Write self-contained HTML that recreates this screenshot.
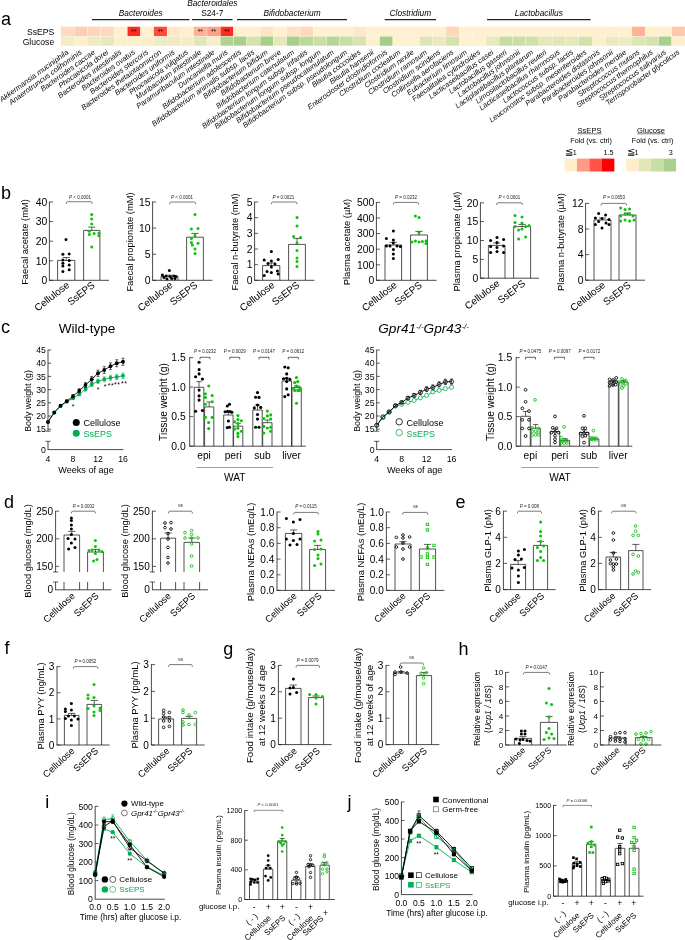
<!DOCTYPE html>
<html lang="en"><head><meta charset="utf-8"><title>Figure</title>
<style>
html,body{margin:0;padding:0;background:#fff;}
body{width:685px;height:940px;overflow:hidden;}
svg{display:block;font-family:'Liberation Sans', Arial, sans-serif;}
text{font-family:'Liberation Sans', Arial, sans-serif;}
</style></head>
<body>
<svg width="685" height="940" viewBox="0 0 685 940">
<rect x="0" y="0" width="685" height="940" fill="#ffffff"/>
<rect x="60.90" y="26.60" width="13.33" height="9.70" fill="#ffd9c0" stroke="#fff6e4" stroke-width="0.35"/>
<rect x="60.90" y="36.30" width="13.33" height="9.60" fill="#f3ecc6" stroke="#fff6e4" stroke-width="0.35"/>
<rect x="74.18" y="26.60" width="13.33" height="9.70" fill="#ffcdb4" stroke="#fff6e4" stroke-width="0.35"/>
<rect x="74.18" y="36.30" width="13.33" height="9.60" fill="#fbefcc" stroke="#fff6e4" stroke-width="0.35"/>
<rect x="87.46" y="26.60" width="13.33" height="9.70" fill="#ffd5bc" stroke="#fff6e4" stroke-width="0.35"/>
<rect x="87.46" y="36.30" width="13.33" height="9.60" fill="#eeeac2" stroke="#fff6e4" stroke-width="0.35"/>
<rect x="100.74" y="26.60" width="13.33" height="9.70" fill="#ffd8c0" stroke="#fff6e4" stroke-width="0.35"/>
<rect x="100.74" y="36.30" width="13.33" height="9.60" fill="#e9e8bd" stroke="#fff6e4" stroke-width="0.35"/>
<rect x="114.02" y="26.60" width="13.33" height="9.70" fill="#fff0d0" stroke="#fff6e4" stroke-width="0.35"/>
<rect x="114.02" y="36.30" width="13.33" height="9.60" fill="#fbefcc" stroke="#fff6e4" stroke-width="0.35"/>
<rect x="127.30" y="26.60" width="13.33" height="9.70" fill="#ff2a20" stroke="#fff6e4" stroke-width="0.35"/>
<rect x="127.30" y="36.30" width="13.33" height="9.60" fill="#fdf0cf" stroke="#fff6e4" stroke-width="0.35"/>
<rect x="140.58" y="26.60" width="13.33" height="9.70" fill="#fff0d0" stroke="#fff6e4" stroke-width="0.35"/>
<rect x="140.58" y="36.30" width="13.33" height="9.60" fill="#f8eeca" stroke="#fff6e4" stroke-width="0.35"/>
<rect x="153.86" y="26.60" width="13.33" height="9.70" fill="#ff4a3c" stroke="#fff6e4" stroke-width="0.35"/>
<rect x="153.86" y="36.30" width="13.33" height="9.60" fill="#efebc4" stroke="#fff6e4" stroke-width="0.35"/>
<rect x="167.14" y="26.60" width="13.33" height="9.70" fill="#ffe6cc" stroke="#fff6e4" stroke-width="0.35"/>
<rect x="167.14" y="36.30" width="13.33" height="9.60" fill="#eeeac2" stroke="#fff6e4" stroke-width="0.35"/>
<rect x="180.42" y="26.60" width="13.33" height="9.70" fill="#fff0d0" stroke="#fff6e4" stroke-width="0.35"/>
<rect x="180.42" y="36.30" width="13.33" height="9.60" fill="#f5edc8" stroke="#fff6e4" stroke-width="0.35"/>
<rect x="193.70" y="26.60" width="13.33" height="9.70" fill="#ffb09a" stroke="#fff6e4" stroke-width="0.35"/>
<rect x="193.70" y="36.30" width="13.33" height="9.60" fill="#e0e6b6" stroke="#fff6e4" stroke-width="0.35"/>
<rect x="206.98" y="26.60" width="13.33" height="9.70" fill="#ffa08c" stroke="#fff6e4" stroke-width="0.35"/>
<rect x="206.98" y="36.30" width="13.33" height="9.60" fill="#f5eec8" stroke="#fff6e4" stroke-width="0.35"/>
<rect x="220.26" y="26.60" width="13.33" height="9.70" fill="#ff2a20" stroke="#fff6e4" stroke-width="0.35"/>
<rect x="220.26" y="36.30" width="13.33" height="9.60" fill="#b0d392" stroke="#fff6e4" stroke-width="0.35"/>
<rect x="233.54" y="26.60" width="13.33" height="9.70" fill="#fff0d0" stroke="#fff6e4" stroke-width="0.35"/>
<rect x="233.54" y="36.30" width="13.33" height="9.60" fill="#a8d08c" stroke="#fff6e4" stroke-width="0.35"/>
<rect x="246.82" y="26.60" width="13.33" height="9.70" fill="#fff0d0" stroke="#fff6e4" stroke-width="0.35"/>
<rect x="246.82" y="36.30" width="13.33" height="9.60" fill="#d6e2ae" stroke="#fff6e4" stroke-width="0.35"/>
<rect x="260.10" y="26.60" width="13.33" height="9.70" fill="#ffe4c8" stroke="#fff6e4" stroke-width="0.35"/>
<rect x="260.10" y="36.30" width="13.33" height="9.60" fill="#a6cf8a" stroke="#fff6e4" stroke-width="0.35"/>
<rect x="273.38" y="26.60" width="13.33" height="9.70" fill="#fff0d0" stroke="#fff6e4" stroke-width="0.35"/>
<rect x="273.38" y="36.30" width="13.33" height="9.60" fill="#e6e8ba" stroke="#fff6e4" stroke-width="0.35"/>
<rect x="286.66" y="26.60" width="13.33" height="9.70" fill="#ffe2c6" stroke="#fff6e4" stroke-width="0.35"/>
<rect x="286.66" y="36.30" width="13.33" height="9.60" fill="#a6cf8a" stroke="#fff6e4" stroke-width="0.35"/>
<rect x="299.94" y="26.60" width="13.33" height="9.70" fill="#ffd9be" stroke="#fff6e4" stroke-width="0.35"/>
<rect x="299.94" y="36.30" width="13.33" height="9.60" fill="#bcd99c" stroke="#fff6e4" stroke-width="0.35"/>
<rect x="313.22" y="26.60" width="13.33" height="9.70" fill="#fff0d0" stroke="#fff6e4" stroke-width="0.35"/>
<rect x="313.22" y="36.30" width="13.33" height="9.60" fill="#cbdea6" stroke="#fff6e4" stroke-width="0.35"/>
<rect x="326.50" y="26.60" width="13.33" height="9.70" fill="#fff0d0" stroke="#fff6e4" stroke-width="0.35"/>
<rect x="326.50" y="36.30" width="13.33" height="9.60" fill="#b4d596" stroke="#fff6e4" stroke-width="0.35"/>
<rect x="339.78" y="26.60" width="13.33" height="9.70" fill="#fff0d0" stroke="#fff6e4" stroke-width="0.35"/>
<rect x="339.78" y="36.30" width="13.33" height="9.60" fill="#c8dda4" stroke="#fff6e4" stroke-width="0.35"/>
<rect x="353.06" y="26.60" width="13.33" height="9.70" fill="#ffe6cc" stroke="#fff6e4" stroke-width="0.35"/>
<rect x="353.06" y="36.30" width="13.33" height="9.60" fill="#d8e3b0" stroke="#fff6e4" stroke-width="0.35"/>
<rect x="366.34" y="26.60" width="13.33" height="9.70" fill="#fff0d0" stroke="#fff6e4" stroke-width="0.35"/>
<rect x="366.34" y="36.30" width="13.33" height="9.60" fill="#fdf0ce" stroke="#fff6e4" stroke-width="0.35"/>
<rect x="379.62" y="26.60" width="13.33" height="9.70" fill="#fff0d0" stroke="#fff6e4" stroke-width="0.35"/>
<rect x="379.62" y="36.30" width="13.33" height="9.60" fill="#a4ce88" stroke="#fff6e4" stroke-width="0.35"/>
<rect x="392.90" y="26.60" width="13.33" height="9.70" fill="#fff0d0" stroke="#fff6e4" stroke-width="0.35"/>
<rect x="392.90" y="36.30" width="13.33" height="9.60" fill="#fff0d0" stroke="#fff6e4" stroke-width="0.35"/>
<rect x="406.18" y="26.60" width="13.33" height="9.70" fill="#fff0d0" stroke="#fff6e4" stroke-width="0.35"/>
<rect x="406.18" y="36.30" width="13.33" height="9.60" fill="#fff0d0" stroke="#fff6e4" stroke-width="0.35"/>
<rect x="419.46" y="26.60" width="13.33" height="9.70" fill="#fff0d0" stroke="#fff6e4" stroke-width="0.35"/>
<rect x="419.46" y="36.30" width="13.33" height="9.60" fill="#dde5b4" stroke="#fff6e4" stroke-width="0.35"/>
<rect x="432.74" y="26.60" width="13.33" height="9.70" fill="#fff0d0" stroke="#fff6e4" stroke-width="0.35"/>
<rect x="432.74" y="36.30" width="13.33" height="9.60" fill="#ece9c0" stroke="#fff6e4" stroke-width="0.35"/>
<rect x="446.02" y="26.60" width="13.33" height="9.70" fill="#ffd6ba" stroke="#fff6e4" stroke-width="0.35"/>
<rect x="446.02" y="36.30" width="13.33" height="9.60" fill="#d6e2ae" stroke="#fff6e4" stroke-width="0.35"/>
<rect x="459.30" y="26.60" width="13.33" height="9.70" fill="#fff0d0" stroke="#fff6e4" stroke-width="0.35"/>
<rect x="459.30" y="36.30" width="13.33" height="9.60" fill="#fff0d0" stroke="#fff6e4" stroke-width="0.35"/>
<rect x="472.58" y="26.60" width="13.33" height="9.70" fill="#fff0d0" stroke="#fff6e4" stroke-width="0.35"/>
<rect x="472.58" y="36.30" width="13.33" height="9.60" fill="#fff0d0" stroke="#fff6e4" stroke-width="0.35"/>
<rect x="485.86" y="26.60" width="13.33" height="9.70" fill="#fff0d0" stroke="#fff6e4" stroke-width="0.35"/>
<rect x="485.86" y="36.30" width="13.33" height="9.60" fill="#e8e9bc" stroke="#fff6e4" stroke-width="0.35"/>
<rect x="499.14" y="26.60" width="13.33" height="9.70" fill="#fff0d0" stroke="#fff6e4" stroke-width="0.35"/>
<rect x="499.14" y="36.30" width="13.33" height="9.60" fill="#c6dca2" stroke="#fff6e4" stroke-width="0.35"/>
<rect x="512.42" y="26.60" width="13.33" height="9.70" fill="#fff0d0" stroke="#fff6e4" stroke-width="0.35"/>
<rect x="512.42" y="36.30" width="13.33" height="9.60" fill="#cbdea6" stroke="#fff6e4" stroke-width="0.35"/>
<rect x="525.70" y="26.60" width="13.33" height="9.70" fill="#fff0d0" stroke="#fff6e4" stroke-width="0.35"/>
<rect x="525.70" y="36.30" width="13.33" height="9.60" fill="#d0e0aa" stroke="#fff6e4" stroke-width="0.35"/>
<rect x="538.98" y="26.60" width="13.33" height="9.70" fill="#fff0d0" stroke="#fff6e4" stroke-width="0.35"/>
<rect x="538.98" y="36.30" width="13.33" height="9.60" fill="#e6e8ba" stroke="#fff6e4" stroke-width="0.35"/>
<rect x="552.26" y="26.60" width="13.33" height="9.70" fill="#fff0d0" stroke="#fff6e4" stroke-width="0.35"/>
<rect x="552.26" y="36.30" width="13.33" height="9.60" fill="#e0e6b6" stroke="#fff6e4" stroke-width="0.35"/>
<rect x="565.54" y="26.60" width="13.33" height="9.70" fill="#fff0d0" stroke="#fff6e4" stroke-width="0.35"/>
<rect x="565.54" y="36.30" width="13.33" height="9.60" fill="#e6e7ba" stroke="#fff6e4" stroke-width="0.35"/>
<rect x="578.82" y="26.60" width="13.33" height="9.70" fill="#fff0d0" stroke="#fff6e4" stroke-width="0.35"/>
<rect x="578.82" y="36.30" width="13.33" height="9.60" fill="#d4e1ac" stroke="#fff6e4" stroke-width="0.35"/>
<rect x="592.10" y="26.60" width="13.33" height="9.70" fill="#ffeed0" stroke="#fff6e4" stroke-width="0.35"/>
<rect x="592.10" y="36.30" width="13.33" height="9.60" fill="#fbefcc" stroke="#fff6e4" stroke-width="0.35"/>
<rect x="605.38" y="26.60" width="13.33" height="9.70" fill="#ffeed0" stroke="#fff6e4" stroke-width="0.35"/>
<rect x="605.38" y="36.30" width="13.33" height="9.60" fill="#ece9c0" stroke="#fff6e4" stroke-width="0.35"/>
<rect x="618.66" y="26.60" width="13.33" height="9.70" fill="#fff0d0" stroke="#fff6e4" stroke-width="0.35"/>
<rect x="618.66" y="36.30" width="13.33" height="9.60" fill="#f0ebc4" stroke="#fff6e4" stroke-width="0.35"/>
<rect x="631.94" y="26.60" width="13.33" height="9.70" fill="#ffb296" stroke="#fff6e4" stroke-width="0.35"/>
<rect x="631.94" y="36.30" width="13.33" height="9.60" fill="#dde5b4" stroke="#fff6e4" stroke-width="0.35"/>
<rect x="645.22" y="26.60" width="13.33" height="9.70" fill="#fff0d0" stroke="#fff6e4" stroke-width="0.35"/>
<rect x="645.22" y="36.30" width="13.33" height="9.60" fill="#d6e2ae" stroke="#fff6e4" stroke-width="0.35"/>
<rect x="658.50" y="26.60" width="13.33" height="9.70" fill="#fff0d0" stroke="#fff6e4" stroke-width="0.35"/>
<rect x="658.50" y="36.30" width="13.33" height="9.60" fill="#a8d08c" stroke="#fff6e4" stroke-width="0.35"/>
<rect x="671.78" y="26.60" width="13.33" height="9.70" fill="#ffc8ae" stroke="#fff6e4" stroke-width="0.35"/>
<rect x="671.78" y="36.30" width="13.33" height="9.60" fill="#fbefcc" stroke="#fff6e4" stroke-width="0.35"/>
<text x="133.94" y="34.00" font-size="6.6" text-anchor="middle" fill="#1a0000">**</text>
<text x="160.50" y="34.00" font-size="6.6" text-anchor="middle" fill="#1a0000">**</text>
<text x="200.34" y="34.00" font-size="6.6" text-anchor="middle" fill="#1a0000">**</text>
<text x="213.62" y="34.00" font-size="6.6" text-anchor="middle" fill="#1a0000">**</text>
<text x="226.90" y="34.00" font-size="6.6" text-anchor="middle" fill="#1a0000">**</text>
<text font-size="7.5" text-anchor="end" font-style="italic" transform="translate(69.04 53.40) rotate(-36)">Akkermansia muciniphila</text>
<text font-size="7.5" text-anchor="end" font-style="italic" transform="translate(82.32 53.40) rotate(-36)">Anaerotruncus colihominis</text>
<text font-size="7.5" text-anchor="end" font-style="italic" transform="translate(95.60 53.40) rotate(-36)">Bacteroides caccae</text>
<text font-size="7.5" text-anchor="end" font-style="italic" transform="translate(108.88 53.40) rotate(-36)">Phocaeicola dorei</text>
<text font-size="7.5" text-anchor="end" font-style="italic" transform="translate(122.16 53.40) rotate(-36)">Bacteroides intestinalis</text>
<text font-size="7.5" text-anchor="end" font-style="italic" transform="translate(135.44 53.40) rotate(-36)">Bacteroides ovatus</text>
<text font-size="7.5" text-anchor="end" font-style="italic" transform="translate(148.72 53.40) rotate(-36)">Bacteroides stercoris</text>
<text font-size="7.5" text-anchor="end" font-style="italic" transform="translate(162.00 53.40) rotate(-36)">Bacteroides thetaiotaomicron</text>
<text font-size="7.5" text-anchor="end" font-style="italic" transform="translate(175.28 53.40) rotate(-36)">Bacteroides uniformis</text>
<text font-size="7.5" text-anchor="end" font-style="italic" transform="translate(188.56 53.40) rotate(-36)">Phocaeicola vulgatus</text>
<text font-size="7.5" text-anchor="end" font-style="italic" transform="translate(201.84 53.40) rotate(-36)">Muribaculum intestinale</text>
<text font-size="7.5" text-anchor="end" font-style="italic" transform="translate(215.12 53.40) rotate(-36)">Paramuribaculum intestinale</text>
<text font-size="7.5" text-anchor="end" font-style="italic" transform="translate(228.40 53.40) rotate(-36)">Duncaniella muris</text>
<text font-size="7.5" text-anchor="end" font-style="italic" transform="translate(241.68 53.40) rotate(-36)">Bifidobacterium adolescentis</text>
<text font-size="7.5" text-anchor="end" font-style="italic" transform="translate(254.96 53.40) rotate(-36)">Bifidobacterium animalis subsp. lactis</text>
<text font-size="7.5" text-anchor="end" font-style="italic" transform="translate(268.24 53.40) rotate(-36)">Bifidobacterium bifidum</text>
<text font-size="7.5" text-anchor="end" font-style="italic" transform="translate(281.52 53.40) rotate(-36)">Bifidobacterium breve</text>
<text font-size="7.5" text-anchor="end" font-style="italic" transform="translate(294.80 53.40) rotate(-36)">Bifidobacterium catenulatum</text>
<text font-size="7.5" text-anchor="end" font-style="italic" transform="translate(308.08 53.40) rotate(-36)">Bifidobacterium longum subsp. infantis</text>
<text font-size="7.5" text-anchor="end" font-style="italic" transform="translate(321.36 53.40) rotate(-36)">Bifidobacterium longum subsp. longum</text>
<text font-size="7.5" text-anchor="end" font-style="italic" transform="translate(334.64 53.40) rotate(-36)">Bifidobacterium pseudocatenulatum</text>
<text font-size="7.5" text-anchor="end" font-style="italic" transform="translate(347.92 53.40) rotate(-36)">Bifidobacterium subsp. pseudolongum</text>
<text font-size="7.5" text-anchor="end" font-style="italic" transform="translate(361.20 53.40) rotate(-36)">Blautia coccoides</text>
<text font-size="7.5" text-anchor="end" font-style="italic" transform="translate(374.48 53.40) rotate(-36)">Blautia hansenii</text>
<text font-size="7.5" text-anchor="end" font-style="italic" transform="translate(387.76 53.40) rotate(-36)">Enterocloster clostridioformis</text>
<text font-size="7.5" text-anchor="end" font-style="italic" transform="translate(401.04 53.40) rotate(-36)">Clostridium cocleatum</text>
<text font-size="7.5" text-anchor="end" font-style="italic" transform="translate(414.32 53.40) rotate(-36)">Clostridium nexile</text>
<text font-size="7.5" text-anchor="end" font-style="italic" transform="translate(427.60 53.40) rotate(-36)">Clostridium ramosum</text>
<text font-size="7.5" text-anchor="end" font-style="italic" transform="translate(440.88 53.40) rotate(-36)">Clostridium scindens</text>
<text font-size="7.5" text-anchor="end" font-style="italic" transform="translate(454.16 53.40) rotate(-36)">Collinsella aerofaciens</text>
<text font-size="7.5" text-anchor="end" font-style="italic" transform="translate(467.44 53.40) rotate(-36)">Eubacterium limosum</text>
<text font-size="7.5" text-anchor="end" font-style="italic" transform="translate(480.72 53.40) rotate(-36)">Faecalitalea cylindroides</text>
<text font-size="7.5" text-anchor="end" font-style="italic" transform="translate(494.00 53.40) rotate(-36)">Lacticaseibacillus casei</text>
<text font-size="7.5" text-anchor="end" font-style="italic" transform="translate(507.28 53.40) rotate(-36)">Lactobacillus gasseri</text>
<text font-size="7.5" text-anchor="end" font-style="italic" transform="translate(520.56 53.40) rotate(-36)">Lactobacillus johnsonii</text>
<text font-size="7.5" text-anchor="end" font-style="italic" transform="translate(533.84 53.40) rotate(-36)">Lactiplantibacillus plantarum</text>
<text font-size="7.5" text-anchor="end" font-style="italic" transform="translate(547.12 53.40) rotate(-36)">Limosilactobacillus reuteri</text>
<text font-size="7.5" text-anchor="end" font-style="italic" transform="translate(560.40 53.40) rotate(-36)">Lacticaseibacillus rhamnosus</text>
<text font-size="7.5" text-anchor="end" font-style="italic" transform="translate(573.68 53.40) rotate(-36)">Lactococcus subsp. lactis</text>
<text font-size="7.5" text-anchor="end" font-style="italic" transform="translate(586.96 53.40) rotate(-36)">Leuconostoc subsp. mesenteroides</text>
<text font-size="7.5" text-anchor="end" font-style="italic" transform="translate(600.24 53.40) rotate(-36)">Parabacteroides distasonis</text>
<text font-size="7.5" text-anchor="end" font-style="italic" transform="translate(613.52 53.40) rotate(-36)">Parabacteroides johnsonii</text>
<text font-size="7.5" text-anchor="end" font-style="italic" transform="translate(626.80 53.40) rotate(-36)">Parabacteroides merdae</text>
<text font-size="7.5" text-anchor="end" font-style="italic" transform="translate(640.08 53.40) rotate(-36)">Streptococcus mutans</text>
<text font-size="7.5" text-anchor="end" font-style="italic" transform="translate(653.36 53.40) rotate(-36)">Streptococcus thermophilus</text>
<text font-size="7.5" text-anchor="end" font-style="italic" transform="translate(666.64 53.40) rotate(-36)">Streptococcus salivarius</text>
<text font-size="7.5" text-anchor="end" font-style="italic" transform="translate(679.92 53.40) rotate(-36)">Terrisporobacter glycolicus</text>
<text x="1.00" y="24.50" font-size="18" >a</text>
<text x="54.20" y="34.90" font-size="8.6" text-anchor="end">SsEPS</text>
<text x="54.20" y="44.90" font-size="8.6" text-anchor="end">Glucose</text>
<line x1="92.00" y1="19.60" x2="189.50" y2="19.60" stroke="#222" stroke-width="1.1" />
<text x="140.75" y="15.90" font-size="8.3" text-anchor="middle" font-style="italic">Bacteroides</text>
<line x1="237.00" y1="19.60" x2="347.00" y2="19.60" stroke="#222" stroke-width="1.1" />
<text x="292.00" y="15.90" font-size="8.3" text-anchor="middle" font-style="italic">Bifidobacterium</text>
<line x1="384.70" y1="19.60" x2="436.00" y2="19.60" stroke="#222" stroke-width="1.1" />
<text x="410.35" y="15.90" font-size="8.3" text-anchor="middle" font-style="italic">Clostridium</text>
<line x1="487.00" y1="19.60" x2="590.60" y2="19.60" stroke="#222" stroke-width="1.1" />
<text x="538.80" y="15.90" font-size="8.3" text-anchor="middle" font-style="italic">Lactobacillus</text>
<line x1="192.00" y1="19.60" x2="232.50" y2="19.60" stroke="#222" stroke-width="1.1" />
<text x="212.30" y="6.40" font-size="8.3" text-anchor="middle" font-style="italic">Bacteroidales</text>
<text x="212.30" y="15.90" font-size="8.3" text-anchor="middle">S24-7</text>
<text x="589.50" y="132.60" font-size="7.6" text-anchor="middle">SsEPS</text>
<line x1="577.40" y1="133.80" x2="601.60" y2="133.80" stroke="#222" stroke-width="0.6" />
<text x="591.10" y="143.20" font-size="7.2" text-anchor="middle">Fold (vs. ctrl)</text>
<text x="565.10" y="155.40" font-size="9.5" >≦</text>
<text x="572.80" y="155.00" font-size="7.2" >1</text>
<text x="613.60" y="155.00" font-size="7.2" text-anchor="end">1.5</text>
<rect x="564.50" y="158.60" width="12.50" height="12.90" fill="#ffeecb"/>
<rect x="576.95" y="158.60" width="12.50" height="12.90" fill="#ff9a84"/>
<rect x="589.40" y="158.60" width="12.50" height="12.90" fill="#ff5548"/>
<rect x="601.85" y="158.60" width="12.50" height="12.90" fill="#ff0000"/>
<text x="651.00" y="132.60" font-size="7.6" text-anchor="middle">Glucose</text>
<line x1="637.20" y1="133.80" x2="664.80" y2="133.80" stroke="#222" stroke-width="0.6" />
<text x="652.60" y="143.20" font-size="7.2" text-anchor="middle">Fold (vs. ctrl)</text>
<text x="626.80" y="155.40" font-size="9.5" >≦</text>
<text x="634.50" y="155.00" font-size="7.2" >1</text>
<text x="672.80" y="155.00" font-size="7.2" text-anchor="end">3</text>
<rect x="626.20" y="158.60" width="12.50" height="12.90" fill="#ffeecb"/>
<rect x="638.65" y="158.60" width="12.50" height="12.90" fill="#e3e7b8"/>
<rect x="651.10" y="158.60" width="12.50" height="12.90" fill="#c8dda4"/>
<rect x="663.55" y="158.60" width="12.50" height="12.90" fill="#a9d08e"/>
<text x="1.00" y="198.50" font-size="18" >b</text>
<path d="M57.60 280.30 L57.60 260.40 L74.80 260.40 L74.80 280.30" stroke="#1a1a1a" stroke-width="0.75" fill="#fff" />
<path d="M83.60 280.30 L83.60 230.40 L99.90 230.40 L99.90 280.30" stroke="#1a1a1a" stroke-width="0.75" fill="#fff" />
<line x1="66.20" y1="257.50" x2="66.20" y2="260.40" stroke="#1a1a1a" stroke-width="0.7" />
<line x1="62.60" y1="257.50" x2="69.80" y2="257.50" stroke="#1a1a1a" stroke-width="0.7" />
<line x1="91.75" y1="227.10" x2="91.75" y2="230.40" stroke="#1a1a1a" stroke-width="0.7" />
<line x1="88.15" y1="227.10" x2="95.35" y2="227.10" stroke="#1a1a1a" stroke-width="0.7" />
<circle cx="66.00" cy="239.50" r="1.5" fill="#000"/>
<circle cx="62.90" cy="254.20" r="1.5" fill="#000"/>
<circle cx="69.20" cy="253.90" r="1.5" fill="#000"/>
<circle cx="62.90" cy="260.10" r="1.5" fill="#000"/>
<circle cx="69.20" cy="260.60" r="1.5" fill="#000"/>
<circle cx="62.90" cy="263.20" r="1.5" fill="#000"/>
<circle cx="62.90" cy="265.90" r="1.5" fill="#000"/>
<circle cx="69.20" cy="265.10" r="1.5" fill="#000"/>
<circle cx="69.20" cy="269.70" r="1.5" fill="#000"/>
<circle cx="62.90" cy="271.60" r="1.5" fill="#000"/>
<circle cx="91.70" cy="214.40" r="1.5" fill="#0dc10d"/>
<circle cx="91.70" cy="218.90" r="1.5" fill="#0dc10d"/>
<circle cx="91.70" cy="224.00" r="1.5" fill="#0dc10d"/>
<circle cx="89.30" cy="231.20" r="1.5" fill="#0dc10d"/>
<circle cx="89.30" cy="234.50" r="1.5" fill="#0dc10d"/>
<circle cx="94.10" cy="233.60" r="1.5" fill="#0dc10d"/>
<circle cx="98.90" cy="233.30" r="1.5" fill="#0dc10d"/>
<circle cx="98.90" cy="235.70" r="1.5" fill="#0dc10d"/>
<circle cx="91.70" cy="247.00" r="1.5" fill="#0dc10d"/>
<line x1="49.40" y1="201.60" x2="49.40" y2="280.30" stroke="#1a1a1a" stroke-width="0.8" />
<line x1="49.40" y1="202.00" x2="53.00" y2="202.00" stroke="#1a1a1a" stroke-width="0.7" />
<text x="47.40" y="205.74" font-size="10.4" text-anchor="end">40</text>
<line x1="49.40" y1="221.50" x2="53.00" y2="221.50" stroke="#1a1a1a" stroke-width="0.7" />
<text x="47.40" y="225.24" font-size="10.4" text-anchor="end">30</text>
<line x1="49.40" y1="241.20" x2="53.00" y2="241.20" stroke="#1a1a1a" stroke-width="0.7" />
<text x="47.40" y="244.94" font-size="10.4" text-anchor="end">20</text>
<line x1="49.40" y1="260.80" x2="53.00" y2="260.80" stroke="#1a1a1a" stroke-width="0.7" />
<text x="47.40" y="264.54" font-size="10.4" text-anchor="end">10</text>
<line x1="49.40" y1="280.30" x2="53.00" y2="280.30" stroke="#1a1a1a" stroke-width="0.7" />
<text x="47.40" y="284.04" font-size="10.4" text-anchor="end">0</text>
<line x1="49.00" y1="280.30" x2="109.00" y2="280.30" stroke="#1a1a1a" stroke-width="0.8" />
<path d="M66.30 203.90 Q66.30 201.70 67.50 201.70 L91.00 201.70 Q92.20 201.70 92.20 203.90" stroke="#333" stroke-width="0.65" fill="none" />
<text x="80.00" y="198.50" font-size="4.5" text-anchor="middle" fill="#222"><tspan font-style="italic">P</tspan> &lt; 0.0001</text>
<text font-size="9.35" text-anchor="middle" transform="translate(27.57 242.00) rotate(-90)">Faecal acetate (mM)</text>
<text font-size="10.0" text-anchor="end" transform="translate(70.20 286.30) rotate(-38)">Cellulose</text>
<text font-size="10.0" text-anchor="end" transform="translate(95.60 286.30) rotate(-38)">SsEPS</text>
<path d="M161.00 280.30 L161.00 276.40 L178.00 276.40 L178.00 280.30" stroke="#1a1a1a" stroke-width="0.75" fill="#fff" />
<path d="M186.60 280.30 L186.60 237.20 L203.40 237.20 L203.40 280.30" stroke="#1a1a1a" stroke-width="0.75" fill="#fff" />
<line x1="169.50" y1="275.20" x2="169.50" y2="276.40" stroke="#1a1a1a" stroke-width="0.7" />
<line x1="165.90" y1="275.20" x2="173.10" y2="275.20" stroke="#1a1a1a" stroke-width="0.7" />
<line x1="195.00" y1="233.40" x2="195.00" y2="237.20" stroke="#1a1a1a" stroke-width="0.7" />
<line x1="191.40" y1="233.40" x2="198.60" y2="233.40" stroke="#1a1a1a" stroke-width="0.7" />
<circle cx="169.40" cy="270.40" r="1.5" fill="#000"/>
<circle cx="162.40" cy="275.00" r="1.5" fill="#000"/>
<circle cx="166.00" cy="276.00" r="1.5" fill="#000"/>
<circle cx="170.00" cy="276.40" r="1.5" fill="#000"/>
<circle cx="174.00" cy="276.00" r="1.5" fill="#000"/>
<circle cx="176.00" cy="276.40" r="1.5" fill="#000"/>
<circle cx="167.00" cy="279.00" r="1.5" fill="#000"/>
<circle cx="171.60" cy="278.40" r="1.5" fill="#000"/>
<circle cx="164.00" cy="277.60" r="1.5" fill="#000"/>
<circle cx="175.00" cy="278.60" r="1.5" fill="#000"/>
<circle cx="195.00" cy="214.60" r="1.5" fill="#0dc10d"/>
<circle cx="191.40" cy="229.00" r="1.5" fill="#0dc10d"/>
<circle cx="198.00" cy="228.40" r="1.5" fill="#0dc10d"/>
<circle cx="195.00" cy="235.60" r="1.5" fill="#0dc10d"/>
<circle cx="191.40" cy="242.40" r="1.5" fill="#0dc10d"/>
<circle cx="198.00" cy="243.20" r="1.5" fill="#0dc10d"/>
<circle cx="192.40" cy="245.00" r="1.5" fill="#0dc10d"/>
<circle cx="195.00" cy="249.00" r="1.5" fill="#0dc10d"/>
<circle cx="195.00" cy="253.40" r="1.5" fill="#0dc10d"/>
<circle cx="191.40" cy="238.50" r="1.5" fill="#0dc10d"/>
<line x1="152.60" y1="201.60" x2="152.60" y2="280.30" stroke="#1a1a1a" stroke-width="0.8" />
<line x1="152.60" y1="202.00" x2="156.20" y2="202.00" stroke="#1a1a1a" stroke-width="0.7" />
<text x="150.60" y="205.74" font-size="10.4" text-anchor="end">15</text>
<line x1="152.60" y1="228.10" x2="156.20" y2="228.10" stroke="#1a1a1a" stroke-width="0.7" />
<text x="150.60" y="231.84" font-size="10.4" text-anchor="end">10</text>
<line x1="152.60" y1="254.30" x2="156.20" y2="254.30" stroke="#1a1a1a" stroke-width="0.7" />
<text x="150.60" y="258.04" font-size="10.4" text-anchor="end">5</text>
<line x1="152.60" y1="280.30" x2="156.20" y2="280.30" stroke="#1a1a1a" stroke-width="0.7" />
<text x="150.60" y="284.04" font-size="10.4" text-anchor="end">0</text>
<line x1="152.20" y1="280.30" x2="212.40" y2="280.30" stroke="#1a1a1a" stroke-width="0.8" />
<path d="M169.60 204.20 Q169.60 202.00 170.80 202.00 L194.40 202.00 Q195.60 202.00 195.60 204.20" stroke="#333" stroke-width="0.65" fill="none" />
<text x="182.00" y="198.50" font-size="4.5" text-anchor="middle" fill="#222"><tspan font-style="italic">P</tspan> &lt; 0.0001</text>
<text font-size="9.35" text-anchor="middle" transform="translate(133.37 242.00) rotate(-90)">Faecal propionate (mM)</text>
<text font-size="10.0" text-anchor="end" transform="translate(173.50 286.30) rotate(-38)">Cellulose</text>
<text font-size="10.0" text-anchor="end" transform="translate(198.20 286.30) rotate(-38)">SsEPS</text>
<path d="M262.60 280.30 L262.60 265.60 L279.80 265.60 L279.80 280.30" stroke="#1a1a1a" stroke-width="0.75" fill="#fff" />
<path d="M288.60 280.30 L288.60 244.40 L305.40 244.40 L305.40 280.30" stroke="#1a1a1a" stroke-width="0.75" fill="#fff" />
<line x1="271.20" y1="263.00" x2="271.20" y2="265.60" stroke="#1a1a1a" stroke-width="0.7" />
<line x1="267.60" y1="263.00" x2="274.80" y2="263.00" stroke="#1a1a1a" stroke-width="0.7" />
<line x1="297.00" y1="238.40" x2="297.00" y2="244.40" stroke="#1a1a1a" stroke-width="0.7" />
<line x1="293.40" y1="238.40" x2="300.60" y2="238.40" stroke="#1a1a1a" stroke-width="0.7" />
<circle cx="271.40" cy="251.40" r="1.5" fill="#000"/>
<circle cx="264.20" cy="260.00" r="1.5" fill="#000"/>
<circle cx="271.40" cy="261.00" r="1.5" fill="#000"/>
<circle cx="278.20" cy="259.60" r="1.5" fill="#000"/>
<circle cx="268.00" cy="263.60" r="1.5" fill="#000"/>
<circle cx="275.00" cy="264.00" r="1.5" fill="#000"/>
<circle cx="271.40" cy="267.00" r="1.5" fill="#000"/>
<circle cx="267.00" cy="271.60" r="1.5" fill="#000"/>
<circle cx="271.40" cy="272.40" r="1.5" fill="#000"/>
<circle cx="277.40" cy="271.00" r="1.5" fill="#000"/>
<circle cx="264.20" cy="275.60" r="1.5" fill="#000"/>
<circle cx="278.20" cy="274.00" r="1.5" fill="#000"/>
<circle cx="297.00" cy="217.60" r="1.5" fill="#0dc10d"/>
<circle cx="297.00" cy="226.00" r="1.5" fill="#0dc10d"/>
<circle cx="293.60" cy="236.40" r="1.5" fill="#0dc10d"/>
<circle cx="300.60" cy="237.60" r="1.5" fill="#0dc10d"/>
<circle cx="297.00" cy="243.00" r="1.5" fill="#0dc10d"/>
<circle cx="297.00" cy="250.40" r="1.5" fill="#0dc10d"/>
<circle cx="297.00" cy="258.00" r="1.5" fill="#0dc10d"/>
<circle cx="297.00" cy="261.60" r="1.5" fill="#0dc10d"/>
<circle cx="297.00" cy="266.60" r="1.5" fill="#0dc10d"/>
<line x1="254.60" y1="201.60" x2="254.60" y2="280.30" stroke="#1a1a1a" stroke-width="0.8" />
<line x1="254.60" y1="202.00" x2="258.20" y2="202.00" stroke="#1a1a1a" stroke-width="0.7" />
<text x="252.60" y="205.74" font-size="10.4" text-anchor="end">5</text>
<line x1="254.60" y1="217.70" x2="258.20" y2="217.70" stroke="#1a1a1a" stroke-width="0.7" />
<text x="252.60" y="221.44" font-size="10.4" text-anchor="end">4</text>
<line x1="254.60" y1="233.30" x2="258.20" y2="233.30" stroke="#1a1a1a" stroke-width="0.7" />
<text x="252.60" y="237.04" font-size="10.4" text-anchor="end">3</text>
<line x1="254.60" y1="249.00" x2="258.20" y2="249.00" stroke="#1a1a1a" stroke-width="0.7" />
<text x="252.60" y="252.74" font-size="10.4" text-anchor="end">2</text>
<line x1="254.60" y1="264.70" x2="258.20" y2="264.70" stroke="#1a1a1a" stroke-width="0.7" />
<text x="252.60" y="268.44" font-size="10.4" text-anchor="end">1</text>
<line x1="254.60" y1="280.30" x2="258.20" y2="280.30" stroke="#1a1a1a" stroke-width="0.7" />
<text x="252.60" y="284.04" font-size="10.4" text-anchor="end">0</text>
<line x1="254.20" y1="280.30" x2="314.40" y2="280.30" stroke="#1a1a1a" stroke-width="0.8" />
<path d="M271.40 204.20 Q271.40 202.00 272.60 202.00 L295.80 202.00 Q297.00 202.00 297.00 204.20" stroke="#333" stroke-width="0.65" fill="none" />
<text x="283.40" y="198.50" font-size="4.5" text-anchor="middle" fill="#222"><tspan font-style="italic">P</tspan> = 0.0021</text>
<text font-size="9.35" text-anchor="middle" transform="translate(238.37 242.00) rotate(-90)">Faecal n-butyrate (mM)</text>
<text font-size="10.0" text-anchor="end" transform="translate(275.40 286.30) rotate(-38)">Cellulose</text>
<text font-size="10.0" text-anchor="end" transform="translate(300.20 286.30) rotate(-38)">SsEPS</text>
<path d="M385.00 280.30 L385.00 245.00 L401.60 245.00 L401.60 280.30" stroke="#1a1a1a" stroke-width="0.75" fill="#fff" />
<path d="M410.60 280.30 L410.60 235.00 L427.40 235.00 L427.40 280.30" stroke="#1a1a1a" stroke-width="0.75" fill="#fff" />
<line x1="393.30" y1="242.40" x2="393.30" y2="245.00" stroke="#1a1a1a" stroke-width="0.7" />
<line x1="389.70" y1="242.40" x2="396.90" y2="242.40" stroke="#1a1a1a" stroke-width="0.7" />
<line x1="419.00" y1="231.40" x2="419.00" y2="235.00" stroke="#1a1a1a" stroke-width="0.7" />
<line x1="415.40" y1="231.40" x2="422.60" y2="231.40" stroke="#1a1a1a" stroke-width="0.7" />
<circle cx="393.40" cy="231.00" r="1.5" fill="#000"/>
<circle cx="386.40" cy="238.60" r="1.5" fill="#000"/>
<circle cx="393.40" cy="240.00" r="1.5" fill="#000"/>
<circle cx="393.40" cy="243.00" r="1.5" fill="#000"/>
<circle cx="386.40" cy="246.00" r="1.5" fill="#000"/>
<circle cx="390.00" cy="246.00" r="1.5" fill="#000"/>
<circle cx="397.00" cy="246.00" r="1.5" fill="#000"/>
<circle cx="400.40" cy="246.60" r="1.5" fill="#000"/>
<circle cx="393.40" cy="249.60" r="1.5" fill="#000"/>
<circle cx="393.40" cy="254.00" r="1.5" fill="#000"/>
<circle cx="393.40" cy="258.40" r="1.5" fill="#000"/>
<circle cx="415.40" cy="216.00" r="1.5" fill="#0dc10d"/>
<circle cx="419.00" cy="217.60" r="1.5" fill="#0dc10d"/>
<circle cx="419.00" cy="233.00" r="1.5" fill="#0dc10d"/>
<circle cx="412.00" cy="242.00" r="1.5" fill="#0dc10d"/>
<circle cx="415.40" cy="241.00" r="1.5" fill="#0dc10d"/>
<circle cx="419.00" cy="242.00" r="1.5" fill="#0dc10d"/>
<circle cx="422.40" cy="241.60" r="1.5" fill="#0dc10d"/>
<circle cx="426.00" cy="241.00" r="1.5" fill="#0dc10d"/>
<circle cx="426.00" cy="243.40" r="1.5" fill="#0dc10d"/>
<line x1="376.40" y1="202.00" x2="376.40" y2="280.30" stroke="#1a1a1a" stroke-width="0.8" />
<line x1="376.40" y1="202.40" x2="380.00" y2="202.40" stroke="#1a1a1a" stroke-width="0.7" />
<text x="374.40" y="206.14" font-size="10.4" text-anchor="end">500</text>
<line x1="376.40" y1="218.00" x2="380.00" y2="218.00" stroke="#1a1a1a" stroke-width="0.7" />
<text x="374.40" y="221.74" font-size="10.4" text-anchor="end">400</text>
<line x1="376.40" y1="233.60" x2="380.00" y2="233.60" stroke="#1a1a1a" stroke-width="0.7" />
<text x="374.40" y="237.34" font-size="10.4" text-anchor="end">300</text>
<line x1="376.40" y1="249.20" x2="380.00" y2="249.20" stroke="#1a1a1a" stroke-width="0.7" />
<text x="374.40" y="252.94" font-size="10.4" text-anchor="end">200</text>
<line x1="376.40" y1="264.80" x2="380.00" y2="264.80" stroke="#1a1a1a" stroke-width="0.7" />
<text x="374.40" y="268.54" font-size="10.4" text-anchor="end">100</text>
<line x1="376.40" y1="280.30" x2="380.00" y2="280.30" stroke="#1a1a1a" stroke-width="0.7" />
<text x="374.40" y="284.04" font-size="10.4" text-anchor="end">0</text>
<line x1="376.00" y1="280.30" x2="436.60" y2="280.30" stroke="#1a1a1a" stroke-width="0.8" />
<path d="M393.40 204.60 Q393.40 202.40 394.60 202.40 L417.40 202.40 Q418.60 202.40 418.60 204.60" stroke="#333" stroke-width="0.65" fill="none" />
<text x="406.00" y="198.50" font-size="4.5" text-anchor="middle" fill="#222"><tspan font-style="italic">P</tspan> = 0.0232</text>
<text font-size="9.35" text-anchor="middle" transform="translate(350.37 242.00) rotate(-90)">Plasma acetate (µM)</text>
<text font-size="10.0" text-anchor="end" transform="translate(397.60 286.30) rotate(-38)">Cellulose</text>
<text font-size="10.0" text-anchor="end" transform="translate(422.80 286.30) rotate(-38)">SsEPS</text>
<path d="M488.40 278.20 L488.40 245.40 L505.00 245.40 L505.00 278.20" stroke="#1a1a1a" stroke-width="0.75" fill="#fff" />
<path d="M513.60 278.20 L513.60 226.60 L530.60 226.60 L530.60 278.20" stroke="#1a1a1a" stroke-width="0.75" fill="#fff" />
<line x1="496.70" y1="243.00" x2="496.70" y2="245.40" stroke="#1a1a1a" stroke-width="0.7" />
<line x1="493.10" y1="243.00" x2="500.30" y2="243.00" stroke="#1a1a1a" stroke-width="0.7" />
<line x1="522.10" y1="224.40" x2="522.10" y2="226.60" stroke="#1a1a1a" stroke-width="0.7" />
<line x1="518.50" y1="224.40" x2="525.70" y2="224.40" stroke="#1a1a1a" stroke-width="0.7" />
<circle cx="497.00" cy="237.40" r="1.5" fill="#000"/>
<circle cx="490.60" cy="240.60" r="1.5" fill="#000"/>
<circle cx="503.60" cy="239.40" r="1.5" fill="#000"/>
<circle cx="497.00" cy="242.40" r="1.5" fill="#000"/>
<circle cx="490.60" cy="246.60" r="1.5" fill="#000"/>
<circle cx="497.00" cy="247.60" r="1.5" fill="#000"/>
<circle cx="503.60" cy="246.00" r="1.5" fill="#000"/>
<circle cx="497.00" cy="251.40" r="1.5" fill="#000"/>
<circle cx="503.60" cy="252.40" r="1.5" fill="#000"/>
<circle cx="490.60" cy="252.60" r="1.5" fill="#000"/>
<circle cx="515.00" cy="215.40" r="1.5" fill="#0dc10d"/>
<circle cx="522.00" cy="217.00" r="1.5" fill="#0dc10d"/>
<circle cx="515.00" cy="222.40" r="1.5" fill="#0dc10d"/>
<circle cx="522.00" cy="223.00" r="1.5" fill="#0dc10d"/>
<circle cx="515.00" cy="226.60" r="1.5" fill="#0dc10d"/>
<circle cx="525.60" cy="226.60" r="1.5" fill="#0dc10d"/>
<circle cx="529.00" cy="225.60" r="1.5" fill="#0dc10d"/>
<circle cx="518.60" cy="230.00" r="1.5" fill="#0dc10d"/>
<circle cx="522.00" cy="229.00" r="1.5" fill="#0dc10d"/>
<circle cx="525.60" cy="237.00" r="1.5" fill="#0dc10d"/>
<circle cx="518.60" cy="239.00" r="1.5" fill="#0dc10d"/>
<line x1="480.40" y1="202.40" x2="480.40" y2="278.20" stroke="#1a1a1a" stroke-width="0.8" />
<line x1="480.40" y1="202.80" x2="484.00" y2="202.80" stroke="#1a1a1a" stroke-width="0.7" />
<text x="478.40" y="206.54" font-size="10.4" text-anchor="end">20</text>
<line x1="480.40" y1="221.60" x2="484.00" y2="221.60" stroke="#1a1a1a" stroke-width="0.7" />
<text x="478.40" y="225.34" font-size="10.4" text-anchor="end">15</text>
<line x1="480.40" y1="240.50" x2="484.00" y2="240.50" stroke="#1a1a1a" stroke-width="0.7" />
<text x="478.40" y="244.24" font-size="10.4" text-anchor="end">10</text>
<line x1="480.40" y1="259.40" x2="484.00" y2="259.40" stroke="#1a1a1a" stroke-width="0.7" />
<text x="478.40" y="263.14" font-size="10.4" text-anchor="end">5</text>
<line x1="480.40" y1="278.20" x2="484.00" y2="278.20" stroke="#1a1a1a" stroke-width="0.7" />
<text x="478.40" y="281.94" font-size="10.4" text-anchor="end">0</text>
<line x1="480.00" y1="278.20" x2="539.00" y2="278.20" stroke="#1a1a1a" stroke-width="0.8" />
<path d="M496.60 205.00 Q496.60 202.80 497.80 202.80 L521.20 202.80 Q522.40 202.80 522.40 205.00" stroke="#333" stroke-width="0.65" fill="none" />
<text x="509.40" y="199.10" font-size="4.5" text-anchor="middle" fill="#222"><tspan font-style="italic">P</tspan> &lt; 0.0001</text>
<text font-size="9.35" text-anchor="middle" transform="translate(459.97 241.50) rotate(-90)">Plasma propionate (µM)</text>
<text font-size="10.0" text-anchor="end" transform="translate(500.50 284.60) rotate(-38)">Cellulose</text>
<text font-size="10.0" text-anchor="end" transform="translate(526.00 284.60) rotate(-38)">SsEPS</text>
<path d="M594.00 280.20 L594.00 220.00 L611.00 220.00 L611.00 280.20" stroke="#1a1a1a" stroke-width="0.75" fill="#fff" />
<path d="M619.00 280.20 L619.00 215.00 L636.00 215.00 L636.00 280.20" stroke="#1a1a1a" stroke-width="0.75" fill="#fff" />
<line x1="602.50" y1="218.00" x2="602.50" y2="220.00" stroke="#1a1a1a" stroke-width="0.7" />
<line x1="598.90" y1="218.00" x2="606.10" y2="218.00" stroke="#1a1a1a" stroke-width="0.7" />
<line x1="627.50" y1="213.00" x2="627.50" y2="215.00" stroke="#1a1a1a" stroke-width="0.7" />
<line x1="623.90" y1="213.00" x2="631.10" y2="213.00" stroke="#1a1a1a" stroke-width="0.7" />
<circle cx="598.60" cy="213.60" r="1.5" fill="#000"/>
<circle cx="605.60" cy="215.00" r="1.5" fill="#000"/>
<circle cx="595.40" cy="218.00" r="1.5" fill="#000"/>
<circle cx="602.00" cy="218.60" r="1.5" fill="#000"/>
<circle cx="609.00" cy="219.60" r="1.5" fill="#000"/>
<circle cx="598.60" cy="221.60" r="1.5" fill="#000"/>
<circle cx="606.00" cy="223.00" r="1.5" fill="#000"/>
<circle cx="595.40" cy="224.40" r="1.5" fill="#000"/>
<circle cx="609.00" cy="224.40" r="1.5" fill="#000"/>
<circle cx="602.00" cy="228.00" r="1.5" fill="#000"/>
<circle cx="620.60" cy="208.00" r="1.5" fill="#0dc10d"/>
<circle cx="625.00" cy="209.60" r="1.5" fill="#0dc10d"/>
<circle cx="629.60" cy="209.00" r="1.5" fill="#0dc10d"/>
<circle cx="625.00" cy="214.00" r="1.5" fill="#0dc10d"/>
<circle cx="629.60" cy="214.00" r="1.5" fill="#0dc10d"/>
<circle cx="620.60" cy="216.00" r="1.5" fill="#0dc10d"/>
<circle cx="633.00" cy="216.00" r="1.5" fill="#0dc10d"/>
<circle cx="620.60" cy="221.00" r="1.5" fill="#0dc10d"/>
<circle cx="625.00" cy="220.00" r="1.5" fill="#0dc10d"/>
<circle cx="629.60" cy="221.00" r="1.5" fill="#0dc10d"/>
<circle cx="634.00" cy="220.00" r="1.5" fill="#0dc10d"/>
<line x1="585.60" y1="203.00" x2="585.60" y2="280.20" stroke="#1a1a1a" stroke-width="0.8" />
<line x1="585.60" y1="203.40" x2="589.20" y2="203.40" stroke="#1a1a1a" stroke-width="0.7" />
<text x="583.60" y="207.14" font-size="10.4" text-anchor="end">12</text>
<line x1="585.60" y1="229.00" x2="589.20" y2="229.00" stroke="#1a1a1a" stroke-width="0.7" />
<text x="583.60" y="232.74" font-size="10.4" text-anchor="end">8</text>
<line x1="585.60" y1="254.60" x2="589.20" y2="254.60" stroke="#1a1a1a" stroke-width="0.7" />
<text x="583.60" y="258.34" font-size="10.4" text-anchor="end">4</text>
<line x1="585.60" y1="280.20" x2="589.20" y2="280.20" stroke="#1a1a1a" stroke-width="0.7" />
<text x="583.60" y="283.94" font-size="10.4" text-anchor="end">0</text>
<line x1="585.20" y1="280.20" x2="645.00" y2="280.20" stroke="#1a1a1a" stroke-width="0.8" />
<path d="M601.00 205.60 Q601.00 203.40 602.20 203.40 L625.40 203.40 Q626.60 203.40 626.60 205.60" stroke="#333" stroke-width="0.65" fill="none" />
<text x="614.00" y="198.90" font-size="4.5" text-anchor="middle" fill="#222"><tspan font-style="italic">P</tspan> = 0.0653</text>
<text font-size="9.35" text-anchor="middle" transform="translate(564.37 242.00) rotate(-90)">Plasma n-butyrate (µM)</text>
<text font-size="10.0" text-anchor="end" transform="translate(606.00 286.30) rotate(-38)">Cellulose</text>
<text font-size="10.0" text-anchor="end" transform="translate(631.40 286.30) rotate(-38)">SsEPS</text>
<text x="1.00" y="332.50" font-size="18" >c</text>
<text x="87.00" y="333.00" font-size="13.6" text-anchor="middle">Wild-type</text>
<text x="423.60" y="333.00" font-size="13.6" text-anchor="middle"><tspan font-style="italic">Gpr41<tspan dy="-4.5" font-size="8">-/-</tspan><tspan dy="4.5">Gpr43</tspan><tspan dy="-4.5" font-size="8">-/-</tspan></tspan></text>
<line x1="60.50" y1="405.60" x2="60.50" y2="406.80" stroke="#00b050" stroke-width="0.6" />
<line x1="59.00" y1="405.60" x2="62.00" y2="405.60" stroke="#00b050" stroke-width="0.6" />
<line x1="59.00" y1="406.80" x2="62.00" y2="406.80" stroke="#00b050" stroke-width="0.6" />
<line x1="66.75" y1="400.80" x2="66.75" y2="402.60" stroke="#00b050" stroke-width="0.6" />
<line x1="65.25" y1="400.80" x2="68.25" y2="400.80" stroke="#00b050" stroke-width="0.6" />
<line x1="65.25" y1="402.60" x2="68.25" y2="402.60" stroke="#00b050" stroke-width="0.6" />
<line x1="73.00" y1="397.05" x2="73.00" y2="399.45" stroke="#00b050" stroke-width="0.6" />
<line x1="71.50" y1="397.05" x2="74.50" y2="397.05" stroke="#00b050" stroke-width="0.6" />
<line x1="71.50" y1="399.45" x2="74.50" y2="399.45" stroke="#00b050" stroke-width="0.6" />
<line x1="79.25" y1="392.75" x2="79.25" y2="395.75" stroke="#00b050" stroke-width="0.6" />
<line x1="77.75" y1="392.75" x2="80.75" y2="392.75" stroke="#00b050" stroke-width="0.6" />
<line x1="77.75" y1="395.75" x2="80.75" y2="395.75" stroke="#00b050" stroke-width="0.6" />
<line x1="85.50" y1="387.45" x2="85.50" y2="391.05" stroke="#00b050" stroke-width="0.6" />
<line x1="84.00" y1="387.45" x2="87.00" y2="387.45" stroke="#00b050" stroke-width="0.6" />
<line x1="84.00" y1="391.05" x2="87.00" y2="391.05" stroke="#00b050" stroke-width="0.6" />
<line x1="91.75" y1="382.50" x2="91.75" y2="386.50" stroke="#00b050" stroke-width="0.6" />
<line x1="90.25" y1="382.50" x2="93.25" y2="382.50" stroke="#00b050" stroke-width="0.6" />
<line x1="90.25" y1="386.50" x2="93.25" y2="386.50" stroke="#00b050" stroke-width="0.6" />
<line x1="98.00" y1="379.05" x2="98.00" y2="383.45" stroke="#00b050" stroke-width="0.6" />
<line x1="96.50" y1="379.05" x2="99.50" y2="379.05" stroke="#00b050" stroke-width="0.6" />
<line x1="96.50" y1="383.45" x2="99.50" y2="383.45" stroke="#00b050" stroke-width="0.6" />
<line x1="104.25" y1="376.85" x2="104.25" y2="381.65" stroke="#00b050" stroke-width="0.6" />
<line x1="102.75" y1="376.85" x2="105.75" y2="376.85" stroke="#00b050" stroke-width="0.6" />
<line x1="102.75" y1="381.65" x2="105.75" y2="381.65" stroke="#00b050" stroke-width="0.6" />
<line x1="110.50" y1="375.25" x2="110.50" y2="380.25" stroke="#00b050" stroke-width="0.6" />
<line x1="109.00" y1="375.25" x2="112.00" y2="375.25" stroke="#00b050" stroke-width="0.6" />
<line x1="109.00" y1="380.25" x2="112.00" y2="380.25" stroke="#00b050" stroke-width="0.6" />
<line x1="116.75" y1="374.40" x2="116.75" y2="379.60" stroke="#00b050" stroke-width="0.6" />
<line x1="115.25" y1="374.40" x2="118.25" y2="374.40" stroke="#00b050" stroke-width="0.6" />
<line x1="115.25" y1="379.60" x2="118.25" y2="379.60" stroke="#00b050" stroke-width="0.6" />
<line x1="123.00" y1="373.05" x2="123.00" y2="378.45" stroke="#00b050" stroke-width="0.6" />
<line x1="121.50" y1="373.05" x2="124.50" y2="373.05" stroke="#00b050" stroke-width="0.6" />
<line x1="121.50" y1="378.45" x2="124.50" y2="378.45" stroke="#00b050" stroke-width="0.6" />
<path d="M48.00 422.00 L54.25 412.60 L60.50 406.20 L66.75 401.70 L73.00 398.25 L79.25 394.25 L85.50 389.25 L91.75 384.50 L98.00 381.25 L104.25 379.25 L110.50 377.75 L116.75 377.00 L123.00 375.75" stroke="#00b050" stroke-width="0.9" fill="none" />
<circle cx="48.00" cy="422.00" r="1.9" fill="#00b050"/>
<circle cx="54.25" cy="412.60" r="1.9" fill="#00b050"/>
<circle cx="60.50" cy="406.20" r="1.9" fill="#00b050"/>
<circle cx="66.75" cy="401.70" r="1.9" fill="#00b050"/>
<circle cx="73.00" cy="398.25" r="1.9" fill="#00b050"/>
<circle cx="79.25" cy="394.25" r="1.9" fill="#00b050"/>
<circle cx="85.50" cy="389.25" r="1.9" fill="#00b050"/>
<circle cx="91.75" cy="384.50" r="1.9" fill="#00b050"/>
<circle cx="98.00" cy="381.25" r="1.9" fill="#00b050"/>
<circle cx="104.25" cy="379.25" r="1.9" fill="#00b050"/>
<circle cx="110.50" cy="377.75" r="1.9" fill="#00b050"/>
<circle cx="116.75" cy="377.00" r="1.9" fill="#00b050"/>
<circle cx="123.00" cy="375.75" r="1.9" fill="#00b050"/>
<line x1="60.50" y1="404.95" x2="60.50" y2="406.55" stroke="#000" stroke-width="0.6" />
<line x1="59.00" y1="404.95" x2="62.00" y2="404.95" stroke="#000" stroke-width="0.6" />
<line x1="59.00" y1="406.55" x2="62.00" y2="406.55" stroke="#000" stroke-width="0.6" />
<line x1="66.75" y1="400.05" x2="66.75" y2="402.45" stroke="#000" stroke-width="0.6" />
<line x1="65.25" y1="400.05" x2="68.25" y2="400.05" stroke="#000" stroke-width="0.6" />
<line x1="65.25" y1="402.45" x2="68.25" y2="402.45" stroke="#000" stroke-width="0.6" />
<line x1="73.00" y1="394.65" x2="73.00" y2="397.85" stroke="#000" stroke-width="0.6" />
<line x1="71.50" y1="394.65" x2="74.50" y2="394.65" stroke="#000" stroke-width="0.6" />
<line x1="71.50" y1="397.85" x2="74.50" y2="397.85" stroke="#000" stroke-width="0.6" />
<line x1="79.25" y1="388.75" x2="79.25" y2="392.75" stroke="#000" stroke-width="0.6" />
<line x1="77.75" y1="388.75" x2="80.75" y2="388.75" stroke="#000" stroke-width="0.6" />
<line x1="77.75" y1="392.75" x2="80.75" y2="392.75" stroke="#000" stroke-width="0.6" />
<line x1="85.50" y1="382.60" x2="85.50" y2="387.40" stroke="#000" stroke-width="0.6" />
<line x1="84.00" y1="382.60" x2="87.00" y2="382.60" stroke="#000" stroke-width="0.6" />
<line x1="84.00" y1="387.40" x2="87.00" y2="387.40" stroke="#000" stroke-width="0.6" />
<line x1="91.75" y1="376.45" x2="91.75" y2="382.05" stroke="#000" stroke-width="0.6" />
<line x1="90.25" y1="376.45" x2="93.25" y2="376.45" stroke="#000" stroke-width="0.6" />
<line x1="90.25" y1="382.05" x2="93.25" y2="382.05" stroke="#000" stroke-width="0.6" />
<line x1="98.00" y1="370.15" x2="98.00" y2="376.35" stroke="#000" stroke-width="0.6" />
<line x1="96.50" y1="370.15" x2="99.50" y2="370.15" stroke="#000" stroke-width="0.6" />
<line x1="96.50" y1="376.35" x2="99.50" y2="376.35" stroke="#000" stroke-width="0.6" />
<line x1="104.25" y1="366.70" x2="104.25" y2="373.30" stroke="#000" stroke-width="0.6" />
<line x1="102.75" y1="366.70" x2="105.75" y2="366.70" stroke="#000" stroke-width="0.6" />
<line x1="102.75" y1="373.30" x2="105.75" y2="373.30" stroke="#000" stroke-width="0.6" />
<line x1="110.50" y1="362.85" x2="110.50" y2="369.65" stroke="#000" stroke-width="0.6" />
<line x1="109.00" y1="362.85" x2="112.00" y2="362.85" stroke="#000" stroke-width="0.6" />
<line x1="109.00" y1="369.65" x2="112.00" y2="369.65" stroke="#000" stroke-width="0.6" />
<line x1="116.75" y1="359.75" x2="116.75" y2="366.75" stroke="#000" stroke-width="0.6" />
<line x1="115.25" y1="359.75" x2="118.25" y2="359.75" stroke="#000" stroke-width="0.6" />
<line x1="115.25" y1="366.75" x2="118.25" y2="366.75" stroke="#000" stroke-width="0.6" />
<line x1="123.00" y1="358.25" x2="123.00" y2="365.25" stroke="#000" stroke-width="0.6" />
<line x1="121.50" y1="358.25" x2="124.50" y2="358.25" stroke="#000" stroke-width="0.6" />
<line x1="121.50" y1="365.25" x2="124.50" y2="365.25" stroke="#000" stroke-width="0.6" />
<path d="M48.00 422.00 L54.25 412.50 L60.50 405.75 L66.75 401.25 L73.00 396.25 L79.25 390.75 L85.50 385.00 L91.75 379.25 L98.00 373.25 L104.25 370.00 L110.50 366.25 L116.75 363.25 L123.00 361.75" stroke="#000" stroke-width="0.9" fill="none" />
<circle cx="48.00" cy="422.00" r="1.9" fill="#000"/>
<circle cx="54.25" cy="412.50" r="1.9" fill="#000"/>
<circle cx="60.50" cy="405.75" r="1.9" fill="#000"/>
<circle cx="66.75" cy="401.25" r="1.9" fill="#000"/>
<circle cx="73.00" cy="396.25" r="1.9" fill="#000"/>
<circle cx="79.25" cy="390.75" r="1.9" fill="#000"/>
<circle cx="85.50" cy="385.00" r="1.9" fill="#000"/>
<circle cx="91.75" cy="379.25" r="1.9" fill="#000"/>
<circle cx="98.00" cy="373.25" r="1.9" fill="#000"/>
<circle cx="104.25" cy="370.00" r="1.9" fill="#000"/>
<circle cx="110.50" cy="366.25" r="1.9" fill="#000"/>
<circle cx="116.75" cy="363.25" r="1.9" fill="#000"/>
<circle cx="123.00" cy="361.75" r="1.9" fill="#000"/>
<line x1="48.00" y1="349.60" x2="48.00" y2="431.20" stroke="#1a1a1a" stroke-width="0.8" />
<line x1="45.40" y1="431.20" x2="50.60" y2="431.20" stroke="#1a1a1a" stroke-width="0.7" />
<line x1="45.40" y1="441.30" x2="50.60" y2="441.30" stroke="#1a1a1a" stroke-width="0.7" />
<line x1="48.00" y1="441.30" x2="48.00" y2="449.60" stroke="#1a1a1a" stroke-width="0.8" />
<line x1="47.60" y1="449.60" x2="123.40" y2="449.60" stroke="#1a1a1a" stroke-width="0.8" />
<line x1="48.00" y1="350.00" x2="51.20" y2="350.00" stroke="#1a1a1a" stroke-width="0.7" />
<text x="45.80" y="353.10" font-size="8.7" text-anchor="end">45</text>
<line x1="48.00" y1="363.20" x2="51.20" y2="363.20" stroke="#1a1a1a" stroke-width="0.7" />
<text x="45.80" y="366.30" font-size="8.7" text-anchor="end">40</text>
<line x1="48.00" y1="376.40" x2="51.20" y2="376.40" stroke="#1a1a1a" stroke-width="0.7" />
<text x="45.80" y="379.50" font-size="8.7" text-anchor="end">35</text>
<line x1="48.00" y1="389.60" x2="51.20" y2="389.60" stroke="#1a1a1a" stroke-width="0.7" />
<text x="45.80" y="392.70" font-size="8.7" text-anchor="end">30</text>
<line x1="48.00" y1="402.80" x2="51.20" y2="402.80" stroke="#1a1a1a" stroke-width="0.7" />
<text x="45.80" y="405.90" font-size="8.7" text-anchor="end">25</text>
<line x1="48.00" y1="416.00" x2="51.20" y2="416.00" stroke="#1a1a1a" stroke-width="0.7" />
<text x="45.80" y="419.10" font-size="8.7" text-anchor="end">20</text>
<line x1="48.00" y1="429.20" x2="51.20" y2="429.20" stroke="#1a1a1a" stroke-width="0.7" />
<text x="45.80" y="432.30" font-size="8.7" text-anchor="end">15</text>
<text x="45.80" y="452.70" font-size="8.7" text-anchor="end">0</text>
<text x="48.00" y="462.00" font-size="8.7" text-anchor="middle">4</text>
<text x="73.00" y="462.00" font-size="8.7" text-anchor="middle">8</text>
<text x="98.00" y="462.00" font-size="8.7" text-anchor="middle">12</text>
<text x="123.00" y="462.00" font-size="8.7" text-anchor="middle">16</text>
<text x="86.00" y="473.00" font-size="9.1" text-anchor="middle">Weeks of age</text>
<text font-size="8.9" text-anchor="middle" transform="translate(30.90 401.00) rotate(-90)">Body weight (g)</text>
<circle cx="76.25" cy="422.50" r="3.5" fill="#000"/>
<circle cx="76.25" cy="433.30" r="3.5" fill="#00b050"/>
<text x="83.45" y="425.70" font-size="9.0" >Cellulose</text>
<text x="83.45" y="436.50" font-size="9.0" fill="#00b050">SsEPS</text>
<text x="73.00" y="409.20" font-size="7" text-anchor="middle">*</text>
<text x="98.20" y="391.80" font-size="7" text-anchor="middle">*</text>
<text x="105.00" y="389.20" font-size="7" text-anchor="middle">*</text>
<text x="109.20" y="388.00" font-size="7" text-anchor="middle">*</text>
<text x="112.40" y="387.70" font-size="7" text-anchor="middle">*</text>
<text x="115.40" y="387.20" font-size="7" text-anchor="middle">*</text>
<text x="118.60" y="386.70" font-size="7" text-anchor="middle">*</text>
<text x="122.30" y="386.20" font-size="7" text-anchor="middle">*</text>
<text x="125.60" y="386.00" font-size="7" text-anchor="middle">*</text>
<line x1="395.42" y1="405.70" x2="395.42" y2="406.50" stroke="#00b050" stroke-width="0.6" />
<line x1="393.92" y1="405.70" x2="396.92" y2="405.70" stroke="#00b050" stroke-width="0.6" />
<line x1="393.92" y1="406.50" x2="396.92" y2="406.50" stroke="#00b050" stroke-width="0.6" />
<line x1="401.66" y1="403.86" x2="401.66" y2="404.94" stroke="#00b050" stroke-width="0.6" />
<line x1="400.16" y1="403.86" x2="403.16" y2="403.86" stroke="#00b050" stroke-width="0.6" />
<line x1="400.16" y1="404.94" x2="403.16" y2="404.94" stroke="#00b050" stroke-width="0.6" />
<line x1="407.90" y1="401.72" x2="407.90" y2="403.07" stroke="#00b050" stroke-width="0.6" />
<line x1="406.40" y1="401.72" x2="409.40" y2="401.72" stroke="#00b050" stroke-width="0.6" />
<line x1="406.40" y1="403.07" x2="409.40" y2="403.07" stroke="#00b050" stroke-width="0.6" />
<line x1="414.14" y1="399.59" x2="414.14" y2="401.21" stroke="#00b050" stroke-width="0.6" />
<line x1="412.64" y1="399.59" x2="415.64" y2="399.59" stroke="#00b050" stroke-width="0.6" />
<line x1="412.64" y1="401.21" x2="415.64" y2="401.21" stroke="#00b050" stroke-width="0.6" />
<line x1="420.38" y1="397.00" x2="420.38" y2="398.80" stroke="#00b050" stroke-width="0.6" />
<line x1="418.88" y1="397.00" x2="421.88" y2="397.00" stroke="#00b050" stroke-width="0.6" />
<line x1="418.88" y1="398.80" x2="421.88" y2="398.80" stroke="#00b050" stroke-width="0.6" />
<line x1="426.62" y1="394.41" x2="426.62" y2="396.39" stroke="#00b050" stroke-width="0.6" />
<line x1="425.12" y1="394.41" x2="428.12" y2="394.41" stroke="#00b050" stroke-width="0.6" />
<line x1="425.12" y1="396.39" x2="428.12" y2="396.39" stroke="#00b050" stroke-width="0.6" />
<line x1="432.86" y1="390.82" x2="432.86" y2="392.98" stroke="#00b050" stroke-width="0.6" />
<line x1="431.36" y1="390.82" x2="434.36" y2="390.82" stroke="#00b050" stroke-width="0.6" />
<line x1="431.36" y1="392.98" x2="434.36" y2="392.98" stroke="#00b050" stroke-width="0.6" />
<line x1="439.10" y1="389.27" x2="439.10" y2="391.52" stroke="#00b050" stroke-width="0.6" />
<line x1="437.60" y1="389.27" x2="440.60" y2="389.27" stroke="#00b050" stroke-width="0.6" />
<line x1="437.60" y1="391.52" x2="440.60" y2="391.52" stroke="#00b050" stroke-width="0.6" />
<line x1="445.34" y1="387.43" x2="445.34" y2="389.77" stroke="#00b050" stroke-width="0.6" />
<line x1="443.84" y1="387.43" x2="446.84" y2="387.43" stroke="#00b050" stroke-width="0.6" />
<line x1="443.84" y1="389.77" x2="446.84" y2="389.77" stroke="#00b050" stroke-width="0.6" />
<line x1="451.58" y1="386.19" x2="451.58" y2="388.61" stroke="#00b050" stroke-width="0.6" />
<line x1="450.08" y1="386.19" x2="453.08" y2="386.19" stroke="#00b050" stroke-width="0.6" />
<line x1="450.08" y1="388.61" x2="453.08" y2="388.61" stroke="#00b050" stroke-width="0.6" />
<path d="M376.70 425.30 L382.94 417.80 L389.18 412.30 L395.42 406.10 L401.66 404.40 L407.90 402.40 L414.14 400.40 L420.38 397.90 L426.62 395.40 L432.86 391.90 L439.10 390.40 L445.34 388.60 L451.58 387.40" stroke="#00b050" stroke-width="0.9" fill="none" />
<circle cx="376.70" cy="425.30" r="2.0" fill="#fff" stroke="#00b050" stroke-width="0.8"/>
<circle cx="382.94" cy="417.80" r="2.0" fill="#fff" stroke="#00b050" stroke-width="0.8"/>
<circle cx="389.18" cy="412.30" r="2.0" fill="#fff" stroke="#00b050" stroke-width="0.8"/>
<circle cx="395.42" cy="406.10" r="2.0" fill="#fff" stroke="#00b050" stroke-width="0.8"/>
<circle cx="401.66" cy="404.40" r="2.0" fill="#fff" stroke="#00b050" stroke-width="0.8"/>
<circle cx="407.90" cy="402.40" r="2.0" fill="#fff" stroke="#00b050" stroke-width="0.8"/>
<circle cx="414.14" cy="400.40" r="2.0" fill="#fff" stroke="#00b050" stroke-width="0.8"/>
<circle cx="420.38" cy="397.90" r="2.0" fill="#fff" stroke="#00b050" stroke-width="0.8"/>
<circle cx="426.62" cy="395.40" r="2.0" fill="#fff" stroke="#00b050" stroke-width="0.8"/>
<circle cx="432.86" cy="391.90" r="2.0" fill="#fff" stroke="#00b050" stroke-width="0.8"/>
<circle cx="439.10" cy="390.40" r="2.0" fill="#fff" stroke="#00b050" stroke-width="0.8"/>
<circle cx="445.34" cy="388.60" r="2.0" fill="#fff" stroke="#00b050" stroke-width="0.8"/>
<circle cx="451.58" cy="387.40" r="2.0" fill="#fff" stroke="#00b050" stroke-width="0.8"/>
<line x1="389.18" y1="411.20" x2="389.18" y2="412.40" stroke="#000" stroke-width="0.6" />
<line x1="387.68" y1="411.20" x2="390.68" y2="411.20" stroke="#000" stroke-width="0.6" />
<line x1="387.68" y1="412.40" x2="390.68" y2="412.40" stroke="#000" stroke-width="0.6" />
<line x1="395.42" y1="404.70" x2="395.42" y2="406.50" stroke="#000" stroke-width="0.6" />
<line x1="393.92" y1="404.70" x2="396.92" y2="404.70" stroke="#000" stroke-width="0.6" />
<line x1="393.92" y1="406.50" x2="396.92" y2="406.50" stroke="#000" stroke-width="0.6" />
<line x1="401.66" y1="401.20" x2="401.66" y2="403.60" stroke="#000" stroke-width="0.6" />
<line x1="400.16" y1="401.20" x2="403.16" y2="401.20" stroke="#000" stroke-width="0.6" />
<line x1="400.16" y1="403.60" x2="403.16" y2="403.60" stroke="#000" stroke-width="0.6" />
<line x1="407.90" y1="396.60" x2="407.90" y2="399.60" stroke="#000" stroke-width="0.6" />
<line x1="406.40" y1="396.60" x2="409.40" y2="396.60" stroke="#000" stroke-width="0.6" />
<line x1="406.40" y1="399.60" x2="409.40" y2="399.60" stroke="#000" stroke-width="0.6" />
<line x1="414.14" y1="393.60" x2="414.14" y2="397.20" stroke="#000" stroke-width="0.6" />
<line x1="412.64" y1="393.60" x2="415.64" y2="393.60" stroke="#000" stroke-width="0.6" />
<line x1="412.64" y1="397.20" x2="415.64" y2="397.20" stroke="#000" stroke-width="0.6" />
<line x1="420.38" y1="390.30" x2="420.38" y2="394.50" stroke="#000" stroke-width="0.6" />
<line x1="418.88" y1="390.30" x2="421.88" y2="390.30" stroke="#000" stroke-width="0.6" />
<line x1="418.88" y1="394.50" x2="421.88" y2="394.50" stroke="#000" stroke-width="0.6" />
<line x1="426.62" y1="386.78" x2="426.62" y2="391.43" stroke="#000" stroke-width="0.6" />
<line x1="425.12" y1="386.78" x2="428.12" y2="386.78" stroke="#000" stroke-width="0.6" />
<line x1="425.12" y1="391.43" x2="428.12" y2="391.43" stroke="#000" stroke-width="0.6" />
<line x1="432.86" y1="384.92" x2="432.86" y2="389.88" stroke="#000" stroke-width="0.6" />
<line x1="431.36" y1="384.92" x2="434.36" y2="384.92" stroke="#000" stroke-width="0.6" />
<line x1="431.36" y1="389.88" x2="434.36" y2="389.88" stroke="#000" stroke-width="0.6" />
<line x1="439.10" y1="381.85" x2="439.10" y2="386.95" stroke="#000" stroke-width="0.6" />
<line x1="437.60" y1="381.85" x2="440.60" y2="381.85" stroke="#000" stroke-width="0.6" />
<line x1="437.60" y1="386.95" x2="440.60" y2="386.95" stroke="#000" stroke-width="0.6" />
<line x1="445.34" y1="379.27" x2="445.34" y2="384.52" stroke="#000" stroke-width="0.6" />
<line x1="443.84" y1="379.27" x2="446.84" y2="379.27" stroke="#000" stroke-width="0.6" />
<line x1="443.84" y1="384.52" x2="446.84" y2="384.52" stroke="#000" stroke-width="0.6" />
<line x1="451.58" y1="378.98" x2="451.58" y2="384.23" stroke="#000" stroke-width="0.6" />
<line x1="450.08" y1="378.98" x2="453.08" y2="378.98" stroke="#000" stroke-width="0.6" />
<line x1="450.08" y1="384.23" x2="453.08" y2="384.23" stroke="#000" stroke-width="0.6" />
<path d="M376.70 425.30 L382.94 416.80 L389.18 411.80 L395.42 405.60 L401.66 402.40 L407.90 398.10 L414.14 395.40 L420.38 392.40 L426.62 389.10 L432.86 387.40 L439.10 384.40 L445.34 381.90 L451.58 381.60" stroke="#000" stroke-width="0.9" fill="none" />
<circle cx="376.70" cy="425.30" r="2.0" fill="none" stroke="#000" stroke-width="0.8"/>
<circle cx="382.94" cy="416.80" r="2.0" fill="none" stroke="#000" stroke-width="0.8"/>
<circle cx="389.18" cy="411.80" r="2.0" fill="none" stroke="#000" stroke-width="0.8"/>
<circle cx="395.42" cy="405.60" r="2.0" fill="none" stroke="#000" stroke-width="0.8"/>
<circle cx="401.66" cy="402.40" r="2.0" fill="none" stroke="#000" stroke-width="0.8"/>
<circle cx="407.90" cy="398.10" r="2.0" fill="none" stroke="#000" stroke-width="0.8"/>
<circle cx="414.14" cy="395.40" r="2.0" fill="none" stroke="#000" stroke-width="0.8"/>
<circle cx="420.38" cy="392.40" r="2.0" fill="none" stroke="#000" stroke-width="0.8"/>
<circle cx="426.62" cy="389.10" r="2.0" fill="none" stroke="#000" stroke-width="0.8"/>
<circle cx="432.86" cy="387.40" r="2.0" fill="none" stroke="#000" stroke-width="0.8"/>
<circle cx="439.10" cy="384.40" r="2.0" fill="none" stroke="#000" stroke-width="0.8"/>
<circle cx="445.34" cy="381.90" r="2.0" fill="none" stroke="#000" stroke-width="0.8"/>
<circle cx="451.58" cy="381.60" r="2.0" fill="none" stroke="#000" stroke-width="0.8"/>
<line x1="376.70" y1="349.60" x2="376.70" y2="431.20" stroke="#1a1a1a" stroke-width="0.8" />
<line x1="374.10" y1="431.20" x2="379.30" y2="431.20" stroke="#1a1a1a" stroke-width="0.7" />
<line x1="374.10" y1="441.30" x2="379.30" y2="441.30" stroke="#1a1a1a" stroke-width="0.7" />
<line x1="376.70" y1="441.30" x2="376.70" y2="449.60" stroke="#1a1a1a" stroke-width="0.8" />
<line x1="376.30" y1="449.60" x2="451.98" y2="449.60" stroke="#1a1a1a" stroke-width="0.8" />
<line x1="376.70" y1="350.00" x2="379.90" y2="350.00" stroke="#1a1a1a" stroke-width="0.7" />
<text x="374.50" y="353.10" font-size="8.7" text-anchor="end">45</text>
<line x1="376.70" y1="363.20" x2="379.90" y2="363.20" stroke="#1a1a1a" stroke-width="0.7" />
<text x="374.50" y="366.30" font-size="8.7" text-anchor="end">40</text>
<line x1="376.70" y1="376.40" x2="379.90" y2="376.40" stroke="#1a1a1a" stroke-width="0.7" />
<text x="374.50" y="379.50" font-size="8.7" text-anchor="end">35</text>
<line x1="376.70" y1="389.60" x2="379.90" y2="389.60" stroke="#1a1a1a" stroke-width="0.7" />
<text x="374.50" y="392.70" font-size="8.7" text-anchor="end">30</text>
<line x1="376.70" y1="402.80" x2="379.90" y2="402.80" stroke="#1a1a1a" stroke-width="0.7" />
<text x="374.50" y="405.90" font-size="8.7" text-anchor="end">25</text>
<line x1="376.70" y1="416.00" x2="379.90" y2="416.00" stroke="#1a1a1a" stroke-width="0.7" />
<text x="374.50" y="419.10" font-size="8.7" text-anchor="end">20</text>
<line x1="376.70" y1="429.20" x2="379.90" y2="429.20" stroke="#1a1a1a" stroke-width="0.7" />
<text x="374.50" y="432.30" font-size="8.7" text-anchor="end">15</text>
<text x="374.50" y="452.70" font-size="8.7" text-anchor="end">0</text>
<text x="376.70" y="462.00" font-size="8.7" text-anchor="middle">4</text>
<text x="401.66" y="462.00" font-size="8.7" text-anchor="middle">8</text>
<text x="426.62" y="462.00" font-size="8.7" text-anchor="middle">12</text>
<text x="451.58" y="462.00" font-size="8.7" text-anchor="middle">16</text>
<text x="414.64" y="473.00" font-size="9.1" text-anchor="middle">Weeks of age</text>
<text font-size="8.9" text-anchor="middle" transform="translate(359.60 401.00) rotate(-90)">Body weight (g)</text>
<circle cx="399.20" cy="421.80" r="3.2" fill="none" stroke="#000" stroke-width="0.8"/>
<circle cx="399.20" cy="432.60" r="3.2" fill="none" stroke="#00b050" stroke-width="0.8"/>
<text x="406.40" y="425.70" font-size="9.0" >Cellulose</text>
<text x="406.40" y="436.50" font-size="9.0" fill="#00b050">SsEPS</text>
<path d="M194.20 446.20 L194.20 387.30 L203.80 387.30 L203.80 446.20" stroke="#1a1a1a" stroke-width="0.75" fill="#fff" />
<path d="M204.60 446.20 L204.60 406.90 L213.80 406.90 L213.80 446.20" stroke="#1a1a1a" stroke-width="0.75" fill="#fff" />
<path d="M223.70 446.20 L223.70 415.00 L233.10 415.00 L233.10 446.20" stroke="#1a1a1a" stroke-width="0.75" fill="#fff" />
<path d="M233.60 446.20 L233.60 426.20 L242.80 426.20 L242.80 446.20" stroke="#1a1a1a" stroke-width="0.75" fill="#fff" />
<path d="M252.80 446.20 L252.80 410.00 L262.20 410.00 L262.20 446.20" stroke="#1a1a1a" stroke-width="0.75" fill="#fff" />
<path d="M262.70 446.20 L262.70 422.70 L272.00 422.70 L272.00 446.20" stroke="#1a1a1a" stroke-width="0.75" fill="#fff" />
<path d="M282.10 446.20 L282.10 381.00 L291.50 381.00 L291.50 446.20" stroke="#1a1a1a" stroke-width="0.75" fill="#fff" />
<path d="M292.00 446.20 L292.00 387.60 L301.30 387.60 L301.30 446.20" stroke="#1a1a1a" stroke-width="0.75" fill="#fff" />
<line x1="199.00" y1="381.60" x2="199.00" y2="387.30" stroke="#1a1a1a" stroke-width="0.7" />
<line x1="196.40" y1="381.60" x2="201.60" y2="381.60" stroke="#1a1a1a" stroke-width="0.7" />
<line x1="209.20" y1="402.00" x2="209.20" y2="406.90" stroke="#1a1a1a" stroke-width="0.7" />
<line x1="206.60" y1="402.00" x2="211.80" y2="402.00" stroke="#1a1a1a" stroke-width="0.7" />
<line x1="228.40" y1="412.60" x2="228.40" y2="415.00" stroke="#1a1a1a" stroke-width="0.7" />
<line x1="225.80" y1="412.60" x2="231.00" y2="412.60" stroke="#1a1a1a" stroke-width="0.7" />
<line x1="238.20" y1="423.40" x2="238.20" y2="426.20" stroke="#1a1a1a" stroke-width="0.7" />
<line x1="235.60" y1="423.40" x2="240.80" y2="423.40" stroke="#1a1a1a" stroke-width="0.7" />
<line x1="257.50" y1="405.00" x2="257.50" y2="410.00" stroke="#1a1a1a" stroke-width="0.7" />
<line x1="254.90" y1="405.00" x2="260.10" y2="405.00" stroke="#1a1a1a" stroke-width="0.7" />
<line x1="267.35" y1="420.00" x2="267.35" y2="422.70" stroke="#1a1a1a" stroke-width="0.7" />
<line x1="264.75" y1="420.00" x2="269.95" y2="420.00" stroke="#1a1a1a" stroke-width="0.7" />
<line x1="286.80" y1="378.20" x2="286.80" y2="381.00" stroke="#1a1a1a" stroke-width="0.7" />
<line x1="284.20" y1="378.20" x2="289.40" y2="378.20" stroke="#1a1a1a" stroke-width="0.7" />
<line x1="296.65" y1="386.00" x2="296.65" y2="387.60" stroke="#1a1a1a" stroke-width="0.7" />
<line x1="294.05" y1="386.00" x2="299.25" y2="386.00" stroke="#1a1a1a" stroke-width="0.7" />
<circle cx="199.10" cy="362.20" r="1.55" fill="#000"/>
<circle cx="199.10" cy="369.60" r="1.55" fill="#000"/>
<circle cx="195.60" cy="376.80" r="1.55" fill="#000"/>
<circle cx="199.10" cy="373.90" r="1.55" fill="#000"/>
<circle cx="202.40" cy="379.10" r="1.55" fill="#000"/>
<circle cx="199.10" cy="390.10" r="1.55" fill="#000"/>
<circle cx="199.10" cy="395.90" r="1.55" fill="#000"/>
<circle cx="199.10" cy="400.10" r="1.55" fill="#000"/>
<circle cx="195.60" cy="411.20" r="1.55" fill="#000"/>
<circle cx="202.40" cy="410.50" r="1.55" fill="#000"/>
<circle cx="208.70" cy="386.00" r="1.55" fill="#0dc10d"/>
<circle cx="205.40" cy="393.70" r="1.55" fill="#0dc10d"/>
<circle cx="212.20" cy="395.50" r="1.55" fill="#0dc10d"/>
<circle cx="205.40" cy="397.40" r="1.55" fill="#0dc10d"/>
<circle cx="212.20" cy="401.80" r="1.55" fill="#0dc10d"/>
<circle cx="205.40" cy="404.20" r="1.55" fill="#0dc10d"/>
<circle cx="205.40" cy="417.40" r="1.55" fill="#0dc10d"/>
<circle cx="212.20" cy="417.40" r="1.55" fill="#0dc10d"/>
<circle cx="208.70" cy="422.50" r="1.55" fill="#0dc10d"/>
<circle cx="208.70" cy="428.60" r="1.55" fill="#0dc10d"/>
<circle cx="229.50" cy="404.20" r="1.55" fill="#000"/>
<circle cx="227.30" cy="406.00" r="1.55" fill="#000"/>
<circle cx="225.10" cy="411.80" r="1.55" fill="#000"/>
<circle cx="227.70" cy="411.20" r="1.55" fill="#000"/>
<circle cx="230.20" cy="411.50" r="1.55" fill="#000"/>
<circle cx="231.90" cy="412.30" r="1.55" fill="#000"/>
<circle cx="228.40" cy="421.00" r="1.55" fill="#000"/>
<circle cx="227.30" cy="427.60" r="1.55" fill="#000"/>
<circle cx="229.50" cy="427.20" r="1.55" fill="#000"/>
<circle cx="237.90" cy="415.50" r="1.55" fill="#0dc10d"/>
<circle cx="234.60" cy="421.80" r="1.55" fill="#0dc10d"/>
<circle cx="237.90" cy="419.60" r="1.55" fill="#0dc10d"/>
<circle cx="241.40" cy="420.70" r="1.55" fill="#0dc10d"/>
<circle cx="237.90" cy="423.60" r="1.55" fill="#0dc10d"/>
<circle cx="234.60" cy="429.10" r="1.55" fill="#0dc10d"/>
<circle cx="237.90" cy="428.30" r="1.55" fill="#0dc10d"/>
<circle cx="241.40" cy="431.20" r="1.55" fill="#0dc10d"/>
<circle cx="237.90" cy="433.40" r="1.55" fill="#0dc10d"/>
<circle cx="237.90" cy="436.60" r="1.55" fill="#0dc10d"/>
<circle cx="257.50" cy="392.60" r="1.55" fill="#000"/>
<circle cx="255.60" cy="397.20" r="1.55" fill="#000"/>
<circle cx="259.00" cy="397.40" r="1.55" fill="#000"/>
<circle cx="257.50" cy="405.00" r="1.55" fill="#000"/>
<circle cx="254.30" cy="407.90" r="1.55" fill="#000"/>
<circle cx="260.70" cy="407.40" r="1.55" fill="#000"/>
<circle cx="257.50" cy="414.50" r="1.55" fill="#000"/>
<circle cx="257.50" cy="419.10" r="1.55" fill="#000"/>
<circle cx="255.60" cy="427.30" r="1.55" fill="#000"/>
<circle cx="259.00" cy="427.20" r="1.55" fill="#000"/>
<circle cx="267.30" cy="411.10" r="1.55" fill="#0dc10d"/>
<circle cx="267.30" cy="415.90" r="1.55" fill="#0dc10d"/>
<circle cx="270.70" cy="414.90" r="1.55" fill="#0dc10d"/>
<circle cx="263.80" cy="418.50" r="1.55" fill="#0dc10d"/>
<circle cx="270.70" cy="419.10" r="1.55" fill="#0dc10d"/>
<circle cx="263.80" cy="426.40" r="1.55" fill="#0dc10d"/>
<circle cx="267.30" cy="428.00" r="1.55" fill="#0dc10d"/>
<circle cx="270.70" cy="427.30" r="1.55" fill="#0dc10d"/>
<circle cx="270.70" cy="431.20" r="1.55" fill="#0dc10d"/>
<circle cx="263.80" cy="433.00" r="1.55" fill="#0dc10d"/>
<circle cx="284.80" cy="367.00" r="1.55" fill="#000"/>
<circle cx="288.20" cy="367.70" r="1.55" fill="#000"/>
<circle cx="286.70" cy="373.90" r="1.55" fill="#000"/>
<circle cx="283.50" cy="378.70" r="1.55" fill="#000"/>
<circle cx="286.70" cy="378.20" r="1.55" fill="#000"/>
<circle cx="289.90" cy="379.40" r="1.55" fill="#000"/>
<circle cx="286.70" cy="381.60" r="1.55" fill="#000"/>
<circle cx="286.70" cy="388.90" r="1.55" fill="#000"/>
<circle cx="288.20" cy="394.70" r="1.55" fill="#000"/>
<circle cx="284.80" cy="396.60" r="1.55" fill="#000"/>
<circle cx="296.50" cy="377.50" r="1.55" fill="#0dc10d"/>
<circle cx="294.70" cy="382.60" r="1.55" fill="#0dc10d"/>
<circle cx="297.70" cy="381.60" r="1.55" fill="#0dc10d"/>
<circle cx="296.50" cy="386.00" r="1.55" fill="#0dc10d"/>
<circle cx="293.30" cy="388.20" r="1.55" fill="#0dc10d"/>
<circle cx="299.60" cy="387.40" r="1.55" fill="#0dc10d"/>
<circle cx="294.70" cy="390.40" r="1.55" fill="#0dc10d"/>
<circle cx="297.70" cy="390.40" r="1.55" fill="#0dc10d"/>
<circle cx="299.60" cy="390.40" r="1.55" fill="#0dc10d"/>
<circle cx="296.50" cy="403.20" r="1.55" fill="#0dc10d"/>
<line x1="189.70" y1="357.20" x2="189.70" y2="446.20" stroke="#1a1a1a" stroke-width="0.8" />
<line x1="189.70" y1="357.60" x2="193.30" y2="357.60" stroke="#1a1a1a" stroke-width="0.7" />
<text x="185.80" y="361.34" font-size="10.4" text-anchor="end">1.5</text>
<line x1="189.70" y1="387.10" x2="193.30" y2="387.10" stroke="#1a1a1a" stroke-width="0.7" />
<text x="185.80" y="390.84" font-size="10.4" text-anchor="end">1.0</text>
<line x1="189.70" y1="416.60" x2="193.30" y2="416.60" stroke="#1a1a1a" stroke-width="0.7" />
<text x="185.80" y="420.34" font-size="10.4" text-anchor="end">0.5</text>
<line x1="189.70" y1="446.20" x2="193.30" y2="446.20" stroke="#1a1a1a" stroke-width="0.7" />
<text x="185.80" y="449.94" font-size="10.4" text-anchor="end">0.0</text>
<line x1="189.30" y1="446.20" x2="305.80" y2="446.20" stroke="#1a1a1a" stroke-width="0.8" />
<path d="M200.00 359.40 L200.00 357.30 L210.00 357.30 L210.00 359.40" stroke="#222" stroke-width="0.7" fill="none" />
<path d="M229.70 359.40 L229.70 357.30 L239.70 357.30 L239.70 359.40" stroke="#222" stroke-width="0.7" fill="none" />
<path d="M259.00 359.40 L259.00 357.30 L269.00 357.30 L269.00 359.40" stroke="#222" stroke-width="0.7" fill="none" />
<path d="M288.30 359.40 L288.30 357.30 L298.30 357.30 L298.30 359.40" stroke="#222" stroke-width="0.7" fill="none" />
<text x="205.00" y="352.90" font-size="4.5" text-anchor="middle" fill="#222"><tspan font-style="italic">P</tspan> = 0.0232</text>
<text x="234.70" y="352.90" font-size="4.5" text-anchor="middle" fill="#222"><tspan font-style="italic">P</tspan> = 0.0029</text>
<text x="264.00" y="352.90" font-size="4.5" text-anchor="middle" fill="#222"><tspan font-style="italic">P</tspan> = 0.0147</text>
<text x="293.30" y="352.90" font-size="4.5" text-anchor="middle" fill="#222"><tspan font-style="italic">P</tspan> = 0.0612</text>
<text x="204.10" y="459.30" font-size="10.2" text-anchor="middle">epi</text>
<text x="233.20" y="459.30" font-size="10.2" text-anchor="middle">peri</text>
<text x="262.40" y="459.30" font-size="10.2" text-anchor="middle">sub</text>
<text x="291.60" y="459.30" font-size="10.2" text-anchor="middle">liver</text>
<line x1="196.40" y1="467.50" x2="273.00" y2="467.50" stroke="#888" stroke-width="0.8" />
<text x="234.70" y="481.40" font-size="10.2" text-anchor="middle">WAT</text>
<text font-size="10.3" text-anchor="middle" transform="translate(167.40 402.00) rotate(-90)">Tissue weight (g)</text>
<path d="M520.70 446.20 L520.70 416.30 L530.30 416.30 L530.30 446.20" stroke="#1a1a1a" stroke-width="0.75" fill="#fff" />
<path d="M531.00 446.20 L531.00 428.20 L540.30 428.20 L540.30 446.20" stroke="#1a1a1a" stroke-width="0.75" fill="#fff" />
<path d="M550.30 446.20 L550.30 431.60 L559.70 431.60 L559.70 446.20" stroke="#1a1a1a" stroke-width="0.75" fill="#fff" />
<path d="M560.30 446.20 L560.30 440.40 L569.60 440.40 L569.60 446.20" stroke="#1a1a1a" stroke-width="0.75" fill="#fff" />
<path d="M579.60 446.20 L579.60 432.50 L589.00 432.50 L589.00 446.20" stroke="#1a1a1a" stroke-width="0.75" fill="#fff" />
<path d="M589.60 446.20 L589.60 439.00 L598.90 439.00 L598.90 446.20" stroke="#1a1a1a" stroke-width="0.75" fill="#fff" />
<path d="M609.00 446.20 L609.00 381.80 L618.30 381.80 L618.30 446.20" stroke="#1a1a1a" stroke-width="0.75" fill="#fff" />
<path d="M618.90 446.20 L618.90 382.10 L628.10 382.10 L628.10 446.20" stroke="#1a1a1a" stroke-width="0.75" fill="#fff" />
<line x1="525.50" y1="411.50" x2="525.50" y2="416.30" stroke="#1a1a1a" stroke-width="0.7" />
<line x1="522.90" y1="411.50" x2="528.10" y2="411.50" stroke="#1a1a1a" stroke-width="0.7" />
<line x1="535.65" y1="424.60" x2="535.65" y2="428.20" stroke="#1a1a1a" stroke-width="0.7" />
<line x1="533.05" y1="424.60" x2="538.25" y2="424.60" stroke="#1a1a1a" stroke-width="0.7" />
<line x1="555.00" y1="429.00" x2="555.00" y2="431.60" stroke="#1a1a1a" stroke-width="0.7" />
<line x1="552.40" y1="429.00" x2="557.60" y2="429.00" stroke="#1a1a1a" stroke-width="0.7" />
<line x1="564.95" y1="438.60" x2="564.95" y2="440.40" stroke="#1a1a1a" stroke-width="0.7" />
<line x1="562.35" y1="438.60" x2="567.55" y2="438.60" stroke="#1a1a1a" stroke-width="0.7" />
<line x1="584.30" y1="430.00" x2="584.30" y2="432.50" stroke="#1a1a1a" stroke-width="0.7" />
<line x1="581.70" y1="430.00" x2="586.90" y2="430.00" stroke="#1a1a1a" stroke-width="0.7" />
<line x1="594.25" y1="438.00" x2="594.25" y2="439.00" stroke="#1a1a1a" stroke-width="0.7" />
<line x1="591.65" y1="438.00" x2="596.85" y2="438.00" stroke="#1a1a1a" stroke-width="0.7" />
<line x1="613.65" y1="380.30" x2="613.65" y2="381.80" stroke="#1a1a1a" stroke-width="0.7" />
<line x1="611.05" y1="380.30" x2="616.25" y2="380.30" stroke="#1a1a1a" stroke-width="0.7" />
<line x1="623.50" y1="380.60" x2="623.50" y2="382.10" stroke="#1a1a1a" stroke-width="0.7" />
<line x1="620.90" y1="380.60" x2="626.10" y2="380.60" stroke="#1a1a1a" stroke-width="0.7" />
<circle cx="525.60" cy="389.80" r="1.4000000000000001" fill="none" stroke="#000" stroke-width="0.85"/>
<circle cx="525.60" cy="401.80" r="1.4000000000000001" fill="none" stroke="#000" stroke-width="0.85"/>
<circle cx="522.30" cy="408.30" r="1.4000000000000001" fill="none" stroke="#000" stroke-width="0.85"/>
<circle cx="529.00" cy="411.10" r="1.4000000000000001" fill="none" stroke="#000" stroke-width="0.85"/>
<circle cx="522.30" cy="419.80" r="1.4000000000000001" fill="none" stroke="#000" stroke-width="0.85"/>
<circle cx="529.00" cy="419.80" r="1.4000000000000001" fill="none" stroke="#000" stroke-width="0.85"/>
<circle cx="522.30" cy="428.40" r="1.4000000000000001" fill="none" stroke="#000" stroke-width="0.85"/>
<circle cx="529.00" cy="428.40" r="1.4000000000000001" fill="none" stroke="#000" stroke-width="0.85"/>
<circle cx="525.60" cy="436.00" r="1.4000000000000001" fill="none" stroke="#000" stroke-width="0.85"/>
<circle cx="535.00" cy="399.90" r="1.4000000000000001" fill="none" stroke="#0dc10d" stroke-width="0.85"/>
<circle cx="532.20" cy="427.80" r="1.4000000000000001" fill="none" stroke="#0dc10d" stroke-width="0.85"/>
<circle cx="538.50" cy="428.40" r="1.4000000000000001" fill="none" stroke="#0dc10d" stroke-width="0.85"/>
<circle cx="532.20" cy="431.60" r="1.4000000000000001" fill="none" stroke="#0dc10d" stroke-width="0.85"/>
<circle cx="535.60" cy="431.20" r="1.4000000000000001" fill="none" stroke="#0dc10d" stroke-width="0.85"/>
<circle cx="538.50" cy="432.20" r="1.4000000000000001" fill="none" stroke="#0dc10d" stroke-width="0.85"/>
<circle cx="532.20" cy="435.40" r="1.4000000000000001" fill="none" stroke="#0dc10d" stroke-width="0.85"/>
<circle cx="535.60" cy="434.80" r="1.4000000000000001" fill="none" stroke="#0dc10d" stroke-width="0.85"/>
<circle cx="538.50" cy="434.80" r="1.4000000000000001" fill="none" stroke="#0dc10d" stroke-width="0.85"/>
<circle cx="555.00" cy="416.40" r="1.4000000000000001" fill="none" stroke="#000" stroke-width="0.85"/>
<circle cx="552.70" cy="427.80" r="1.4000000000000001" fill="none" stroke="#000" stroke-width="0.85"/>
<circle cx="556.50" cy="428.20" r="1.4000000000000001" fill="none" stroke="#000" stroke-width="0.85"/>
<circle cx="551.40" cy="432.50" r="1.4000000000000001" fill="none" stroke="#000" stroke-width="0.85"/>
<circle cx="555.00" cy="432.00" r="1.4000000000000001" fill="none" stroke="#000" stroke-width="0.85"/>
<circle cx="558.40" cy="432.50" r="1.4000000000000001" fill="none" stroke="#000" stroke-width="0.85"/>
<circle cx="555.00" cy="435.80" r="1.4000000000000001" fill="none" stroke="#000" stroke-width="0.85"/>
<circle cx="555.00" cy="439.20" r="1.4000000000000001" fill="none" stroke="#000" stroke-width="0.85"/>
<circle cx="555.00" cy="442.40" r="1.4000000000000001" fill="none" stroke="#000" stroke-width="0.85"/>
<circle cx="564.10" cy="426.90" r="1.4000000000000001" fill="none" stroke="#0dc10d" stroke-width="0.85"/>
<circle cx="561.20" cy="437.70" r="1.4000000000000001" fill="none" stroke="#0dc10d" stroke-width="0.85"/>
<circle cx="564.10" cy="440.10" r="1.4000000000000001" fill="none" stroke="#0dc10d" stroke-width="0.85"/>
<circle cx="566.90" cy="440.70" r="1.4000000000000001" fill="none" stroke="#0dc10d" stroke-width="0.85"/>
<circle cx="561.20" cy="441.10" r="1.4000000000000001" fill="none" stroke="#0dc10d" stroke-width="0.85"/>
<circle cx="561.20" cy="443.00" r="1.4000000000000001" fill="none" stroke="#0dc10d" stroke-width="0.85"/>
<circle cx="564.10" cy="443.00" r="1.4000000000000001" fill="none" stroke="#0dc10d" stroke-width="0.85"/>
<circle cx="566.90" cy="443.00" r="1.4000000000000001" fill="none" stroke="#0dc10d" stroke-width="0.85"/>
<circle cx="584.00" cy="415.80" r="1.4000000000000001" fill="none" stroke="#000" stroke-width="0.85"/>
<circle cx="582.50" cy="428.20" r="1.4000000000000001" fill="none" stroke="#000" stroke-width="0.85"/>
<circle cx="585.30" cy="428.20" r="1.4000000000000001" fill="none" stroke="#000" stroke-width="0.85"/>
<circle cx="580.60" cy="433.50" r="1.4000000000000001" fill="none" stroke="#000" stroke-width="0.85"/>
<circle cx="584.00" cy="432.90" r="1.4000000000000001" fill="none" stroke="#000" stroke-width="0.85"/>
<circle cx="587.20" cy="433.50" r="1.4000000000000001" fill="none" stroke="#000" stroke-width="0.85"/>
<circle cx="582.50" cy="436.30" r="1.4000000000000001" fill="none" stroke="#000" stroke-width="0.85"/>
<circle cx="585.30" cy="435.80" r="1.4000000000000001" fill="none" stroke="#000" stroke-width="0.85"/>
<circle cx="584.00" cy="442.60" r="1.4000000000000001" fill="none" stroke="#000" stroke-width="0.85"/>
<circle cx="593.50" cy="430.60" r="1.4000000000000001" fill="none" stroke="#0dc10d" stroke-width="0.85"/>
<circle cx="590.60" cy="437.90" r="1.4000000000000001" fill="none" stroke="#0dc10d" stroke-width="0.85"/>
<circle cx="593.50" cy="437.90" r="1.4000000000000001" fill="none" stroke="#0dc10d" stroke-width="0.85"/>
<circle cx="596.30" cy="438.20" r="1.4000000000000001" fill="none" stroke="#0dc10d" stroke-width="0.85"/>
<circle cx="590.60" cy="439.20" r="1.4000000000000001" fill="none" stroke="#0dc10d" stroke-width="0.85"/>
<circle cx="593.50" cy="439.80" r="1.4000000000000001" fill="none" stroke="#0dc10d" stroke-width="0.85"/>
<circle cx="596.30" cy="439.80" r="1.4000000000000001" fill="none" stroke="#0dc10d" stroke-width="0.85"/>
<circle cx="592.00" cy="439.20" r="1.4000000000000001" fill="none" stroke="#0dc10d" stroke-width="0.85"/>
<circle cx="609.60" cy="379.40" r="1.4000000000000001" fill="none" stroke="#000" stroke-width="0.85"/>
<circle cx="613.00" cy="380.00" r="1.4000000000000001" fill="none" stroke="#000" stroke-width="0.85"/>
<circle cx="616.30" cy="377.90" r="1.4000000000000001" fill="none" stroke="#000" stroke-width="0.85"/>
<circle cx="609.60" cy="382.60" r="1.4000000000000001" fill="none" stroke="#000" stroke-width="0.85"/>
<circle cx="613.00" cy="383.80" r="1.4000000000000001" fill="none" stroke="#000" stroke-width="0.85"/>
<circle cx="616.30" cy="381.90" r="1.4000000000000001" fill="none" stroke="#000" stroke-width="0.85"/>
<circle cx="609.60" cy="386.00" r="1.4000000000000001" fill="none" stroke="#000" stroke-width="0.85"/>
<circle cx="613.00" cy="385.10" r="1.4000000000000001" fill="none" stroke="#000" stroke-width="0.85"/>
<circle cx="615.70" cy="384.70" r="1.4000000000000001" fill="none" stroke="#000" stroke-width="0.85"/>
<circle cx="622.00" cy="379.00" r="1.4000000000000001" fill="none" stroke="#0dc10d" stroke-width="0.85"/>
<circle cx="625.70" cy="380.40" r="1.4000000000000001" fill="none" stroke="#0dc10d" stroke-width="0.85"/>
<circle cx="619.50" cy="381.90" r="1.4000000000000001" fill="none" stroke="#0dc10d" stroke-width="0.85"/>
<circle cx="623.30" cy="382.30" r="1.4000000000000001" fill="none" stroke="#0dc10d" stroke-width="0.85"/>
<circle cx="625.70" cy="383.80" r="1.4000000000000001" fill="none" stroke="#0dc10d" stroke-width="0.85"/>
<circle cx="620.60" cy="384.20" r="1.4000000000000001" fill="none" stroke="#0dc10d" stroke-width="0.85"/>
<circle cx="623.90" cy="385.70" r="1.4000000000000001" fill="none" stroke="#0dc10d" stroke-width="0.85"/>
<circle cx="622.00" cy="388.00" r="1.4000000000000001" fill="none" stroke="#0dc10d" stroke-width="0.85"/>
<line x1="516.20" y1="357.20" x2="516.20" y2="446.20" stroke="#1a1a1a" stroke-width="0.8" />
<line x1="516.20" y1="357.60" x2="519.80" y2="357.60" stroke="#1a1a1a" stroke-width="0.7" />
<text x="512.30" y="361.34" font-size="10.4" text-anchor="end">1.5</text>
<line x1="516.20" y1="387.10" x2="519.80" y2="387.10" stroke="#1a1a1a" stroke-width="0.7" />
<text x="512.30" y="390.84" font-size="10.4" text-anchor="end">1.0</text>
<line x1="516.20" y1="416.60" x2="519.80" y2="416.60" stroke="#1a1a1a" stroke-width="0.7" />
<text x="512.30" y="420.34" font-size="10.4" text-anchor="end">0.5</text>
<line x1="516.20" y1="446.20" x2="519.80" y2="446.20" stroke="#1a1a1a" stroke-width="0.7" />
<text x="512.30" y="449.94" font-size="10.4" text-anchor="end">0.0</text>
<line x1="515.80" y1="446.20" x2="632.30" y2="446.20" stroke="#1a1a1a" stroke-width="0.8" />
<path d="M525.50 359.40 L525.50 357.30 L535.50 357.30 L535.50 359.40" stroke="#222" stroke-width="0.7" fill="none" />
<path d="M554.60 359.40 L554.60 357.30 L564.60 357.30 L564.60 359.40" stroke="#222" stroke-width="0.7" fill="none" />
<path d="M584.00 359.40 L584.00 357.30 L594.00 357.30 L594.00 359.40" stroke="#222" stroke-width="0.7" fill="none" />
<text x="530.40" y="352.90" font-size="4.5" text-anchor="middle" fill="#222"><tspan font-style="italic">P</tspan> = 0.0475</text>
<text x="559.70" y="352.90" font-size="4.5" text-anchor="middle" fill="#222"><tspan font-style="italic">P</tspan> = 0.0097</text>
<text x="589.40" y="352.90" font-size="4.5" text-anchor="middle" fill="#222"><tspan font-style="italic">P</tspan> = 0.0172</text>
<text x="530.40" y="459.30" font-size="10.2" text-anchor="middle">epi</text>
<text x="559.70" y="459.30" font-size="10.2" text-anchor="middle">peri</text>
<text x="589.00" y="459.30" font-size="10.2" text-anchor="middle">sub</text>
<text x="618.20" y="459.30" font-size="10.2" text-anchor="middle">liver</text>
<line x1="521.30" y1="467.50" x2="598.70" y2="467.50" stroke="#888" stroke-width="0.8" />
<text x="560.00" y="481.40" font-size="10.2" text-anchor="middle">WAT</text>
<text font-size="10.3" text-anchor="middle" transform="translate(493.70 402.00) rotate(-90)">Tissue weight (g)</text>
<text x="4.00" y="507.60" font-size="18" >d</text>
<text x="455.60" y="508.00" font-size="18" >e</text>
<path d="M64.00 572.00 L64.00 535.00 L79.60 535.00 L79.60 572.00" stroke="#1a1a1a" stroke-width="0.75" fill="#fff" />
<line x1="64.00" y1="582.00" x2="64.00" y2="589.80" stroke="#1a1a1a" stroke-width="0.75" />
<line x1="79.60" y1="582.00" x2="79.60" y2="589.80" stroke="#1a1a1a" stroke-width="0.75" />
<path d="M87.60 572.00 L87.60 552.00 L103.40 552.00 L103.40 572.00" stroke="#1a1a1a" stroke-width="0.75" fill="#fff" />
<line x1="87.60" y1="582.00" x2="87.60" y2="589.80" stroke="#1a1a1a" stroke-width="0.75" />
<line x1="103.40" y1="582.00" x2="103.40" y2="589.80" stroke="#1a1a1a" stroke-width="0.75" />
<line x1="71.80" y1="531.40" x2="71.80" y2="535.00" stroke="#1a1a1a" stroke-width="0.7" />
<line x1="68.20" y1="531.40" x2="75.40" y2="531.40" stroke="#1a1a1a" stroke-width="0.7" />
<line x1="95.50" y1="549.40" x2="95.50" y2="552.00" stroke="#1a1a1a" stroke-width="0.7" />
<line x1="91.90" y1="549.40" x2="99.10" y2="549.40" stroke="#1a1a1a" stroke-width="0.7" />
<circle cx="71.40" cy="518.00" r="1.5" fill="#000"/>
<circle cx="71.40" cy="520.60" r="1.5" fill="#000"/>
<circle cx="71.40" cy="525.00" r="1.5" fill="#000"/>
<circle cx="71.40" cy="529.00" r="1.5" fill="#000"/>
<circle cx="71.40" cy="534.60" r="1.5" fill="#000"/>
<circle cx="68.00" cy="538.60" r="1.5" fill="#000"/>
<circle cx="75.00" cy="539.00" r="1.5" fill="#000"/>
<circle cx="71.40" cy="543.00" r="1.5" fill="#000"/>
<circle cx="68.60" cy="549.00" r="1.5" fill="#000"/>
<circle cx="75.00" cy="547.60" r="1.5" fill="#000"/>
<circle cx="95.40" cy="540.60" r="1.5" fill="#0dc10d"/>
<circle cx="95.40" cy="546.40" r="1.5" fill="#0dc10d"/>
<circle cx="89.00" cy="550.60" r="1.5" fill="#0dc10d"/>
<circle cx="92.00" cy="550.00" r="1.5" fill="#0dc10d"/>
<circle cx="99.00" cy="550.00" r="1.5" fill="#0dc10d"/>
<circle cx="102.00" cy="551.60" r="1.5" fill="#0dc10d"/>
<circle cx="95.40" cy="553.60" r="1.5" fill="#0dc10d"/>
<circle cx="97.00" cy="559.40" r="1.5" fill="#0dc10d"/>
<circle cx="93.60" cy="561.00" r="1.5" fill="#0dc10d"/>
<line x1="55.60" y1="510.80" x2="55.60" y2="572.00" stroke="#1a1a1a" stroke-width="0.8" />
<line x1="53.00" y1="572.00" x2="58.20" y2="572.00" stroke="#1a1a1a" stroke-width="0.7" />
<line x1="53.00" y1="582.00" x2="58.20" y2="582.00" stroke="#1a1a1a" stroke-width="0.7" />
<line x1="55.60" y1="582.00" x2="55.60" y2="589.80" stroke="#1a1a1a" stroke-width="0.8" />
<line x1="55.60" y1="511.20" x2="59.20" y2="511.20" stroke="#1a1a1a" stroke-width="0.7" />
<text x="53.00" y="514.84" font-size="10.1" text-anchor="end">250</text>
<line x1="55.60" y1="538.80" x2="59.20" y2="538.80" stroke="#1a1a1a" stroke-width="0.7" />
<text x="53.00" y="542.44" font-size="10.1" text-anchor="end">200</text>
<line x1="55.60" y1="566.40" x2="59.20" y2="566.40" stroke="#1a1a1a" stroke-width="0.7" />
<text x="53.00" y="570.04" font-size="10.1" text-anchor="end">150</text>
<text x="53.00" y="593.44" font-size="10.1" text-anchor="end">0</text>
<line x1="55.20" y1="589.80" x2="111.40" y2="589.80" stroke="#1a1a1a" stroke-width="0.8" />
<path d="M71.40 513.40 Q71.40 511.20 72.60 511.20 L94.20 511.20 Q95.40 511.20 95.40 513.40" stroke="#333" stroke-width="0.65" fill="none" />
<text x="83.60" y="507.70" font-size="4.5" text-anchor="middle" fill="#222"><tspan font-style="italic">P</tspan> = 0.0002</text>
<text font-size="9.35" text-anchor="middle" transform="translate(30.97 551.00) rotate(-90)">Blood glucose (mg/dL)</text>
<text font-size="9.5" text-anchor="end" transform="translate(75.50 596.60) rotate(-43)">Cellulose</text>
<text font-size="9.5" text-anchor="end" transform="translate(99.50 596.60) rotate(-43)">SsEPS</text>
<path d="M160.60 572.00 L160.60 538.20 L175.60 538.20 L175.60 572.00" stroke="#1a1a1a" stroke-width="0.75" fill="#fff" />
<line x1="160.60" y1="582.00" x2="160.60" y2="589.80" stroke="#1a1a1a" stroke-width="0.75" />
<line x1="175.60" y1="582.00" x2="175.60" y2="589.80" stroke="#1a1a1a" stroke-width="0.75" />
<path d="M184.00 572.00 L184.00 542.40 L199.60 542.40 L199.60 572.00" stroke="#1a1a1a" stroke-width="0.75" fill="#fff" />
<line x1="184.00" y1="582.00" x2="184.00" y2="589.80" stroke="#1a1a1a" stroke-width="0.75" />
<line x1="199.60" y1="582.00" x2="199.60" y2="589.80" stroke="#1a1a1a" stroke-width="0.75" />
<line x1="168.10" y1="533.00" x2="168.10" y2="538.20" stroke="#1a1a1a" stroke-width="0.7" />
<line x1="164.50" y1="533.00" x2="171.70" y2="533.00" stroke="#1a1a1a" stroke-width="0.7" />
<line x1="191.80" y1="538.00" x2="191.80" y2="542.40" stroke="#1a1a1a" stroke-width="0.7" />
<line x1="188.20" y1="538.00" x2="195.40" y2="538.00" stroke="#1a1a1a" stroke-width="0.7" />
<circle cx="165.00" cy="523.00" r="1.35" fill="none" stroke="#000" stroke-width="0.85"/>
<circle cx="171.00" cy="522.60" r="1.35" fill="none" stroke="#000" stroke-width="0.85"/>
<circle cx="165.00" cy="527.60" r="1.35" fill="none" stroke="#000" stroke-width="0.85"/>
<circle cx="171.00" cy="529.00" r="1.35" fill="none" stroke="#000" stroke-width="0.85"/>
<circle cx="168.00" cy="533.60" r="1.35" fill="none" stroke="#000" stroke-width="0.85"/>
<circle cx="168.00" cy="539.00" r="1.35" fill="none" stroke="#000" stroke-width="0.85"/>
<circle cx="168.00" cy="547.40" r="1.35" fill="none" stroke="#000" stroke-width="0.85"/>
<circle cx="168.00" cy="557.40" r="1.35" fill="none" stroke="#000" stroke-width="0.85"/>
<circle cx="168.00" cy="563.00" r="1.35" fill="none" stroke="#000" stroke-width="0.85"/>
<circle cx="191.60" cy="530.60" r="1.35" fill="none" stroke="#0dc10d" stroke-width="0.85"/>
<circle cx="185.00" cy="532.60" r="1.35" fill="none" stroke="#0dc10d" stroke-width="0.85"/>
<circle cx="191.60" cy="534.40" r="1.35" fill="none" stroke="#0dc10d" stroke-width="0.85"/>
<circle cx="185.00" cy="538.00" r="1.35" fill="none" stroke="#0dc10d" stroke-width="0.85"/>
<circle cx="191.60" cy="538.00" r="1.35" fill="none" stroke="#0dc10d" stroke-width="0.85"/>
<circle cx="198.00" cy="538.00" r="1.35" fill="none" stroke="#0dc10d" stroke-width="0.85"/>
<circle cx="191.60" cy="544.00" r="1.35" fill="none" stroke="#0dc10d" stroke-width="0.85"/>
<circle cx="191.60" cy="556.00" r="1.35" fill="none" stroke="#0dc10d" stroke-width="0.85"/>
<circle cx="191.60" cy="566.00" r="1.35" fill="none" stroke="#0dc10d" stroke-width="0.85"/>
<line x1="152.40" y1="510.80" x2="152.40" y2="572.00" stroke="#1a1a1a" stroke-width="0.8" />
<line x1="149.80" y1="572.00" x2="155.00" y2="572.00" stroke="#1a1a1a" stroke-width="0.7" />
<line x1="149.80" y1="582.00" x2="155.00" y2="582.00" stroke="#1a1a1a" stroke-width="0.7" />
<line x1="152.40" y1="582.00" x2="152.40" y2="589.80" stroke="#1a1a1a" stroke-width="0.8" />
<line x1="152.40" y1="511.20" x2="156.00" y2="511.20" stroke="#1a1a1a" stroke-width="0.7" />
<text x="149.80" y="514.84" font-size="10.1" text-anchor="end">250</text>
<line x1="152.40" y1="538.80" x2="156.00" y2="538.80" stroke="#1a1a1a" stroke-width="0.7" />
<text x="149.80" y="542.44" font-size="10.1" text-anchor="end">200</text>
<line x1="152.40" y1="566.40" x2="156.00" y2="566.40" stroke="#1a1a1a" stroke-width="0.7" />
<text x="149.80" y="570.04" font-size="10.1" text-anchor="end">150</text>
<text x="149.80" y="593.44" font-size="10.1" text-anchor="end">0</text>
<line x1="152.00" y1="589.80" x2="208.00" y2="589.80" stroke="#1a1a1a" stroke-width="0.8" />
<path d="M168.40 513.40 Q168.40 511.20 169.60 511.20 L191.20 511.20 Q192.40 511.20 192.40 513.40" stroke="#333" stroke-width="0.65" fill="none" />
<text x="180.40" y="507.30" font-size="3.6" text-anchor="middle" font-style="italic" fill="#222">NS</text>
<text font-size="9.35" text-anchor="middle" transform="translate(127.77 551.00) rotate(-90)">Blood glucose (mg/dL)</text>
<text font-size="9.5" text-anchor="end" transform="translate(171.60 596.60) rotate(-43)">Cellulose</text>
<text font-size="9.5" text-anchor="end" transform="translate(195.80 596.60) rotate(-43)">SsEPS</text>
<path d="M285.40 590.40 L285.40 533.40 L301.80 533.40 L301.80 590.40" stroke="#1a1a1a" stroke-width="0.75" fill="#fff" />
<path d="M309.60 590.40 L309.60 549.40 L325.60 549.40 L325.60 590.40" stroke="#1a1a1a" stroke-width="0.75" fill="#fff" />
<line x1="293.60" y1="530.00" x2="293.60" y2="533.40" stroke="#1a1a1a" stroke-width="0.7" />
<line x1="290.00" y1="530.00" x2="297.20" y2="530.00" stroke="#1a1a1a" stroke-width="0.7" />
<line x1="317.60" y1="545.40" x2="317.60" y2="549.40" stroke="#1a1a1a" stroke-width="0.7" />
<line x1="314.00" y1="545.40" x2="321.20" y2="545.40" stroke="#1a1a1a" stroke-width="0.7" />
<circle cx="286.40" cy="518.60" r="1.5" fill="#000"/>
<circle cx="300.00" cy="519.60" r="1.5" fill="#000"/>
<circle cx="293.40" cy="522.00" r="1.5" fill="#000"/>
<circle cx="293.40" cy="533.40" r="1.5" fill="#000"/>
<circle cx="286.40" cy="539.00" r="1.5" fill="#000"/>
<circle cx="293.40" cy="540.60" r="1.5" fill="#000"/>
<circle cx="300.00" cy="539.00" r="1.5" fill="#000"/>
<circle cx="290.00" cy="545.00" r="1.5" fill="#000"/>
<circle cx="297.00" cy="544.40" r="1.5" fill="#000"/>
<circle cx="318.00" cy="531.40" r="1.5" fill="#0dc10d"/>
<circle cx="318.00" cy="534.00" r="1.5" fill="#0dc10d"/>
<circle cx="314.60" cy="541.00" r="1.5" fill="#0dc10d"/>
<circle cx="321.00" cy="540.00" r="1.5" fill="#0dc10d"/>
<circle cx="314.60" cy="549.40" r="1.5" fill="#0dc10d"/>
<circle cx="321.00" cy="549.00" r="1.5" fill="#0dc10d"/>
<circle cx="318.00" cy="555.00" r="1.5" fill="#0dc10d"/>
<circle cx="318.00" cy="558.40" r="1.5" fill="#0dc10d"/>
<circle cx="314.60" cy="565.40" r="1.5" fill="#0dc10d"/>
<circle cx="321.00" cy="564.00" r="1.5" fill="#0dc10d"/>
<line x1="277.00" y1="511.60" x2="277.00" y2="590.40" stroke="#1a1a1a" stroke-width="0.8" />
<line x1="277.00" y1="512.00" x2="280.60" y2="512.00" stroke="#1a1a1a" stroke-width="0.7" />
<text x="274.40" y="515.64" font-size="10.1" text-anchor="end">1.0</text>
<line x1="277.00" y1="527.70" x2="280.60" y2="527.70" stroke="#1a1a1a" stroke-width="0.7" />
<text x="274.40" y="531.34" font-size="10.1" text-anchor="end">0.8</text>
<line x1="277.00" y1="543.40" x2="280.60" y2="543.40" stroke="#1a1a1a" stroke-width="0.7" />
<text x="274.40" y="547.04" font-size="10.1" text-anchor="end">0.6</text>
<line x1="277.00" y1="559.10" x2="280.60" y2="559.10" stroke="#1a1a1a" stroke-width="0.7" />
<text x="274.40" y="562.74" font-size="10.1" text-anchor="end">0.4</text>
<line x1="277.00" y1="574.80" x2="280.60" y2="574.80" stroke="#1a1a1a" stroke-width="0.7" />
<text x="274.40" y="578.44" font-size="10.1" text-anchor="end">0.2</text>
<line x1="277.00" y1="590.40" x2="280.60" y2="590.40" stroke="#1a1a1a" stroke-width="0.7" />
<text x="274.40" y="594.04" font-size="10.1" text-anchor="end">0.0</text>
<line x1="276.60" y1="590.40" x2="335.00" y2="590.40" stroke="#1a1a1a" stroke-width="0.8" />
<path d="M293.60 514.60 Q293.60 512.40 294.80 512.40 L317.20 512.40 Q318.40 512.40 318.40 514.60" stroke="#333" stroke-width="0.65" fill="none" />
<text x="306.00" y="508.30" font-size="4.5" text-anchor="middle" fill="#222"><tspan font-style="italic">P</tspan> = 0.0115</text>
<text font-size="9.35" text-anchor="middle" transform="translate(254.37 552.00) rotate(-90)">Plasma NEFAs (mEq/L)</text>
<text font-size="9.5" text-anchor="end" transform="translate(297.40 596.60) rotate(-43)">Cellulose</text>
<text font-size="9.5" text-anchor="end" transform="translate(322.40 596.60) rotate(-43)">SsEPS</text>
<path d="M395.00 590.40 L395.00 544.00 L411.00 544.00 L411.00 590.40" stroke="#1a1a1a" stroke-width="0.75" fill="#fff" />
<path d="M419.40 590.40 L419.40 549.00 L435.60 549.00 L435.60 590.40" stroke="#1a1a1a" stroke-width="0.75" fill="#fff" />
<line x1="403.00" y1="541.60" x2="403.00" y2="544.00" stroke="#1a1a1a" stroke-width="0.7" />
<line x1="399.40" y1="541.60" x2="406.60" y2="541.60" stroke="#1a1a1a" stroke-width="0.7" />
<line x1="427.50" y1="544.40" x2="427.50" y2="549.00" stroke="#1a1a1a" stroke-width="0.7" />
<line x1="423.90" y1="544.40" x2="431.10" y2="544.40" stroke="#1a1a1a" stroke-width="0.7" />
<circle cx="403.00" cy="535.00" r="1.35" fill="none" stroke="#000" stroke-width="0.85"/>
<circle cx="396.40" cy="537.40" r="1.35" fill="none" stroke="#000" stroke-width="0.85"/>
<circle cx="403.00" cy="538.00" r="1.35" fill="none" stroke="#000" stroke-width="0.85"/>
<circle cx="409.60" cy="537.00" r="1.35" fill="none" stroke="#000" stroke-width="0.85"/>
<circle cx="403.00" cy="543.00" r="1.35" fill="none" stroke="#000" stroke-width="0.85"/>
<circle cx="396.40" cy="547.00" r="1.35" fill="none" stroke="#000" stroke-width="0.85"/>
<circle cx="409.60" cy="547.00" r="1.35" fill="none" stroke="#000" stroke-width="0.85"/>
<circle cx="403.00" cy="549.00" r="1.35" fill="none" stroke="#000" stroke-width="0.85"/>
<circle cx="403.00" cy="559.00" r="1.35" fill="none" stroke="#000" stroke-width="0.85"/>
<rect x="426.20" y="523.20" width="2.4" height="2.4" fill="none" stroke="#0dc10d" stroke-width="0.85"/>
<rect x="426.20" y="528.80" width="2.4" height="2.4" fill="none" stroke="#0dc10d" stroke-width="0.85"/>
<rect x="432.80" y="544.20" width="2.4" height="2.4" fill="none" stroke="#0dc10d" stroke-width="0.85"/>
<rect x="426.20" y="546.80" width="2.4" height="2.4" fill="none" stroke="#0dc10d" stroke-width="0.85"/>
<rect x="426.20" y="552.80" width="2.4" height="2.4" fill="none" stroke="#0dc10d" stroke-width="0.85"/>
<rect x="419.80" y="555.80" width="2.4" height="2.4" fill="none" stroke="#0dc10d" stroke-width="0.85"/>
<rect x="426.20" y="556.20" width="2.4" height="2.4" fill="none" stroke="#0dc10d" stroke-width="0.85"/>
<rect x="432.80" y="555.80" width="2.4" height="2.4" fill="none" stroke="#0dc10d" stroke-width="0.85"/>
<rect x="426.20" y="563.20" width="2.4" height="2.4" fill="none" stroke="#0dc10d" stroke-width="0.85"/>
<line x1="386.40" y1="511.60" x2="386.40" y2="590.40" stroke="#1a1a1a" stroke-width="0.8" />
<line x1="386.40" y1="512.00" x2="390.00" y2="512.00" stroke="#1a1a1a" stroke-width="0.7" />
<text x="383.80" y="515.64" font-size="10.1" text-anchor="end">1.0</text>
<line x1="386.40" y1="527.70" x2="390.00" y2="527.70" stroke="#1a1a1a" stroke-width="0.7" />
<text x="383.80" y="531.34" font-size="10.1" text-anchor="end">0.8</text>
<line x1="386.40" y1="543.40" x2="390.00" y2="543.40" stroke="#1a1a1a" stroke-width="0.7" />
<text x="383.80" y="547.04" font-size="10.1" text-anchor="end">0.6</text>
<line x1="386.40" y1="559.10" x2="390.00" y2="559.10" stroke="#1a1a1a" stroke-width="0.7" />
<text x="383.80" y="562.74" font-size="10.1" text-anchor="end">0.4</text>
<line x1="386.40" y1="574.80" x2="390.00" y2="574.80" stroke="#1a1a1a" stroke-width="0.7" />
<text x="383.80" y="578.44" font-size="10.1" text-anchor="end">0.2</text>
<line x1="386.40" y1="590.40" x2="390.00" y2="590.40" stroke="#1a1a1a" stroke-width="0.7" />
<text x="383.80" y="594.04" font-size="10.1" text-anchor="end">0.0</text>
<line x1="386.00" y1="590.40" x2="444.40" y2="590.40" stroke="#1a1a1a" stroke-width="0.8" />
<path d="M402.60 514.60 Q402.60 512.40 403.80 512.40 L426.60 512.40 Q427.80 512.40 427.80 514.60" stroke="#333" stroke-width="0.65" fill="none" />
<text x="415.40" y="507.50" font-size="3.6" text-anchor="middle" font-style="italic" fill="#222">NS</text>
<text font-size="9.35" text-anchor="middle" transform="translate(364.37 552.00) rotate(-90)">Plasma NEFAs (mEq/L)</text>
<text font-size="9.5" text-anchor="end" transform="translate(406.40 596.60) rotate(-43)">Cellulose</text>
<text font-size="9.5" text-anchor="end" transform="translate(431.00 596.60) rotate(-43)">SsEPS</text>
<path d="M510.60 589.60 L510.60 564.40 L525.60 564.40 L525.60 589.60" stroke="#1a1a1a" stroke-width="0.75" fill="#fff" />
<path d="M533.40 589.60 L533.40 545.40 L547.60 545.40 L547.60 589.60" stroke="#1a1a1a" stroke-width="0.75" fill="#fff" />
<line x1="518.10" y1="560.60" x2="518.10" y2="564.40" stroke="#1a1a1a" stroke-width="0.7" />
<line x1="514.50" y1="560.60" x2="521.70" y2="560.60" stroke="#1a1a1a" stroke-width="0.7" />
<line x1="540.50" y1="541.40" x2="540.50" y2="545.40" stroke="#1a1a1a" stroke-width="0.7" />
<line x1="536.90" y1="541.40" x2="544.10" y2="541.40" stroke="#1a1a1a" stroke-width="0.7" />
<circle cx="524.40" cy="549.40" r="1.5" fill="#000"/>
<circle cx="518.40" cy="551.00" r="1.5" fill="#000"/>
<circle cx="518.40" cy="555.00" r="1.5" fill="#000"/>
<circle cx="515.00" cy="559.40" r="1.5" fill="#000"/>
<circle cx="521.40" cy="559.00" r="1.5" fill="#000"/>
<circle cx="512.00" cy="568.00" r="1.5" fill="#000"/>
<circle cx="518.40" cy="570.00" r="1.5" fill="#000"/>
<circle cx="524.40" cy="567.40" r="1.5" fill="#000"/>
<circle cx="518.40" cy="576.00" r="1.5" fill="#000"/>
<circle cx="518.40" cy="582.40" r="1.5" fill="#000"/>
<circle cx="540.60" cy="522.00" r="1.5" fill="#0dc10d"/>
<circle cx="540.60" cy="531.40" r="1.5" fill="#0dc10d"/>
<circle cx="540.60" cy="536.00" r="1.5" fill="#0dc10d"/>
<circle cx="540.60" cy="541.40" r="1.5" fill="#0dc10d"/>
<circle cx="537.40" cy="547.40" r="1.5" fill="#0dc10d"/>
<circle cx="543.60" cy="546.00" r="1.5" fill="#0dc10d"/>
<circle cx="540.60" cy="551.40" r="1.5" fill="#0dc10d"/>
<circle cx="540.60" cy="557.40" r="1.5" fill="#0dc10d"/>
<circle cx="537.40" cy="560.60" r="1.5" fill="#0dc10d"/>
<circle cx="543.60" cy="560.60" r="1.5" fill="#0dc10d"/>
<line x1="503.40" y1="510.80" x2="503.40" y2="589.60" stroke="#1a1a1a" stroke-width="0.8" />
<line x1="503.40" y1="511.20" x2="507.00" y2="511.20" stroke="#1a1a1a" stroke-width="0.7" />
<text x="500.80" y="514.84" font-size="10.1" text-anchor="end">6</text>
<line x1="503.40" y1="537.30" x2="507.00" y2="537.30" stroke="#1a1a1a" stroke-width="0.7" />
<text x="500.80" y="540.94" font-size="10.1" text-anchor="end">4</text>
<line x1="503.40" y1="563.40" x2="507.00" y2="563.40" stroke="#1a1a1a" stroke-width="0.7" />
<text x="500.80" y="567.04" font-size="10.1" text-anchor="end">2</text>
<line x1="503.40" y1="589.60" x2="507.00" y2="589.60" stroke="#1a1a1a" stroke-width="0.7" />
<text x="500.80" y="593.24" font-size="10.1" text-anchor="end">0</text>
<line x1="503.00" y1="589.60" x2="555.60" y2="589.60" stroke="#1a1a1a" stroke-width="0.8" />
<path d="M517.40 513.40 Q517.40 511.20 518.60 511.20 L540.40 511.20 Q541.60 511.20 541.60 513.40" stroke="#333" stroke-width="0.65" fill="none" />
<text x="529.40" y="507.70" font-size="4.5" text-anchor="middle" fill="#222"><tspan font-style="italic">P</tspan> = 0.008</text>
<text font-size="9.35" text-anchor="middle" transform="translate(490.97 550.50) rotate(-90)">Plasma GLP-1 (pM)</text>
<text font-size="9.5" text-anchor="end" transform="translate(521.40 596.60) rotate(-43)">Cellulose</text>
<text font-size="9.5" text-anchor="end" transform="translate(545.00 596.60) rotate(-43)">SsEPS</text>
<path d="M606.00 589.60 L606.00 557.00 L620.60 557.00 L620.60 589.60" stroke="#1a1a1a" stroke-width="0.75" fill="#fff" />
<path d="M628.60 589.60 L628.60 550.60 L643.00 550.60 L643.00 589.60" stroke="#1a1a1a" stroke-width="0.75" fill="#fff" />
<line x1="613.30" y1="552.40" x2="613.30" y2="557.00" stroke="#1a1a1a" stroke-width="0.7" />
<line x1="609.70" y1="552.40" x2="616.90" y2="552.40" stroke="#1a1a1a" stroke-width="0.7" />
<line x1="635.80" y1="544.40" x2="635.80" y2="550.60" stroke="#1a1a1a" stroke-width="0.7" />
<line x1="632.20" y1="544.40" x2="639.40" y2="544.40" stroke="#1a1a1a" stroke-width="0.7" />
<circle cx="613.40" cy="533.00" r="1.35" fill="none" stroke="#000" stroke-width="0.85"/>
<circle cx="613.40" cy="540.00" r="1.35" fill="none" stroke="#000" stroke-width="0.85"/>
<circle cx="613.40" cy="553.00" r="1.35" fill="none" stroke="#000" stroke-width="0.85"/>
<circle cx="610.40" cy="560.00" r="1.35" fill="none" stroke="#000" stroke-width="0.85"/>
<circle cx="616.40" cy="559.00" r="1.35" fill="none" stroke="#000" stroke-width="0.85"/>
<circle cx="610.40" cy="563.60" r="1.35" fill="none" stroke="#000" stroke-width="0.85"/>
<circle cx="613.40" cy="564.00" r="1.35" fill="none" stroke="#000" stroke-width="0.85"/>
<circle cx="616.40" cy="564.00" r="1.35" fill="none" stroke="#000" stroke-width="0.85"/>
<circle cx="613.40" cy="567.00" r="1.35" fill="none" stroke="#000" stroke-width="0.85"/>
<circle cx="613.40" cy="570.00" r="1.35" fill="none" stroke="#000" stroke-width="0.85"/>
<circle cx="635.60" cy="526.00" r="1.35" fill="none" stroke="#0dc10d" stroke-width="0.85"/>
<circle cx="635.60" cy="531.40" r="1.35" fill="none" stroke="#0dc10d" stroke-width="0.85"/>
<circle cx="633.00" cy="535.40" r="1.35" fill="none" stroke="#0dc10d" stroke-width="0.85"/>
<circle cx="638.40" cy="535.40" r="1.35" fill="none" stroke="#0dc10d" stroke-width="0.85"/>
<circle cx="633.00" cy="554.40" r="1.35" fill="none" stroke="#0dc10d" stroke-width="0.85"/>
<circle cx="638.40" cy="556.00" r="1.35" fill="none" stroke="#0dc10d" stroke-width="0.85"/>
<circle cx="635.60" cy="571.00" r="1.35" fill="none" stroke="#0dc10d" stroke-width="0.85"/>
<circle cx="638.40" cy="572.40" r="1.35" fill="none" stroke="#0dc10d" stroke-width="0.85"/>
<circle cx="633.00" cy="574.00" r="1.35" fill="none" stroke="#0dc10d" stroke-width="0.85"/>
<line x1="598.40" y1="510.80" x2="598.40" y2="589.60" stroke="#1a1a1a" stroke-width="0.8" />
<line x1="598.40" y1="511.20" x2="602.00" y2="511.20" stroke="#1a1a1a" stroke-width="0.7" />
<text x="595.80" y="514.84" font-size="10.1" text-anchor="end">6</text>
<line x1="598.40" y1="537.30" x2="602.00" y2="537.30" stroke="#1a1a1a" stroke-width="0.7" />
<text x="595.80" y="540.94" font-size="10.1" text-anchor="end">4</text>
<line x1="598.40" y1="563.40" x2="602.00" y2="563.40" stroke="#1a1a1a" stroke-width="0.7" />
<text x="595.80" y="567.04" font-size="10.1" text-anchor="end">2</text>
<line x1="598.40" y1="589.60" x2="602.00" y2="589.60" stroke="#1a1a1a" stroke-width="0.7" />
<text x="595.80" y="593.24" font-size="10.1" text-anchor="end">0</text>
<line x1="598.00" y1="589.60" x2="651.00" y2="589.60" stroke="#1a1a1a" stroke-width="0.8" />
<path d="M611.60 513.40 Q611.60 511.20 612.80 511.20 L634.80 511.20 Q636.00 511.20 636.00 513.40" stroke="#333" stroke-width="0.65" fill="none" />
<text x="623.60" y="506.90" font-size="3.6" text-anchor="middle" font-style="italic" fill="#222">NS</text>
<text font-size="9.35" text-anchor="middle" transform="translate(585.77 550.50) rotate(-90)">Plasma GLP-1 (pM)</text>
<text font-size="9.5" text-anchor="end" transform="translate(616.00 596.60) rotate(-43)">Cellulose</text>
<text font-size="9.5" text-anchor="end" transform="translate(639.00 596.60) rotate(-43)">SsEPS</text>
<text x="4.50" y="654.40" font-size="18" >f</text>
<text x="223.20" y="655.00" font-size="18" >g</text>
<text x="458.60" y="655.00" font-size="18" >h</text>
<path d="M64.40 745.00 L64.40 715.40 L79.00 715.40 L79.00 745.00" stroke="#1a1a1a" stroke-width="0.75" fill="#fff" />
<path d="M87.00 745.00 L87.00 704.40 L101.60 704.40 L101.60 745.00" stroke="#1a1a1a" stroke-width="0.75" fill="#fff" />
<line x1="71.70" y1="713.40" x2="71.70" y2="715.40" stroke="#1a1a1a" stroke-width="0.7" />
<line x1="68.10" y1="713.40" x2="75.30" y2="713.40" stroke="#1a1a1a" stroke-width="0.7" />
<line x1="94.30" y1="700.40" x2="94.30" y2="704.40" stroke="#1a1a1a" stroke-width="0.7" />
<line x1="90.70" y1="700.40" x2="97.90" y2="700.40" stroke="#1a1a1a" stroke-width="0.7" />
<circle cx="71.40" cy="703.40" r="1.5" fill="#000"/>
<circle cx="65.40" cy="709.00" r="1.5" fill="#000"/>
<circle cx="71.40" cy="710.00" r="1.5" fill="#000"/>
<circle cx="65.40" cy="711.60" r="1.5" fill="#000"/>
<circle cx="68.40" cy="716.00" r="1.5" fill="#000"/>
<circle cx="74.40" cy="716.00" r="1.5" fill="#000"/>
<circle cx="65.40" cy="718.60" r="1.5" fill="#000"/>
<circle cx="71.40" cy="720.00" r="1.5" fill="#000"/>
<circle cx="78.00" cy="719.00" r="1.5" fill="#000"/>
<circle cx="71.40" cy="725.60" r="1.5" fill="#000"/>
<circle cx="94.00" cy="684.40" r="1.5" fill="#0dc10d"/>
<circle cx="88.00" cy="695.00" r="1.5" fill="#0dc10d"/>
<circle cx="88.00" cy="698.60" r="1.5" fill="#0dc10d"/>
<circle cx="94.00" cy="697.40" r="1.5" fill="#0dc10d"/>
<circle cx="88.00" cy="708.60" r="1.5" fill="#0dc10d"/>
<circle cx="94.00" cy="706.00" r="1.5" fill="#0dc10d"/>
<circle cx="100.00" cy="708.00" r="1.5" fill="#0dc10d"/>
<circle cx="100.00" cy="710.60" r="1.5" fill="#0dc10d"/>
<circle cx="94.00" cy="712.00" r="1.5" fill="#0dc10d"/>
<circle cx="94.00" cy="715.60" r="1.5" fill="#0dc10d"/>
<line x1="57.00" y1="666.20" x2="57.00" y2="745.00" stroke="#1a1a1a" stroke-width="0.8" />
<line x1="57.00" y1="666.60" x2="60.60" y2="666.60" stroke="#1a1a1a" stroke-width="0.7" />
<text x="54.40" y="670.24" font-size="10.1" text-anchor="end">3</text>
<line x1="57.00" y1="692.70" x2="60.60" y2="692.70" stroke="#1a1a1a" stroke-width="0.7" />
<text x="54.40" y="696.34" font-size="10.1" text-anchor="end">2</text>
<line x1="57.00" y1="718.90" x2="60.60" y2="718.90" stroke="#1a1a1a" stroke-width="0.7" />
<text x="54.40" y="722.54" font-size="10.1" text-anchor="end">1</text>
<line x1="57.00" y1="745.00" x2="60.60" y2="745.00" stroke="#1a1a1a" stroke-width="0.7" />
<text x="54.40" y="748.64" font-size="10.1" text-anchor="end">0</text>
<line x1="56.60" y1="745.00" x2="109.60" y2="745.00" stroke="#1a1a1a" stroke-width="0.8" />
<path d="M73.40 668.80 Q73.40 666.60 74.60 666.60 L96.80 666.60 Q98.00 666.60 98.00 668.80" stroke="#333" stroke-width="0.65" fill="none" />
<text x="85.40" y="663.10" font-size="4.5" text-anchor="middle" fill="#222"><tspan font-style="italic">P</tspan> = 0.0052</text>
<text font-size="9.35" text-anchor="middle" transform="translate(44.37 706.00) rotate(-90)">Plasma PYY (ng/mL)</text>
<text font-size="9.5" text-anchor="end" transform="translate(75.20 751.60) rotate(-43)">Cellulose</text>
<text font-size="9.5" text-anchor="end" transform="translate(99.00 751.60) rotate(-43)">SsEPS</text>
<path d="M158.60 745.00 L158.60 719.00 L173.60 719.00 L173.60 745.00" stroke="#1a1a1a" stroke-width="0.75" fill="#fff" />
<path d="M181.60 745.00 L181.60 718.40 L196.60 718.40 L196.60 745.00" stroke="#1a1a1a" stroke-width="0.75" fill="#fff" />
<line x1="166.10" y1="717.00" x2="166.10" y2="719.00" stroke="#1a1a1a" stroke-width="0.7" />
<line x1="162.50" y1="717.00" x2="169.70" y2="717.00" stroke="#1a1a1a" stroke-width="0.7" />
<line x1="189.10" y1="716.40" x2="189.10" y2="718.40" stroke="#1a1a1a" stroke-width="0.7" />
<line x1="185.50" y1="716.40" x2="192.70" y2="716.40" stroke="#1a1a1a" stroke-width="0.7" />
<circle cx="163.60" cy="710.40" r="1.35" fill="none" stroke="#000" stroke-width="0.85"/>
<circle cx="163.60" cy="713.60" r="1.35" fill="none" stroke="#000" stroke-width="0.85"/>
<circle cx="169.40" cy="712.40" r="1.35" fill="none" stroke="#000" stroke-width="0.85"/>
<circle cx="163.60" cy="717.00" r="1.35" fill="none" stroke="#000" stroke-width="0.85"/>
<circle cx="169.40" cy="717.60" r="1.35" fill="none" stroke="#000" stroke-width="0.85"/>
<circle cx="163.60" cy="721.00" r="1.35" fill="none" stroke="#000" stroke-width="0.85"/>
<circle cx="169.40" cy="721.00" r="1.35" fill="none" stroke="#000" stroke-width="0.85"/>
<circle cx="163.60" cy="727.40" r="1.35" fill="none" stroke="#000" stroke-width="0.85"/>
<circle cx="169.40" cy="726.40" r="1.35" fill="none" stroke="#000" stroke-width="0.85"/>
<circle cx="183.00" cy="710.00" r="1.35" fill="none" stroke="#0dc10d" stroke-width="0.85"/>
<circle cx="183.00" cy="712.40" r="1.35" fill="none" stroke="#0dc10d" stroke-width="0.85"/>
<circle cx="195.40" cy="712.60" r="1.35" fill="none" stroke="#0dc10d" stroke-width="0.85"/>
<circle cx="189.00" cy="715.00" r="1.35" fill="none" stroke="#0dc10d" stroke-width="0.85"/>
<circle cx="183.00" cy="722.00" r="1.35" fill="none" stroke="#0dc10d" stroke-width="0.85"/>
<circle cx="183.00" cy="725.00" r="1.35" fill="none" stroke="#0dc10d" stroke-width="0.85"/>
<circle cx="189.00" cy="724.40" r="1.35" fill="none" stroke="#0dc10d" stroke-width="0.85"/>
<circle cx="195.40" cy="724.40" r="1.35" fill="none" stroke="#0dc10d" stroke-width="0.85"/>
<line x1="151.40" y1="664.20" x2="151.40" y2="745.00" stroke="#1a1a1a" stroke-width="0.8" />
<line x1="151.40" y1="664.60" x2="155.00" y2="664.60" stroke="#1a1a1a" stroke-width="0.7" />
<text x="148.80" y="668.24" font-size="10.1" text-anchor="end">3</text>
<line x1="151.40" y1="691.40" x2="155.00" y2="691.40" stroke="#1a1a1a" stroke-width="0.7" />
<text x="148.80" y="695.04" font-size="10.1" text-anchor="end">2</text>
<line x1="151.40" y1="718.20" x2="155.00" y2="718.20" stroke="#1a1a1a" stroke-width="0.7" />
<text x="148.80" y="721.84" font-size="10.1" text-anchor="end">1</text>
<line x1="151.40" y1="745.00" x2="155.00" y2="745.00" stroke="#1a1a1a" stroke-width="0.7" />
<text x="148.80" y="748.64" font-size="10.1" text-anchor="end">0</text>
<line x1="151.00" y1="745.00" x2="204.60" y2="745.00" stroke="#1a1a1a" stroke-width="0.8" />
<path d="M168.60 666.80 Q168.60 664.60 169.80 664.60 L191.20 664.60 Q192.40 664.60 192.40 666.80" stroke="#333" stroke-width="0.65" fill="none" />
<text x="180.60" y="660.70" font-size="3.6" text-anchor="middle" font-style="italic" fill="#222">NS</text>
<text font-size="9.35" text-anchor="middle" transform="translate(137.97 705.00) rotate(-90)">Plasma PYY (pg/mL)</text>
<text font-size="9.5" text-anchor="end" transform="translate(170.00 751.60) rotate(-43)">Cellulose</text>
<text font-size="9.5" text-anchor="end" transform="translate(193.20 751.60) rotate(-43)">SsEPS</text>
<path d="M285.60 744.60 L285.60 688.40 L301.00 688.40 L301.00 744.60" stroke="#1a1a1a" stroke-width="0.75" fill="#fff" />
<path d="M308.40 744.60 L308.40 697.60 L323.60 697.60 L323.60 744.60" stroke="#1a1a1a" stroke-width="0.75" fill="#fff" />
<line x1="293.30" y1="685.00" x2="293.30" y2="688.40" stroke="#1a1a1a" stroke-width="0.7" />
<line x1="289.70" y1="685.00" x2="296.90" y2="685.00" stroke="#1a1a1a" stroke-width="0.7" />
<line x1="316.00" y1="696.00" x2="316.00" y2="697.60" stroke="#1a1a1a" stroke-width="0.7" />
<line x1="312.40" y1="696.00" x2="319.60" y2="696.00" stroke="#1a1a1a" stroke-width="0.7" />
<circle cx="293.40" cy="679.00" r="1.5" fill="#000"/>
<circle cx="290.00" cy="688.00" r="1.5" fill="#000"/>
<circle cx="293.40" cy="687.40" r="1.5" fill="#000"/>
<circle cx="296.60" cy="692.40" r="1.5" fill="#000"/>
<circle cx="290.00" cy="694.00" r="1.5" fill="#000"/>
<circle cx="309.60" cy="694.40" r="1.5" fill="#0dc10d"/>
<circle cx="316.00" cy="694.40" r="1.5" fill="#0dc10d"/>
<circle cx="322.40" cy="696.40" r="1.5" fill="#0dc10d"/>
<circle cx="316.00" cy="698.00" r="1.5" fill="#0dc10d"/>
<circle cx="316.00" cy="704.00" r="1.5" fill="#0dc10d"/>
<line x1="278.40" y1="665.00" x2="278.40" y2="744.60" stroke="#1a1a1a" stroke-width="0.8" />
<line x1="278.40" y1="665.40" x2="282.00" y2="665.40" stroke="#1a1a1a" stroke-width="0.7" />
<text x="275.80" y="669.04" font-size="10.1" text-anchor="end">3</text>
<line x1="278.40" y1="691.80" x2="282.00" y2="691.80" stroke="#1a1a1a" stroke-width="0.7" />
<text x="275.80" y="695.44" font-size="10.1" text-anchor="end">2</text>
<line x1="278.40" y1="718.20" x2="282.00" y2="718.20" stroke="#1a1a1a" stroke-width="0.7" />
<text x="275.80" y="721.84" font-size="10.1" text-anchor="end">1</text>
<line x1="278.40" y1="744.60" x2="282.00" y2="744.60" stroke="#1a1a1a" stroke-width="0.7" />
<text x="275.80" y="748.24" font-size="10.1" text-anchor="end">0</text>
<line x1="278.00" y1="744.60" x2="331.60" y2="744.60" stroke="#1a1a1a" stroke-width="0.8" />
<path d="M296.00 667.60 Q296.00 665.40 297.20 665.40 L318.40 665.40 Q319.60 665.40 319.60 667.60" stroke="#333" stroke-width="0.65" fill="none" />
<text x="307.60" y="661.70" font-size="4.5" text-anchor="middle" fill="#222"><tspan font-style="italic">P</tspan> = 0.0079</text>
<text font-size="9.7" text-anchor="middle" transform="translate(253.49 705.50) rotate(-90)">Food intake (g/mouse/day)</text>
<text font-size="9.5" text-anchor="end" transform="translate(297.60 751.60) rotate(-43)">Cellulose</text>
<text font-size="9.5" text-anchor="end" transform="translate(320.60 751.60) rotate(-43)">SsEPS</text>
<text font-size="9.7" text-anchor="middle" transform="translate(265.40 705.50) rotate(-90)">at 12 weeks of age</text>
<path d="M393.40 744.60 L393.40 673.00 L408.60 673.00 L408.60 744.60" stroke="#1a1a1a" stroke-width="0.75" fill="#fff" />
<path d="M416.40 744.60 L416.40 675.60 L431.60 675.60 L431.60 744.60" stroke="#1a1a1a" stroke-width="0.75" fill="#fff" />
<line x1="401.00" y1="671.60" x2="401.00" y2="673.00" stroke="#1a1a1a" stroke-width="0.7" />
<line x1="397.40" y1="671.60" x2="404.60" y2="671.60" stroke="#1a1a1a" stroke-width="0.7" />
<line x1="424.00" y1="672.60" x2="424.00" y2="675.60" stroke="#1a1a1a" stroke-width="0.7" />
<line x1="420.40" y1="672.60" x2="427.60" y2="672.60" stroke="#1a1a1a" stroke-width="0.7" />
<circle cx="400.60" cy="667.00" r="1.35" fill="none" stroke="#000" stroke-width="0.85"/>
<circle cx="395.00" cy="672.00" r="1.35" fill="none" stroke="#000" stroke-width="0.85"/>
<circle cx="401.00" cy="672.00" r="1.35" fill="none" stroke="#000" stroke-width="0.85"/>
<circle cx="407.00" cy="673.00" r="1.35" fill="none" stroke="#000" stroke-width="0.85"/>
<circle cx="395.00" cy="674.40" r="1.35" fill="none" stroke="#000" stroke-width="0.85"/>
<circle cx="423.60" cy="668.00" r="1.35" fill="none" stroke="#0dc10d" stroke-width="0.85"/>
<circle cx="421.00" cy="673.40" r="1.35" fill="none" stroke="#0dc10d" stroke-width="0.85"/>
<circle cx="426.40" cy="672.60" r="1.35" fill="none" stroke="#0dc10d" stroke-width="0.85"/>
<circle cx="423.60" cy="678.00" r="1.35" fill="none" stroke="#0dc10d" stroke-width="0.85"/>
<circle cx="423.60" cy="683.60" r="1.35" fill="none" stroke="#0dc10d" stroke-width="0.85"/>
<line x1="386.00" y1="665.00" x2="386.00" y2="744.60" stroke="#1a1a1a" stroke-width="0.8" />
<line x1="386.00" y1="665.40" x2="389.60" y2="665.40" stroke="#1a1a1a" stroke-width="0.7" />
<text x="383.40" y="669.04" font-size="10.1" text-anchor="end">3</text>
<line x1="386.00" y1="691.80" x2="389.60" y2="691.80" stroke="#1a1a1a" stroke-width="0.7" />
<text x="383.40" y="695.44" font-size="10.1" text-anchor="end">2</text>
<line x1="386.00" y1="718.20" x2="389.60" y2="718.20" stroke="#1a1a1a" stroke-width="0.7" />
<text x="383.40" y="721.84" font-size="10.1" text-anchor="end">1</text>
<line x1="386.00" y1="744.60" x2="389.60" y2="744.60" stroke="#1a1a1a" stroke-width="0.7" />
<text x="383.40" y="748.24" font-size="10.1" text-anchor="end">0</text>
<line x1="385.60" y1="744.60" x2="439.40" y2="744.60" stroke="#1a1a1a" stroke-width="0.8" />
<path d="M400.00 665.20 Q400.00 663.00 401.20 663.00 L422.40 663.00 Q423.60 663.00 423.60 665.20" stroke="#333" stroke-width="0.65" fill="none" />
<text x="411.60" y="659.10" font-size="3.6" text-anchor="middle" font-style="italic" fill="#222">NS</text>
<text font-size="9.7" text-anchor="middle" transform="translate(361.49 705.50) rotate(-90)">Food intake (g/mouse/day)</text>
<text font-size="9.5" text-anchor="end" transform="translate(404.60 751.60) rotate(-43)">Cellulose</text>
<text font-size="9.5" text-anchor="end" transform="translate(427.60 751.60) rotate(-43)">SsEPS</text>
<text font-size="9.7" text-anchor="middle" transform="translate(373.00 705.50) rotate(-90)">at 12 weeks of age</text>
<path d="M514.40 745.00 L514.40 738.40 L531.60 738.40 L531.60 745.00" stroke="#1a1a1a" stroke-width="0.75" fill="#fff" />
<path d="M540.40 745.00 L540.40 722.40 L557.60 722.40 L557.60 745.00" stroke="#1a1a1a" stroke-width="0.75" fill="#fff" />
<line x1="523.00" y1="736.60" x2="523.00" y2="738.40" stroke="#1a1a1a" stroke-width="0.7" />
<line x1="519.40" y1="736.60" x2="526.60" y2="736.60" stroke="#1a1a1a" stroke-width="0.7" />
<line x1="549.00" y1="716.40" x2="549.00" y2="722.40" stroke="#1a1a1a" stroke-width="0.7" />
<line x1="545.40" y1="716.40" x2="552.60" y2="716.40" stroke="#1a1a1a" stroke-width="0.7" />
<circle cx="521.40" cy="731.00" r="1.5" fill="#000"/>
<circle cx="525.00" cy="731.00" r="1.5" fill="#000"/>
<circle cx="521.40" cy="734.00" r="1.5" fill="#000"/>
<circle cx="525.00" cy="734.00" r="1.5" fill="#000"/>
<circle cx="516.00" cy="739.00" r="1.5" fill="#000"/>
<circle cx="520.00" cy="740.00" r="1.5" fill="#000"/>
<circle cx="523.00" cy="739.40" r="1.5" fill="#000"/>
<circle cx="527.00" cy="740.60" r="1.5" fill="#000"/>
<circle cx="530.00" cy="741.00" r="1.5" fill="#000"/>
<circle cx="519.40" cy="743.60" r="1.5" fill="#000"/>
<circle cx="549.00" cy="688.40" r="1.5" fill="#0dc10d"/>
<circle cx="546.40" cy="703.00" r="1.5" fill="#0dc10d"/>
<circle cx="551.60" cy="704.40" r="1.5" fill="#0dc10d"/>
<circle cx="549.00" cy="717.00" r="1.5" fill="#0dc10d"/>
<circle cx="549.00" cy="728.60" r="1.5" fill="#0dc10d"/>
<circle cx="546.40" cy="732.40" r="1.5" fill="#0dc10d"/>
<circle cx="551.60" cy="734.00" r="1.5" fill="#0dc10d"/>
<circle cx="544.00" cy="739.40" r="1.5" fill="#0dc10d"/>
<circle cx="549.00" cy="738.00" r="1.5" fill="#0dc10d"/>
<circle cx="554.00" cy="738.40" r="1.5" fill="#0dc10d"/>
<line x1="505.60" y1="672.00" x2="505.60" y2="745.00" stroke="#1a1a1a" stroke-width="0.8" />
<line x1="505.60" y1="672.40" x2="509.20" y2="672.40" stroke="#1a1a1a" stroke-width="0.7" />
<text x="503.20" y="675.32" font-size="8.1" text-anchor="end">10</text>
<line x1="505.60" y1="686.90" x2="509.20" y2="686.90" stroke="#1a1a1a" stroke-width="0.7" />
<text x="503.20" y="689.82" font-size="8.1" text-anchor="end">8</text>
<line x1="505.60" y1="701.40" x2="509.20" y2="701.40" stroke="#1a1a1a" stroke-width="0.7" />
<text x="503.20" y="704.32" font-size="8.1" text-anchor="end">6</text>
<line x1="505.60" y1="716.00" x2="509.20" y2="716.00" stroke="#1a1a1a" stroke-width="0.7" />
<text x="503.20" y="718.92" font-size="8.1" text-anchor="end">4</text>
<line x1="505.60" y1="730.50" x2="509.20" y2="730.50" stroke="#1a1a1a" stroke-width="0.7" />
<text x="503.20" y="733.42" font-size="8.1" text-anchor="end">2</text>
<line x1="505.60" y1="745.00" x2="509.20" y2="745.00" stroke="#1a1a1a" stroke-width="0.7" />
<text x="503.20" y="747.92" font-size="8.1" text-anchor="end">0</text>
<line x1="505.20" y1="745.00" x2="566.60" y2="745.00" stroke="#1a1a1a" stroke-width="0.8" />
<path d="M523.40 674.60 Q523.40 672.40 524.60 672.40 L548.40 672.40 Q549.60 672.40 549.60 674.60" stroke="#333" stroke-width="0.65" fill="none" />
<text x="536.40" y="668.50" font-size="4.5" text-anchor="middle" fill="#222"><tspan font-style="italic">P</tspan> = 0.0147</text>
<text font-size="8.5" text-anchor="middle" transform="translate(480.46 709.00) rotate(-90)">Relative expression</text>
<text font-size="8.9" text-anchor="end" transform="translate(526.00 751.00) rotate(-43)">Cellulose</text>
<text font-size="8.9" text-anchor="end" transform="translate(552.00 751.00) rotate(-43)">SsEPS</text>
<text font-size="8.5" text-anchor="middle" transform="translate(491.00 709.00) rotate(-90)">(<tspan font-style="italic">Ucp1 / 18S</tspan>)</text>
<path d="M609.00 745.00 L609.00 738.00 L626.00 738.00 L626.00 745.00" stroke="#1a1a1a" stroke-width="0.75" fill="#fff" />
<path d="M635.40 745.00 L635.40 737.60 L652.00 737.60 L652.00 745.00" stroke="#1a1a1a" stroke-width="0.75" fill="#fff" />
<line x1="617.50" y1="736.60" x2="617.50" y2="738.00" stroke="#1a1a1a" stroke-width="0.7" />
<line x1="613.90" y1="736.60" x2="621.10" y2="736.60" stroke="#1a1a1a" stroke-width="0.7" />
<line x1="643.70" y1="736.40" x2="643.70" y2="737.60" stroke="#1a1a1a" stroke-width="0.7" />
<line x1="640.10" y1="736.40" x2="647.30" y2="736.40" stroke="#1a1a1a" stroke-width="0.7" />
<circle cx="615.40" cy="733.40" r="1.35" fill="none" stroke="#000" stroke-width="0.85"/>
<circle cx="620.00" cy="732.60" r="1.35" fill="none" stroke="#000" stroke-width="0.85"/>
<circle cx="625.00" cy="732.60" r="1.35" fill="none" stroke="#000" stroke-width="0.85"/>
<circle cx="610.40" cy="736.60" r="1.35" fill="none" stroke="#000" stroke-width="0.85"/>
<circle cx="615.40" cy="738.60" r="1.35" fill="none" stroke="#000" stroke-width="0.85"/>
<circle cx="620.00" cy="739.00" r="1.35" fill="none" stroke="#000" stroke-width="0.85"/>
<circle cx="625.00" cy="738.60" r="1.35" fill="none" stroke="#000" stroke-width="0.85"/>
<circle cx="610.40" cy="740.00" r="1.35" fill="none" stroke="#000" stroke-width="0.85"/>
<circle cx="615.40" cy="741.00" r="1.35" fill="none" stroke="#000" stroke-width="0.85"/>
<circle cx="620.00" cy="741.40" r="1.35" fill="none" stroke="#000" stroke-width="0.85"/>
<circle cx="625.00" cy="742.00" r="1.35" fill="none" stroke="#000" stroke-width="0.85"/>
<circle cx="651.00" cy="731.60" r="1.35" fill="none" stroke="#0dc10d" stroke-width="0.85"/>
<circle cx="636.00" cy="734.00" r="1.35" fill="none" stroke="#0dc10d" stroke-width="0.85"/>
<circle cx="641.00" cy="733.60" r="1.35" fill="none" stroke="#0dc10d" stroke-width="0.85"/>
<circle cx="646.00" cy="733.00" r="1.35" fill="none" stroke="#0dc10d" stroke-width="0.85"/>
<circle cx="643.40" cy="737.00" r="1.35" fill="none" stroke="#0dc10d" stroke-width="0.85"/>
<circle cx="638.40" cy="739.40" r="1.35" fill="none" stroke="#0dc10d" stroke-width="0.85"/>
<circle cx="643.40" cy="740.00" r="1.35" fill="none" stroke="#0dc10d" stroke-width="0.85"/>
<circle cx="648.60" cy="739.40" r="1.35" fill="none" stroke="#0dc10d" stroke-width="0.85"/>
<circle cx="641.00" cy="744.00" r="1.35" fill="none" stroke="#0dc10d" stroke-width="0.85"/>
<circle cx="646.00" cy="744.00" r="1.35" fill="none" stroke="#0dc10d" stroke-width="0.85"/>
<line x1="600.40" y1="672.00" x2="600.40" y2="745.00" stroke="#1a1a1a" stroke-width="0.8" />
<line x1="600.40" y1="672.40" x2="604.00" y2="672.40" stroke="#1a1a1a" stroke-width="0.7" />
<text x="598.00" y="675.32" font-size="8.1" text-anchor="end">10</text>
<line x1="600.40" y1="686.90" x2="604.00" y2="686.90" stroke="#1a1a1a" stroke-width="0.7" />
<text x="598.00" y="689.82" font-size="8.1" text-anchor="end">8</text>
<line x1="600.40" y1="701.40" x2="604.00" y2="701.40" stroke="#1a1a1a" stroke-width="0.7" />
<text x="598.00" y="704.32" font-size="8.1" text-anchor="end">6</text>
<line x1="600.40" y1="716.00" x2="604.00" y2="716.00" stroke="#1a1a1a" stroke-width="0.7" />
<text x="598.00" y="718.92" font-size="8.1" text-anchor="end">4</text>
<line x1="600.40" y1="730.50" x2="604.00" y2="730.50" stroke="#1a1a1a" stroke-width="0.7" />
<text x="598.00" y="733.42" font-size="8.1" text-anchor="end">2</text>
<line x1="600.40" y1="745.00" x2="604.00" y2="745.00" stroke="#1a1a1a" stroke-width="0.7" />
<text x="598.00" y="747.92" font-size="8.1" text-anchor="end">0</text>
<line x1="600.00" y1="745.00" x2="661.40" y2="745.00" stroke="#1a1a1a" stroke-width="0.8" />
<text font-size="8.5" text-anchor="middle" transform="translate(574.06 709.00) rotate(-90)">Relative expression</text>
<text font-size="8.9" text-anchor="end" transform="translate(620.40 751.00) rotate(-43)">Cellulose</text>
<text font-size="8.9" text-anchor="end" transform="translate(646.40 751.00) rotate(-43)">SsEPS</text>
<text font-size="8.5" text-anchor="middle" transform="translate(585.00 709.00) rotate(-90)">(<tspan font-style="italic">Ucp1 / 18S</tspan>)</text>
<text x="45.20" y="807.60" font-size="18" >i</text>
<text x="347.60" y="808.00" font-size="18" >j</text>
<line x1="95.20" y1="870.90" x2="95.20" y2="873.90" stroke="#00b050" stroke-width="0.6" />
<line x1="93.60" y1="870.90" x2="96.80" y2="870.90" stroke="#00b050" stroke-width="0.6" />
<line x1="93.60" y1="873.90" x2="96.80" y2="873.90" stroke="#00b050" stroke-width="0.6" />
<line x1="104.00" y1="817.20" x2="104.00" y2="822.40" stroke="#00b050" stroke-width="0.6" />
<line x1="102.40" y1="817.20" x2="105.60" y2="817.20" stroke="#00b050" stroke-width="0.6" />
<line x1="102.40" y1="822.40" x2="105.60" y2="822.40" stroke="#00b050" stroke-width="0.6" />
<line x1="112.70" y1="814.80" x2="112.70" y2="822.00" stroke="#00b050" stroke-width="0.6" />
<line x1="111.10" y1="814.80" x2="114.30" y2="814.80" stroke="#00b050" stroke-width="0.6" />
<line x1="111.10" y1="822.00" x2="114.30" y2="822.00" stroke="#00b050" stroke-width="0.6" />
<line x1="129.80" y1="839.90" x2="129.80" y2="842.90" stroke="#00b050" stroke-width="0.6" />
<line x1="128.20" y1="839.90" x2="131.40" y2="839.90" stroke="#00b050" stroke-width="0.6" />
<line x1="128.20" y1="842.90" x2="131.40" y2="842.90" stroke="#00b050" stroke-width="0.6" />
<line x1="147.00" y1="859.10" x2="147.00" y2="861.50" stroke="#00b050" stroke-width="0.6" />
<line x1="145.40" y1="859.10" x2="148.60" y2="859.10" stroke="#00b050" stroke-width="0.6" />
<line x1="145.40" y1="861.50" x2="148.60" y2="861.50" stroke="#00b050" stroke-width="0.6" />
<line x1="164.10" y1="872.50" x2="164.10" y2="874.50" stroke="#00b050" stroke-width="0.6" />
<line x1="162.50" y1="872.50" x2="165.70" y2="872.50" stroke="#00b050" stroke-width="0.6" />
<line x1="162.50" y1="874.50" x2="165.70" y2="874.50" stroke="#00b050" stroke-width="0.6" />
<path d="M95.20 872.40 L104.00 819.80 L112.70 818.40 L129.80 841.40 L147.00 860.30 L164.10 873.50" stroke="#00b050" stroke-width="0.9" fill="none" />
<circle cx="95.20" cy="872.40" r="1.9" fill="none" stroke="#00b050" stroke-width="0.7"/>
<circle cx="104.00" cy="819.80" r="1.9" fill="none" stroke="#00b050" stroke-width="0.7"/>
<circle cx="112.70" cy="818.40" r="1.9" fill="none" stroke="#00b050" stroke-width="0.7"/>
<circle cx="129.80" cy="841.40" r="1.9" fill="none" stroke="#00b050" stroke-width="0.7"/>
<circle cx="147.00" cy="860.30" r="1.9" fill="none" stroke="#00b050" stroke-width="0.7"/>
<circle cx="164.10" cy="873.50" r="1.9" fill="none" stroke="#00b050" stroke-width="0.7"/>
<line x1="95.20" y1="870.90" x2="95.20" y2="873.90" stroke="#00b050" stroke-width="0.6" />
<line x1="93.60" y1="870.90" x2="96.80" y2="870.90" stroke="#00b050" stroke-width="0.6" />
<line x1="93.60" y1="873.90" x2="96.80" y2="873.90" stroke="#00b050" stroke-width="0.6" />
<line x1="104.00" y1="827.40" x2="104.00" y2="830.40" stroke="#00b050" stroke-width="0.6" />
<line x1="102.40" y1="827.40" x2="105.60" y2="827.40" stroke="#00b050" stroke-width="0.6" />
<line x1="102.40" y1="830.40" x2="105.60" y2="830.40" stroke="#00b050" stroke-width="0.6" />
<line x1="112.70" y1="831.00" x2="112.70" y2="833.40" stroke="#00b050" stroke-width="0.6" />
<line x1="111.10" y1="831.00" x2="114.30" y2="831.00" stroke="#00b050" stroke-width="0.6" />
<line x1="111.10" y1="833.40" x2="114.30" y2="833.40" stroke="#00b050" stroke-width="0.6" />
<line x1="129.80" y1="852.50" x2="129.80" y2="854.90" stroke="#00b050" stroke-width="0.6" />
<line x1="128.20" y1="852.50" x2="131.40" y2="852.50" stroke="#00b050" stroke-width="0.6" />
<line x1="128.20" y1="854.90" x2="131.40" y2="854.90" stroke="#00b050" stroke-width="0.6" />
<line x1="147.00" y1="865.80" x2="147.00" y2="867.80" stroke="#00b050" stroke-width="0.6" />
<line x1="145.40" y1="865.80" x2="148.60" y2="865.80" stroke="#00b050" stroke-width="0.6" />
<line x1="145.40" y1="867.80" x2="148.60" y2="867.80" stroke="#00b050" stroke-width="0.6" />
<line x1="164.10" y1="874.60" x2="164.10" y2="876.60" stroke="#00b050" stroke-width="0.6" />
<line x1="162.50" y1="874.60" x2="165.70" y2="874.60" stroke="#00b050" stroke-width="0.6" />
<line x1="162.50" y1="876.60" x2="165.70" y2="876.60" stroke="#00b050" stroke-width="0.6" />
<path d="M95.20 872.40 L104.00 828.90 L112.70 832.20 L129.80 853.70 L147.00 866.80 L164.10 875.60" stroke="#00b050" stroke-width="0.9" fill="none" />
<circle cx="95.20" cy="872.40" r="2.1" fill="#00b050"/>
<circle cx="104.00" cy="828.90" r="2.1" fill="#00b050"/>
<circle cx="112.70" cy="832.20" r="2.1" fill="#00b050"/>
<circle cx="129.80" cy="853.70" r="2.1" fill="#00b050"/>
<circle cx="147.00" cy="866.80" r="2.1" fill="#00b050"/>
<circle cx="164.10" cy="875.60" r="2.1" fill="#00b050"/>
<line x1="95.20" y1="873.10" x2="95.20" y2="876.10" stroke="#000" stroke-width="0.6" />
<line x1="93.60" y1="873.10" x2="96.80" y2="873.10" stroke="#000" stroke-width="0.6" />
<line x1="93.60" y1="876.10" x2="96.80" y2="876.10" stroke="#000" stroke-width="0.6" />
<line x1="104.00" y1="824.40" x2="104.00" y2="828.40" stroke="#000" stroke-width="0.6" />
<line x1="102.40" y1="824.40" x2="105.60" y2="824.40" stroke="#000" stroke-width="0.6" />
<line x1="102.40" y1="828.40" x2="105.60" y2="828.40" stroke="#000" stroke-width="0.6" />
<line x1="112.70" y1="819.00" x2="112.70" y2="823.00" stroke="#000" stroke-width="0.6" />
<line x1="111.10" y1="819.00" x2="114.30" y2="819.00" stroke="#000" stroke-width="0.6" />
<line x1="111.10" y1="823.00" x2="114.30" y2="823.00" stroke="#000" stroke-width="0.6" />
<line x1="129.80" y1="845.60" x2="129.80" y2="850.00" stroke="#000" stroke-width="0.6" />
<line x1="128.20" y1="845.60" x2="131.40" y2="845.60" stroke="#000" stroke-width="0.6" />
<line x1="128.20" y1="850.00" x2="131.40" y2="850.00" stroke="#000" stroke-width="0.6" />
<line x1="147.00" y1="859.80" x2="147.00" y2="862.20" stroke="#000" stroke-width="0.6" />
<line x1="145.40" y1="859.80" x2="148.60" y2="859.80" stroke="#000" stroke-width="0.6" />
<line x1="145.40" y1="862.20" x2="148.60" y2="862.20" stroke="#000" stroke-width="0.6" />
<line x1="164.10" y1="872.10" x2="164.10" y2="874.10" stroke="#000" stroke-width="0.6" />
<line x1="162.50" y1="872.10" x2="165.70" y2="872.10" stroke="#000" stroke-width="0.6" />
<line x1="162.50" y1="874.10" x2="165.70" y2="874.10" stroke="#000" stroke-width="0.6" />
<path d="M95.20 874.60 L104.00 826.40 L112.70 821.00 L129.80 847.80 L147.00 861.00 L164.10 873.10" stroke="#000" stroke-width="0.9" fill="none" />
<circle cx="95.20" cy="874.60" r="1.9" fill="none" stroke="#000" stroke-width="0.7"/>
<circle cx="104.00" cy="826.40" r="1.9" fill="none" stroke="#000" stroke-width="0.7"/>
<circle cx="112.70" cy="821.00" r="1.9" fill="none" stroke="#000" stroke-width="0.7"/>
<circle cx="129.80" cy="847.80" r="1.9" fill="none" stroke="#000" stroke-width="0.7"/>
<circle cx="147.00" cy="861.00" r="1.9" fill="none" stroke="#000" stroke-width="0.7"/>
<circle cx="164.10" cy="873.10" r="1.9" fill="none" stroke="#000" stroke-width="0.7"/>
<line x1="95.20" y1="873.10" x2="95.20" y2="876.10" stroke="#000" stroke-width="0.6" />
<line x1="93.60" y1="873.10" x2="96.80" y2="873.10" stroke="#000" stroke-width="0.6" />
<line x1="93.60" y1="876.10" x2="96.80" y2="876.10" stroke="#000" stroke-width="0.6" />
<line x1="104.00" y1="820.20" x2="104.00" y2="823.20" stroke="#000" stroke-width="0.6" />
<line x1="102.40" y1="820.20" x2="105.60" y2="820.20" stroke="#000" stroke-width="0.6" />
<line x1="102.40" y1="823.20" x2="105.60" y2="823.20" stroke="#000" stroke-width="0.6" />
<line x1="112.70" y1="820.20" x2="112.70" y2="823.20" stroke="#000" stroke-width="0.6" />
<line x1="111.10" y1="820.20" x2="114.30" y2="820.20" stroke="#000" stroke-width="0.6" />
<line x1="111.10" y1="823.20" x2="114.30" y2="823.20" stroke="#000" stroke-width="0.6" />
<line x1="129.80" y1="843.10" x2="129.80" y2="846.10" stroke="#000" stroke-width="0.6" />
<line x1="128.20" y1="843.10" x2="131.40" y2="843.10" stroke="#000" stroke-width="0.6" />
<line x1="128.20" y1="846.10" x2="131.40" y2="846.10" stroke="#000" stroke-width="0.6" />
<line x1="147.00" y1="866.30" x2="147.00" y2="868.30" stroke="#000" stroke-width="0.6" />
<line x1="145.40" y1="866.30" x2="148.60" y2="866.30" stroke="#000" stroke-width="0.6" />
<line x1="145.40" y1="868.30" x2="148.60" y2="868.30" stroke="#000" stroke-width="0.6" />
<line x1="164.10" y1="875.80" x2="164.10" y2="877.80" stroke="#000" stroke-width="0.6" />
<line x1="162.50" y1="875.80" x2="165.70" y2="875.80" stroke="#000" stroke-width="0.6" />
<line x1="162.50" y1="877.80" x2="165.70" y2="877.80" stroke="#000" stroke-width="0.6" />
<path d="M95.20 874.60 L104.00 821.70 L112.70 821.70 L129.80 844.60 L147.00 867.30 L164.10 876.80" stroke="#000" stroke-width="0.9" fill="none" />
<circle cx="95.20" cy="874.60" r="2.1" fill="#000"/>
<circle cx="104.00" cy="821.70" r="2.1" fill="#000"/>
<circle cx="112.70" cy="821.70" r="2.1" fill="#000"/>
<circle cx="129.80" cy="844.60" r="2.1" fill="#000"/>
<circle cx="147.00" cy="867.30" r="2.1" fill="#000"/>
<circle cx="164.10" cy="876.80" r="2.1" fill="#000"/>
<line x1="95.20" y1="806.00" x2="95.20" y2="899.20" stroke="#1a1a1a" stroke-width="0.8" />
<line x1="94.80" y1="899.20" x2="164.90" y2="899.20" stroke="#1a1a1a" stroke-width="0.8" />
<line x1="95.20" y1="806.40" x2="98.40" y2="806.40" stroke="#1a1a1a" stroke-width="0.7" />
<text x="92.80" y="809.50" font-size="8.6" text-anchor="end">500</text>
<line x1="95.20" y1="825.00" x2="98.40" y2="825.00" stroke="#1a1a1a" stroke-width="0.7" />
<text x="92.80" y="828.10" font-size="8.6" text-anchor="end">400</text>
<line x1="95.20" y1="843.50" x2="98.40" y2="843.50" stroke="#1a1a1a" stroke-width="0.7" />
<text x="92.80" y="846.60" font-size="8.6" text-anchor="end">300</text>
<line x1="95.20" y1="862.00" x2="98.40" y2="862.00" stroke="#1a1a1a" stroke-width="0.7" />
<text x="92.80" y="865.10" font-size="8.6" text-anchor="end">200</text>
<line x1="95.20" y1="880.60" x2="98.40" y2="880.60" stroke="#1a1a1a" stroke-width="0.7" />
<text x="92.80" y="883.70" font-size="8.6" text-anchor="end">100</text>
<text x="92.80" y="902.30" font-size="8.6" text-anchor="end">0</text>
<text x="95.20" y="909.60" font-size="8.6" text-anchor="middle">0.0</text>
<text x="112.70" y="909.60" font-size="8.6" text-anchor="middle">0.5</text>
<text x="129.80" y="909.60" font-size="8.6" text-anchor="middle">1.0</text>
<text x="147.00" y="909.60" font-size="8.6" text-anchor="middle">1.5</text>
<text x="164.10" y="909.60" font-size="8.6" text-anchor="middle">2.0</text>
<text x="130.50" y="920.20" font-size="8.4" text-anchor="middle">Time (hrs) after glucose i.p.</text>
<text font-size="8.3" text-anchor="middle" transform="translate(73.70 853.70) rotate(-90)">Blood glucose (mg/dL)</text>
<text x="112.80" y="841.20" font-size="6.5" text-anchor="middle">**</text>
<text x="129.80" y="863.20" font-size="6.5" text-anchor="middle">**</text>
<circle cx="124.40" cy="803.60" r="3.1" fill="#000"/>
<circle cx="124.40" cy="813.00" r="2.9" fill="none" stroke="#222" stroke-width="0.6"/>
<text x="131.00" y="806.40" font-size="7.9" >Wild-type</text>
<text x="131.00" y="816.00" font-size="7.9" ><tspan font-style="italic">Gpr41<tspan dy="-2.8" font-size="5">-/-</tspan><tspan dy="2.8">Gpr43</tspan><tspan dy="-2.8" font-size="5">-/-</tspan></tspan></text>
<circle cx="104.90" cy="879.40" r="3.2" fill="#000"/>
<circle cx="112.80" cy="879.40" r="3.0" fill="none" stroke="#000" stroke-width="0.6"/>
<text x="119.30" y="882.40" font-size="8.0" >Cellulose</text>
<circle cx="104.90" cy="889.40" r="3.2" fill="#00b050"/>
<circle cx="112.80" cy="889.40" r="3.0" fill="none" stroke="#00b050" stroke-width="0.6"/>
<text x="119.30" y="892.40" font-size="8.0" fill="#00b050">SsEPS</text>
<line x1="401.40" y1="874.20" x2="401.40" y2="876.60" stroke="#00b050" stroke-width="0.6" />
<line x1="399.80" y1="874.20" x2="403.00" y2="874.20" stroke="#00b050" stroke-width="0.6" />
<line x1="399.80" y1="876.60" x2="403.00" y2="876.60" stroke="#00b050" stroke-width="0.6" />
<line x1="410.10" y1="830.80" x2="410.10" y2="833.80" stroke="#00b050" stroke-width="0.6" />
<line x1="408.50" y1="830.80" x2="411.70" y2="830.80" stroke="#00b050" stroke-width="0.6" />
<line x1="408.50" y1="833.80" x2="411.70" y2="833.80" stroke="#00b050" stroke-width="0.6" />
<line x1="418.90" y1="814.50" x2="418.90" y2="819.50" stroke="#00b050" stroke-width="0.6" />
<line x1="417.30" y1="814.50" x2="420.50" y2="814.50" stroke="#00b050" stroke-width="0.6" />
<line x1="417.30" y1="819.50" x2="420.50" y2="819.50" stroke="#00b050" stroke-width="0.6" />
<line x1="436.40" y1="835.20" x2="436.40" y2="838.20" stroke="#00b050" stroke-width="0.6" />
<line x1="434.80" y1="835.20" x2="438.00" y2="835.20" stroke="#00b050" stroke-width="0.6" />
<line x1="434.80" y1="838.20" x2="438.00" y2="838.20" stroke="#00b050" stroke-width="0.6" />
<line x1="453.90" y1="848.60" x2="453.90" y2="851.60" stroke="#00b050" stroke-width="0.6" />
<line x1="452.30" y1="848.60" x2="455.50" y2="848.60" stroke="#00b050" stroke-width="0.6" />
<line x1="452.30" y1="851.60" x2="455.50" y2="851.60" stroke="#00b050" stroke-width="0.6" />
<line x1="471.80" y1="869.50" x2="471.80" y2="871.90" stroke="#00b050" stroke-width="0.6" />
<line x1="470.20" y1="869.50" x2="473.40" y2="869.50" stroke="#00b050" stroke-width="0.6" />
<line x1="470.20" y1="871.90" x2="473.40" y2="871.90" stroke="#00b050" stroke-width="0.6" />
<path d="M401.40 875.40 L410.10 832.30 L418.90 817.00 L436.40 836.70 L453.90 850.10 L471.80 870.70" stroke="#00b050" stroke-width="0.9" fill="none" />
<rect x="399.60" y="873.60" width="3.6" height="3.6" fill="none" stroke="#00b050" stroke-width="0.7"/>
<rect x="408.30" y="830.50" width="3.6" height="3.6" fill="none" stroke="#00b050" stroke-width="0.7"/>
<rect x="417.10" y="815.20" width="3.6" height="3.6" fill="none" stroke="#00b050" stroke-width="0.7"/>
<rect x="434.60" y="834.90" width="3.6" height="3.6" fill="none" stroke="#00b050" stroke-width="0.7"/>
<rect x="452.10" y="848.30" width="3.6" height="3.6" fill="none" stroke="#00b050" stroke-width="0.7"/>
<rect x="470.00" y="868.90" width="3.6" height="3.6" fill="none" stroke="#00b050" stroke-width="0.7"/>
<line x1="401.40" y1="874.20" x2="401.40" y2="876.60" stroke="#00b050" stroke-width="0.6" />
<line x1="399.80" y1="874.20" x2="403.00" y2="874.20" stroke="#00b050" stroke-width="0.6" />
<line x1="399.80" y1="876.60" x2="403.00" y2="876.60" stroke="#00b050" stroke-width="0.6" />
<line x1="410.10" y1="839.60" x2="410.10" y2="842.00" stroke="#00b050" stroke-width="0.6" />
<line x1="408.50" y1="839.60" x2="411.70" y2="839.60" stroke="#00b050" stroke-width="0.6" />
<line x1="408.50" y1="842.00" x2="411.70" y2="842.00" stroke="#00b050" stroke-width="0.6" />
<line x1="418.90" y1="834.50" x2="418.90" y2="836.90" stroke="#00b050" stroke-width="0.6" />
<line x1="417.30" y1="834.50" x2="420.50" y2="834.50" stroke="#00b050" stroke-width="0.6" />
<line x1="417.30" y1="836.90" x2="420.50" y2="836.90" stroke="#00b050" stroke-width="0.6" />
<line x1="436.40" y1="845.70" x2="436.40" y2="848.70" stroke="#00b050" stroke-width="0.6" />
<line x1="434.80" y1="845.70" x2="438.00" y2="845.70" stroke="#00b050" stroke-width="0.6" />
<line x1="434.80" y1="848.70" x2="438.00" y2="848.70" stroke="#00b050" stroke-width="0.6" />
<line x1="453.90" y1="858.90" x2="453.90" y2="861.30" stroke="#00b050" stroke-width="0.6" />
<line x1="452.30" y1="858.90" x2="455.50" y2="858.90" stroke="#00b050" stroke-width="0.6" />
<line x1="452.30" y1="861.30" x2="455.50" y2="861.30" stroke="#00b050" stroke-width="0.6" />
<line x1="471.80" y1="871.20" x2="471.80" y2="873.20" stroke="#00b050" stroke-width="0.6" />
<line x1="470.20" y1="871.20" x2="473.40" y2="871.20" stroke="#00b050" stroke-width="0.6" />
<line x1="470.20" y1="873.20" x2="473.40" y2="873.20" stroke="#00b050" stroke-width="0.6" />
<path d="M401.40 875.40 L410.10 840.80 L418.90 835.70 L436.40 847.20 L453.90 860.10 L471.80 872.20" stroke="#00b050" stroke-width="0.9" fill="none" />
<rect x="399.35" y="873.35" width="4.1" height="4.1" fill="#00b050"/>
<rect x="408.05" y="838.75" width="4.1" height="4.1" fill="#00b050"/>
<rect x="416.85" y="833.65" width="4.1" height="4.1" fill="#00b050"/>
<rect x="434.35" y="845.15" width="4.1" height="4.1" fill="#00b050"/>
<rect x="451.85" y="858.05" width="4.1" height="4.1" fill="#00b050"/>
<rect x="469.75" y="870.15" width="4.1" height="4.1" fill="#00b050"/>
<line x1="401.40" y1="876.10" x2="401.40" y2="878.50" stroke="#000" stroke-width="0.6" />
<line x1="399.80" y1="876.10" x2="403.00" y2="876.10" stroke="#000" stroke-width="0.6" />
<line x1="399.80" y1="878.50" x2="403.00" y2="878.50" stroke="#000" stroke-width="0.6" />
<line x1="410.10" y1="829.30" x2="410.10" y2="833.30" stroke="#000" stroke-width="0.6" />
<line x1="408.50" y1="829.30" x2="411.70" y2="829.30" stroke="#000" stroke-width="0.6" />
<line x1="408.50" y1="833.30" x2="411.70" y2="833.30" stroke="#000" stroke-width="0.6" />
<line x1="418.90" y1="811.00" x2="418.90" y2="820.00" stroke="#000" stroke-width="0.6" />
<line x1="417.30" y1="811.00" x2="420.50" y2="811.00" stroke="#000" stroke-width="0.6" />
<line x1="417.30" y1="820.00" x2="420.50" y2="820.00" stroke="#000" stroke-width="0.6" />
<line x1="436.40" y1="829.20" x2="436.40" y2="833.20" stroke="#000" stroke-width="0.6" />
<line x1="434.80" y1="829.20" x2="438.00" y2="829.20" stroke="#000" stroke-width="0.6" />
<line x1="434.80" y1="833.20" x2="438.00" y2="833.20" stroke="#000" stroke-width="0.6" />
<line x1="453.90" y1="847.30" x2="453.90" y2="850.90" stroke="#000" stroke-width="0.6" />
<line x1="452.30" y1="847.30" x2="455.50" y2="847.30" stroke="#000" stroke-width="0.6" />
<line x1="452.30" y1="850.90" x2="455.50" y2="850.90" stroke="#000" stroke-width="0.6" />
<line x1="471.80" y1="866.90" x2="471.80" y2="869.90" stroke="#000" stroke-width="0.6" />
<line x1="470.20" y1="866.90" x2="473.40" y2="866.90" stroke="#000" stroke-width="0.6" />
<line x1="470.20" y1="869.90" x2="473.40" y2="869.90" stroke="#000" stroke-width="0.6" />
<path d="M401.40 877.30 L410.10 831.30 L418.90 815.50 L436.40 831.20 L453.90 849.10 L471.80 868.40" stroke="#000" stroke-width="0.9" fill="none" />
<rect x="399.60" y="875.50" width="3.6" height="3.6" fill="none" stroke="#000" stroke-width="0.7"/>
<rect x="408.30" y="829.50" width="3.6" height="3.6" fill="none" stroke="#000" stroke-width="0.7"/>
<rect x="417.10" y="813.70" width="3.6" height="3.6" fill="none" stroke="#000" stroke-width="0.7"/>
<rect x="434.60" y="829.40" width="3.6" height="3.6" fill="none" stroke="#000" stroke-width="0.7"/>
<rect x="452.10" y="847.30" width="3.6" height="3.6" fill="none" stroke="#000" stroke-width="0.7"/>
<rect x="470.00" y="866.60" width="3.6" height="3.6" fill="none" stroke="#000" stroke-width="0.7"/>
<line x1="401.40" y1="876.10" x2="401.40" y2="878.50" stroke="#000" stroke-width="0.6" />
<line x1="399.80" y1="876.10" x2="403.00" y2="876.10" stroke="#000" stroke-width="0.6" />
<line x1="399.80" y1="878.50" x2="403.00" y2="878.50" stroke="#000" stroke-width="0.6" />
<line x1="410.10" y1="829.40" x2="410.10" y2="832.40" stroke="#000" stroke-width="0.6" />
<line x1="408.50" y1="829.40" x2="411.70" y2="829.40" stroke="#000" stroke-width="0.6" />
<line x1="408.50" y1="832.40" x2="411.70" y2="832.40" stroke="#000" stroke-width="0.6" />
<line x1="418.90" y1="819.90" x2="418.90" y2="822.90" stroke="#000" stroke-width="0.6" />
<line x1="417.30" y1="819.90" x2="420.50" y2="819.90" stroke="#000" stroke-width="0.6" />
<line x1="417.30" y1="822.90" x2="420.50" y2="822.90" stroke="#000" stroke-width="0.6" />
<line x1="436.40" y1="831.10" x2="436.40" y2="834.10" stroke="#000" stroke-width="0.6" />
<line x1="434.80" y1="831.10" x2="438.00" y2="831.10" stroke="#000" stroke-width="0.6" />
<line x1="434.80" y1="834.10" x2="438.00" y2="834.10" stroke="#000" stroke-width="0.6" />
<line x1="453.90" y1="852.70" x2="453.90" y2="855.70" stroke="#000" stroke-width="0.6" />
<line x1="452.30" y1="852.70" x2="455.50" y2="852.70" stroke="#000" stroke-width="0.6" />
<line x1="452.30" y1="855.70" x2="455.50" y2="855.70" stroke="#000" stroke-width="0.6" />
<line x1="471.80" y1="869.50" x2="471.80" y2="871.90" stroke="#000" stroke-width="0.6" />
<line x1="470.20" y1="869.50" x2="473.40" y2="869.50" stroke="#000" stroke-width="0.6" />
<line x1="470.20" y1="871.90" x2="473.40" y2="871.90" stroke="#000" stroke-width="0.6" />
<path d="M401.40 877.30 L410.10 830.90 L418.90 821.40 L436.40 832.60 L453.90 854.20 L471.80 870.70" stroke="#000" stroke-width="0.9" fill="none" />
<rect x="399.35" y="875.25" width="4.1" height="4.1" fill="#000"/>
<rect x="408.05" y="828.85" width="4.1" height="4.1" fill="#000"/>
<rect x="416.85" y="819.35" width="4.1" height="4.1" fill="#000"/>
<rect x="434.35" y="830.55" width="4.1" height="4.1" fill="#000"/>
<rect x="451.85" y="852.15" width="4.1" height="4.1" fill="#000"/>
<rect x="469.75" y="868.65" width="4.1" height="4.1" fill="#000"/>
<line x1="401.40" y1="801.60" x2="401.40" y2="894.60" stroke="#1a1a1a" stroke-width="0.8" />
<line x1="401.00" y1="894.60" x2="472.60" y2="894.60" stroke="#1a1a1a" stroke-width="0.8" />
<line x1="401.40" y1="802.00" x2="404.60" y2="802.00" stroke="#1a1a1a" stroke-width="0.7" />
<text x="399.00" y="805.10" font-size="8.6" text-anchor="end">500</text>
<line x1="401.40" y1="820.50" x2="404.60" y2="820.50" stroke="#1a1a1a" stroke-width="0.7" />
<text x="399.00" y="823.60" font-size="8.6" text-anchor="end">400</text>
<line x1="401.40" y1="839.00" x2="404.60" y2="839.00" stroke="#1a1a1a" stroke-width="0.7" />
<text x="399.00" y="842.10" font-size="8.6" text-anchor="end">300</text>
<line x1="401.40" y1="857.60" x2="404.60" y2="857.60" stroke="#1a1a1a" stroke-width="0.7" />
<text x="399.00" y="860.70" font-size="8.6" text-anchor="end">200</text>
<line x1="401.40" y1="876.10" x2="404.60" y2="876.10" stroke="#1a1a1a" stroke-width="0.7" />
<text x="399.00" y="879.20" font-size="8.6" text-anchor="end">100</text>
<text x="399.00" y="897.70" font-size="8.6" text-anchor="end">0</text>
<text x="401.40" y="905.60" font-size="8.6" text-anchor="middle">0.0</text>
<text x="418.90" y="905.60" font-size="8.6" text-anchor="middle">0.5</text>
<text x="436.40" y="905.60" font-size="8.6" text-anchor="middle">1.0</text>
<text x="453.90" y="905.60" font-size="8.6" text-anchor="middle">1.5</text>
<text x="471.80" y="905.60" font-size="8.6" text-anchor="middle">2.0</text>
<text x="437.00" y="915.90" font-size="8.4" text-anchor="middle">Time (hrs) after glucose i.p.</text>
<text font-size="8.3" text-anchor="middle" transform="translate(379.20 849.40) rotate(-90)">Blood glucose (mg/dL)</text>
<text x="418.80" y="846.00" font-size="6.5" text-anchor="middle">**</text>
<text x="436.30" y="857.20" font-size="6.5" text-anchor="middle">**</text>
<rect x="433.20" y="796.70" width="5.6" height="5.6" fill="#000"/>
<rect x="433.50" y="806.80" width="5.0" height="5.0" fill="none" stroke="#555" stroke-width="0.6"/>
<text x="442.30" y="802.60" font-size="7.9" >Conventional</text>
<text x="442.30" y="812.20" font-size="7.9" >Germ-free</text>
<rect x="408.10" y="872.40" width="5.6" height="5.6" fill="#000"/>
<rect x="416.30" y="872.70" width="5.0" height="5.0" fill="none" stroke="#000" stroke-width="0.6"/>
<text x="425.00" y="878.20" font-size="8.0" >Cellulose</text>
<rect x="408.10" y="882.00" width="5.6" height="5.6" fill="#00b050"/>
<rect x="416.30" y="882.30" width="5.0" height="5.0" fill="none" stroke="#00b050" stroke-width="0.6"/>
<text x="425.00" y="888.00" font-size="8.0" fill="#00b050">SsEPS</text>
<path d="M249.50 899.50 L249.50 881.00 L258.90 881.00 L258.90 899.50" stroke="#1a1a1a" stroke-width="0.75" fill="#fff" />
<path d="M263.40 899.50 L263.40 869.20 L272.80 869.20 L272.80 899.50" stroke="#1a1a1a" stroke-width="0.75" fill="#fff" />
<path d="M277.60 899.50 L277.60 841.00 L286.80 841.00 L286.80 899.50" stroke="#1a1a1a" stroke-width="0.75" fill="#fff" />
<path d="M291.50 899.50 L291.50 880.20 L300.90 880.20 L300.90 899.50" stroke="#1a1a1a" stroke-width="0.75" fill="#fff" />
<path d="M305.70 899.50 L305.70 866.40 L314.90 866.40 L314.90 899.50" stroke="#1a1a1a" stroke-width="0.75" fill="#fff" />
<path d="M320.00 899.50 L320.00 865.20 L329.30 865.20 L329.30 899.50" stroke="#1a1a1a" stroke-width="0.75" fill="#fff" />
<line x1="254.20" y1="879.80" x2="254.20" y2="881.00" stroke="#1a1a1a" stroke-width="0.7" />
<line x1="251.60" y1="879.80" x2="256.80" y2="879.80" stroke="#1a1a1a" stroke-width="0.7" />
<line x1="268.10" y1="865.20" x2="268.10" y2="869.20" stroke="#1a1a1a" stroke-width="0.7" />
<line x1="265.50" y1="865.20" x2="270.70" y2="865.20" stroke="#1a1a1a" stroke-width="0.7" />
<line x1="282.20" y1="838.40" x2="282.20" y2="841.00" stroke="#1a1a1a" stroke-width="0.7" />
<line x1="279.60" y1="838.40" x2="284.80" y2="838.40" stroke="#1a1a1a" stroke-width="0.7" />
<line x1="296.20" y1="876.40" x2="296.20" y2="880.20" stroke="#1a1a1a" stroke-width="0.7" />
<line x1="293.60" y1="876.40" x2="298.80" y2="876.40" stroke="#1a1a1a" stroke-width="0.7" />
<line x1="310.30" y1="863.70" x2="310.30" y2="866.40" stroke="#1a1a1a" stroke-width="0.7" />
<line x1="307.70" y1="863.70" x2="312.90" y2="863.70" stroke="#1a1a1a" stroke-width="0.7" />
<line x1="324.65" y1="862.40" x2="324.65" y2="865.20" stroke="#1a1a1a" stroke-width="0.7" />
<line x1="322.05" y1="862.40" x2="327.25" y2="862.40" stroke="#1a1a1a" stroke-width="0.7" />
<circle cx="250.60" cy="878.80" r="1.35" fill="#000"/>
<circle cx="252.70" cy="879.30" r="1.35" fill="#000"/>
<circle cx="255.10" cy="879.80" r="1.35" fill="#000"/>
<circle cx="257.80" cy="878.80" r="1.35" fill="#000"/>
<circle cx="251.10" cy="881.70" r="1.35" fill="#000"/>
<circle cx="254.30" cy="882.50" r="1.35" fill="#000"/>
<circle cx="257.50" cy="882.50" r="1.35" fill="#000"/>
<circle cx="250.60" cy="884.40" r="1.35" fill="#000"/>
<circle cx="268.20" cy="855.70" r="1.35" fill="#000"/>
<circle cx="268.20" cy="860.50" r="1.35" fill="#000"/>
<circle cx="268.20" cy="865.30" r="1.35" fill="#000"/>
<circle cx="266.00" cy="868.10" r="1.35" fill="#000"/>
<circle cx="270.30" cy="868.10" r="1.35" fill="#000"/>
<circle cx="265.50" cy="876.10" r="1.35" fill="#000"/>
<circle cx="270.70" cy="877.40" r="1.35" fill="#000"/>
<circle cx="268.20" cy="880.40" r="1.35" fill="#000"/>
<circle cx="282.20" cy="827.60" r="1.35" fill="#0dc10d"/>
<circle cx="282.20" cy="835.10" r="1.35" fill="#0dc10d"/>
<circle cx="279.20" cy="841.60" r="1.35" fill="#0dc10d"/>
<circle cx="282.20" cy="840.80" r="1.35" fill="#0dc10d"/>
<circle cx="285.30" cy="841.60" r="1.35" fill="#0dc10d"/>
<circle cx="280.80" cy="843.20" r="1.35" fill="#0dc10d"/>
<circle cx="283.70" cy="844.00" r="1.35" fill="#0dc10d"/>
<circle cx="282.20" cy="845.60" r="1.35" fill="#0dc10d"/>
<circle cx="282.20" cy="851.50" r="1.35" fill="#0dc10d"/>
<circle cx="296.50" cy="872.40" r="1.2000000000000002" fill="none" stroke="#000" stroke-width="0.85"/>
<circle cx="296.50" cy="876.90" r="1.2000000000000002" fill="none" stroke="#000" stroke-width="0.85"/>
<circle cx="294.40" cy="878.50" r="1.2000000000000002" fill="none" stroke="#000" stroke-width="0.85"/>
<circle cx="298.40" cy="878.50" r="1.2000000000000002" fill="none" stroke="#000" stroke-width="0.85"/>
<circle cx="292.80" cy="883.60" r="1.2000000000000002" fill="none" stroke="#000" stroke-width="0.85"/>
<circle cx="296.50" cy="884.10" r="1.2000000000000002" fill="none" stroke="#000" stroke-width="0.85"/>
<circle cx="300.00" cy="883.30" r="1.2000000000000002" fill="none" stroke="#000" stroke-width="0.85"/>
<circle cx="296.50" cy="882.50" r="1.2000000000000002" fill="none" stroke="#000" stroke-width="0.85"/>
<circle cx="310.50" cy="855.70" r="1.2000000000000002" fill="none" stroke="#000" stroke-width="0.85"/>
<circle cx="310.50" cy="859.70" r="1.2000000000000002" fill="none" stroke="#000" stroke-width="0.85"/>
<circle cx="308.10" cy="864.40" r="1.2000000000000002" fill="none" stroke="#000" stroke-width="0.85"/>
<circle cx="310.50" cy="864.90" r="1.2000000000000002" fill="none" stroke="#000" stroke-width="0.85"/>
<circle cx="312.90" cy="865.30" r="1.2000000000000002" fill="none" stroke="#000" stroke-width="0.85"/>
<circle cx="308.90" cy="866.80" r="1.2000000000000002" fill="none" stroke="#000" stroke-width="0.85"/>
<circle cx="310.50" cy="872.60" r="1.2000000000000002" fill="none" stroke="#000" stroke-width="0.85"/>
<circle cx="310.50" cy="877.40" r="1.2000000000000002" fill="none" stroke="#000" stroke-width="0.85"/>
<circle cx="324.40" cy="854.70" r="1.2000000000000002" fill="none" stroke="#0dc10d" stroke-width="0.85"/>
<circle cx="324.40" cy="856.80" r="1.2000000000000002" fill="none" stroke="#0dc10d" stroke-width="0.85"/>
<circle cx="322.50" cy="863.30" r="1.2000000000000002" fill="none" stroke="#0dc10d" stroke-width="0.85"/>
<circle cx="326.90" cy="862.80" r="1.2000000000000002" fill="none" stroke="#0dc10d" stroke-width="0.85"/>
<circle cx="324.40" cy="864.90" r="1.2000000000000002" fill="none" stroke="#0dc10d" stroke-width="0.85"/>
<circle cx="322.50" cy="869.20" r="1.2000000000000002" fill="none" stroke="#0dc10d" stroke-width="0.85"/>
<circle cx="326.90" cy="868.90" r="1.2000000000000002" fill="none" stroke="#0dc10d" stroke-width="0.85"/>
<circle cx="322.50" cy="873.70" r="1.2000000000000002" fill="none" stroke="#0dc10d" stroke-width="0.85"/>
<circle cx="326.90" cy="871.80" r="1.2000000000000002" fill="none" stroke="#0dc10d" stroke-width="0.85"/>
<line x1="244.70" y1="810.10" x2="244.70" y2="899.50" stroke="#1a1a1a" stroke-width="0.8" />
<line x1="244.70" y1="810.50" x2="247.90" y2="810.50" stroke="#1a1a1a" stroke-width="0.7" />
<text x="242.30" y="813.06" font-size="7.1" text-anchor="end">1200</text>
<line x1="244.70" y1="840.20" x2="247.90" y2="840.20" stroke="#1a1a1a" stroke-width="0.7" />
<text x="242.30" y="842.76" font-size="7.1" text-anchor="end">800</text>
<line x1="244.70" y1="869.90" x2="247.90" y2="869.90" stroke="#1a1a1a" stroke-width="0.7" />
<text x="242.30" y="872.46" font-size="7.1" text-anchor="end">400</text>
<line x1="244.70" y1="899.50" x2="247.90" y2="899.50" stroke="#1a1a1a" stroke-width="0.7" />
<text x="242.30" y="902.06" font-size="7.1" text-anchor="end">0</text>
<line x1="244.30" y1="899.50" x2="334.80" y2="899.50" stroke="#1a1a1a" stroke-width="0.8" />
<path d="M254.30 812.10 L254.30 810.30 L282.70 810.30 L282.70 812.10" stroke="#444" stroke-width="0.6" fill="none" />
<text x="268.00" y="806.30" font-size="4.3" text-anchor="middle" fill="#222"><tspan font-style="italic">P</tspan> &lt; 0.0001</text>
<text font-size="7.85" text-anchor="middle" transform="translate(221.20 855.00) rotate(-90)">Plasma insulin (pg/mL)</text>
<text x="239.40" y="908.60" font-size="8.0" text-anchor="end">glucose i.p.</text>
<text x="254.30" y="910.00" font-size="8.6" text-anchor="middle">-</text>
<text x="268.20" y="910.00" font-size="8.6" text-anchor="middle">+</text>
<text x="282.20" y="910.00" font-size="8.6" text-anchor="middle">+</text>
<text x="296.50" y="910.00" font-size="8.6" text-anchor="middle">-</text>
<text x="310.50" y="910.00" font-size="8.6" text-anchor="middle">+</text>
<text font-size="8.0" text-anchor="end" transform="translate(258.20 917.00) rotate(-43)">( - )</text>
<text font-size="8.0" text-anchor="end" transform="translate(271.60 918.60) rotate(-43)">Cellulose</text>
<text font-size="8.0" text-anchor="end" transform="translate(285.80 918.60) rotate(-43)">SsEPS</text>
<text font-size="8.0" text-anchor="end" transform="translate(300.40 917.00) rotate(-43)">( - )</text>
<text font-size="8.0" text-anchor="end" transform="translate(313.80 918.60) rotate(-43)">Cellulose</text>
<text font-size="8.0" text-anchor="end" transform="translate(324.00 919.00) rotate(-43)">SsEPS</text>
<text x="325.40" y="916.00" font-size="8.6" text-anchor="middle">+</text>
<path d="M558.20 896.20 L558.20 880.60 L567.60 880.60 L567.60 896.20" stroke="#1a1a1a" stroke-width="0.75" fill="#fff" />
<path d="M572.30 896.20 L572.30 863.20 L581.70 863.20 L581.70 896.20" stroke="#1a1a1a" stroke-width="0.75" fill="#fff" />
<path d="M586.50 896.20 L586.50 844.30 L595.90 844.30 L595.90 896.20" stroke="#1a1a1a" stroke-width="0.75" fill="#fff" />
<path d="M600.90 896.20 L600.90 880.60 L610.40 880.60 L610.40 896.20" stroke="#1a1a1a" stroke-width="0.75" fill="#fff" />
<path d="M615.20 896.20 L615.20 848.30 L624.80 848.30 L624.80 896.20" stroke="#1a1a1a" stroke-width="0.75" fill="#fff" />
<path d="M629.30 896.20 L629.30 848.30 L638.90 848.30 L638.90 896.20" stroke="#1a1a1a" stroke-width="0.75" fill="#fff" />
<line x1="562.90" y1="880.00" x2="562.90" y2="880.60" stroke="#1a1a1a" stroke-width="0.7" />
<line x1="560.30" y1="880.00" x2="565.50" y2="880.00" stroke="#1a1a1a" stroke-width="0.7" />
<line x1="577.00" y1="861.20" x2="577.00" y2="863.20" stroke="#1a1a1a" stroke-width="0.7" />
<line x1="574.40" y1="861.20" x2="579.60" y2="861.20" stroke="#1a1a1a" stroke-width="0.7" />
<line x1="591.20" y1="841.60" x2="591.20" y2="844.30" stroke="#1a1a1a" stroke-width="0.7" />
<line x1="588.60" y1="841.60" x2="593.80" y2="841.60" stroke="#1a1a1a" stroke-width="0.7" />
<line x1="605.65" y1="879.60" x2="605.65" y2="880.60" stroke="#1a1a1a" stroke-width="0.7" />
<line x1="603.05" y1="879.60" x2="608.25" y2="879.60" stroke="#1a1a1a" stroke-width="0.7" />
<line x1="620.00" y1="843.50" x2="620.00" y2="848.30" stroke="#1a1a1a" stroke-width="0.7" />
<line x1="617.40" y1="843.50" x2="622.60" y2="843.50" stroke="#1a1a1a" stroke-width="0.7" />
<line x1="634.10" y1="843.20" x2="634.10" y2="848.30" stroke="#1a1a1a" stroke-width="0.7" />
<line x1="631.50" y1="843.20" x2="636.70" y2="843.20" stroke="#1a1a1a" stroke-width="0.7" />
<rect x="558.20" y="877.70" width="2.6" height="2.6" fill="#000"/>
<rect x="560.20" y="878.70" width="2.6" height="2.6" fill="#000"/>
<rect x="562.30" y="879.30" width="2.6" height="2.6" fill="#000"/>
<rect x="564.50" y="878.10" width="2.6" height="2.6" fill="#000"/>
<rect x="559.10" y="880.50" width="2.6" height="2.6" fill="#000"/>
<rect x="561.30" y="880.90" width="2.6" height="2.6" fill="#000"/>
<rect x="563.50" y="880.50" width="2.6" height="2.6" fill="#000"/>
<rect x="565.30" y="879.90" width="2.6" height="2.6" fill="#000"/>
<rect x="572.10" y="856.30" width="2.6" height="2.6" fill="#000"/>
<rect x="575.30" y="857.50" width="2.6" height="2.6" fill="#000"/>
<rect x="572.60" y="861.90" width="2.6" height="2.6" fill="#000"/>
<rect x="575.80" y="862.80" width="2.6" height="2.6" fill="#000"/>
<rect x="579.00" y="861.10" width="2.6" height="2.6" fill="#000"/>
<rect x="572.60" y="865.20" width="2.6" height="2.6" fill="#000"/>
<rect x="575.80" y="864.40" width="2.6" height="2.6" fill="#000"/>
<rect x="579.00" y="865.20" width="2.6" height="2.6" fill="#000"/>
<rect x="572.10" y="866.70" width="2.6" height="2.6" fill="#000"/>
<rect x="590.00" y="825.80" width="2.6" height="2.6" fill="#0dc10d"/>
<rect x="590.00" y="840.30" width="2.6" height="2.6" fill="#0dc10d"/>
<rect x="586.70" y="841.90" width="2.6" height="2.6" fill="#0dc10d"/>
<rect x="593.20" y="843.80" width="2.6" height="2.6" fill="#0dc10d"/>
<rect x="590.00" y="845.40" width="2.6" height="2.6" fill="#0dc10d"/>
<rect x="588.30" y="851.20" width="2.6" height="2.6" fill="#0dc10d"/>
<rect x="591.60" y="851.20" width="2.6" height="2.6" fill="#0dc10d"/>
<rect x="601.00" y="877.40" width="2.4" height="2.4" fill="none" stroke="#000" stroke-width="0.85"/>
<rect x="603.20" y="876.60" width="2.4" height="2.4" fill="none" stroke="#000" stroke-width="0.85"/>
<rect x="605.40" y="877.20" width="2.4" height="2.4" fill="none" stroke="#000" stroke-width="0.85"/>
<rect x="607.60" y="878.20" width="2.4" height="2.4" fill="none" stroke="#000" stroke-width="0.85"/>
<rect x="602.00" y="880.00" width="2.4" height="2.4" fill="none" stroke="#000" stroke-width="0.85"/>
<rect x="604.40" y="880.40" width="2.4" height="2.4" fill="none" stroke="#000" stroke-width="0.85"/>
<rect x="606.80" y="879.80" width="2.4" height="2.4" fill="none" stroke="#000" stroke-width="0.85"/>
<rect x="602.20" y="882.20" width="2.4" height="2.4" fill="none" stroke="#000" stroke-width="0.85"/>
<rect x="618.50" y="829.10" width="2.4" height="2.4" fill="none" stroke="#000" stroke-width="0.85"/>
<rect x="616.40" y="835.90" width="2.4" height="2.4" fill="none" stroke="#000" stroke-width="0.85"/>
<rect x="621.20" y="836.80" width="2.4" height="2.4" fill="none" stroke="#000" stroke-width="0.85"/>
<rect x="618.50" y="845.50" width="2.4" height="2.4" fill="none" stroke="#000" stroke-width="0.85"/>
<rect x="618.50" y="848.70" width="2.4" height="2.4" fill="none" stroke="#000" stroke-width="0.85"/>
<rect x="618.50" y="852.40" width="2.4" height="2.4" fill="none" stroke="#000" stroke-width="0.85"/>
<rect x="616.40" y="863.20" width="2.4" height="2.4" fill="none" stroke="#000" stroke-width="0.85"/>
<rect x="621.20" y="862.40" width="2.4" height="2.4" fill="none" stroke="#000" stroke-width="0.85"/>
<rect x="632.90" y="826.20" width="2.4" height="2.4" fill="none" stroke="#0dc10d" stroke-width="0.85"/>
<rect x="632.90" y="836.40" width="2.4" height="2.4" fill="none" stroke="#0dc10d" stroke-width="0.85"/>
<rect x="635.30" y="839.20" width="2.4" height="2.4" fill="none" stroke="#0dc10d" stroke-width="0.85"/>
<rect x="630.50" y="841.20" width="2.4" height="2.4" fill="none" stroke="#0dc10d" stroke-width="0.85"/>
<rect x="632.90" y="845.50" width="2.4" height="2.4" fill="none" stroke="#0dc10d" stroke-width="0.85"/>
<rect x="632.90" y="849.20" width="2.4" height="2.4" fill="none" stroke="#0dc10d" stroke-width="0.85"/>
<rect x="632.90" y="868.00" width="2.4" height="2.4" fill="none" stroke="#0dc10d" stroke-width="0.85"/>
<rect x="632.90" y="872.20" width="2.4" height="2.4" fill="none" stroke="#0dc10d" stroke-width="0.85"/>
<line x1="553.50" y1="805.00" x2="553.50" y2="896.20" stroke="#1a1a1a" stroke-width="0.8" />
<line x1="553.50" y1="805.40" x2="556.70" y2="805.40" stroke="#1a1a1a" stroke-width="0.7" />
<text x="551.10" y="807.96" font-size="7.1" text-anchor="end">1500</text>
<line x1="553.50" y1="835.70" x2="556.70" y2="835.70" stroke="#1a1a1a" stroke-width="0.7" />
<text x="551.10" y="838.26" font-size="7.1" text-anchor="end">1000</text>
<line x1="553.50" y1="865.90" x2="556.70" y2="865.90" stroke="#1a1a1a" stroke-width="0.7" />
<text x="551.10" y="868.46" font-size="7.1" text-anchor="end">500</text>
<line x1="553.50" y1="896.20" x2="556.70" y2="896.20" stroke="#1a1a1a" stroke-width="0.7" />
<text x="551.10" y="898.76" font-size="7.1" text-anchor="end">0</text>
<line x1="553.10" y1="896.20" x2="643.50" y2="896.20" stroke="#1a1a1a" stroke-width="0.8" />
<path d="M563.10 807.20 L563.10 805.40 L591.60 805.40 L591.60 807.20" stroke="#444" stroke-width="0.6" fill="none" />
<text x="577.00" y="801.50" font-size="4.3" text-anchor="middle" fill="#222"><tspan font-style="italic">P</tspan> = 0.0006</text>
<text font-size="8.1" text-anchor="middle" transform="translate(528.70 851.90) rotate(-90)">Plasma insulin (pg/mL)</text>
<text x="548.70" y="905.00" font-size="8.0" text-anchor="end">glucose i.p.</text>
<text x="563.00" y="905.60" font-size="8.6" text-anchor="middle">-</text>
<text x="577.10" y="905.60" font-size="8.6" text-anchor="middle">+</text>
<text x="591.30" y="905.60" font-size="8.6" text-anchor="middle">+</text>
<text x="605.50" y="905.60" font-size="8.6" text-anchor="middle">-</text>
<text x="619.70" y="905.60" font-size="8.6" text-anchor="middle">+</text>
<text x="633.80" y="905.60" font-size="8.6" text-anchor="middle">+</text>
<text font-size="8.0" text-anchor="end" transform="translate(566.40 914.40) rotate(-43)">( - )</text>
<text font-size="8.0" text-anchor="end" transform="translate(580.20 916.00) rotate(-43)">Cellulose</text>
<text font-size="8.0" text-anchor="end" transform="translate(594.40 916.00) rotate(-43)">SsEPS</text>
<text font-size="8.0" text-anchor="end" transform="translate(609.00 914.40) rotate(-43)">( - )</text>
<text font-size="8.0" text-anchor="end" transform="translate(622.60 916.00) rotate(-43)">Cellulose</text>
<text font-size="8.0" text-anchor="end" transform="translate(636.80 916.00) rotate(-43)">SsEPS</text>
</svg>
</body></html>
